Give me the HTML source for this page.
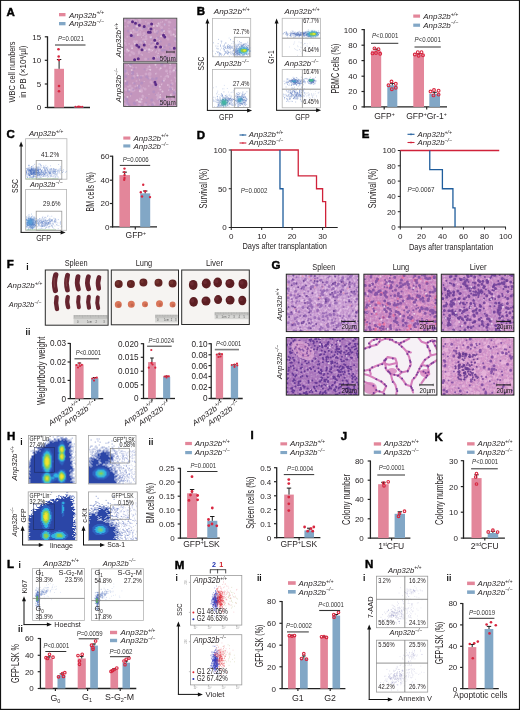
<!DOCTYPE html>
<html><head><meta charset="utf-8"><title>Figure</title>
<style>html,body{margin:0;padding:0;background:#fff;}svg{display:block;}text{font-family:'Liberation Sans', Arial, sans-serif;}</style>
</head><body>
<svg width="520" height="710" viewBox="0 0 520 710">
<rect x="0" y="0" width="520" height="710" fill="#111"/>
<rect x="1.1" y="0.9" width="517.8" height="707.9" fill="#fff"/>
<defs><filter id="b1" x="-50%" y="-50%" width="200%" height="200%"><feGaussianBlur stdDeviation="1.0"/></filter><filter id="b2" x="-50%" y="-50%" width="200%" height="200%"><feGaussianBlur stdDeviation="1.8"/></filter><filter id="b05" x="-50%" y="-50%" width="200%" height="200%"><feGaussianBlur stdDeviation="0.5"/></filter><filter id="tx" x="0" y="0" width="100%" height="100%"><feTurbulence type="fractalNoise" baseFrequency="0.45" numOctaves="2" seed="4"/><feColorMatrix type="matrix" values="0 0 0 0 0.33 0 0 0 0 0.13 0 0 0 0 0.45 1.8 0 0 0 -0.62"/></filter><filter id="tw" x="0" y="0" width="100%" height="100%"><feTurbulence type="fractalNoise" baseFrequency="0.5" numOctaves="2" seed="9"/><feColorMatrix type="matrix" values="0 0 0 0 1 0 0 0 0 0.92 0 0 0 0 0.98 0 1.8 0 0 -0.75"/></filter></defs>
<clipPath id="c1"><rect x="123.60" y="18.20" width="53.20" height="43.60"/></clipPath>
<g clip-path="url(#c1)">
<rect x="123.60" y="18.20" width="53.20" height="43.60" fill="#c496bd" />
<path fill="none" stroke="#d7b3d2" stroke-width="2" stroke-linecap="round" stroke-opacity="0.6" d="M123.7 20.6h0m46.7 1.8h0m-14.3 2.6h0m4.6-2.4h0m-35.4 4.2h0m2.6-.8h0m8.4.4h0m32.8-.8h0m-17.9 5.2h0m2.9-.2h0m-20.3 1.9h0m4.2.8h0m2.4-1.4h0m14.7.3h0m-27.7 4.5h0m38.8-.6h0m-29.9 5.8h0m9.4 1.6h0m5.6-1.4h0m-25.3 2.9h0m3.1-1.2h0m26.6 1.7h0m.7.3h0m1.6-2h0m8.2 1.6h0m-15.4 4h0m2.4 0h0m-28.9 1.3h0m6.9 1.3h0m17.8.3h0m6.8 0h0m-31.5 2.4h0m14.6-1.2h0m2.5 1h0m16.4-1.1h0m8.7.7h0m4.9-1.4h0m-14.4 3.1h0m4.6 2.6h0m-26.5 1.9h0m28.3-1.4h0m5.6 2.5h0m1.4-2.4h0m0 2.2h0m3.7-2.6h0"/>
<path fill="none" stroke="#d7b3d2" stroke-width="3" stroke-linecap="round" stroke-opacity="0.6" d="M131.9 18.4h0m1.2.8h0m-8.3 1.6h0m10.9.4h0m3.9-1.6h0m.5 2h0m26-1.8h0m3 2.2h0m-40.6.5h0m7.1 1h0m12.7.1h0m11 1.7h0m-19.2 2.6h0m21.5-.5h0m-31.1 3.5h0m2.9-.6h0m4.6-.4h0m3.8-.7h0m15.1 2.1h0m17.9-2.2h0m-34.6 5.2h0m3.9-.8h0m17.7-.9h0m-22.2 2h0m6.3 1.5h0m4.7.9h0m20.7-2.3h0m-27.9 5.1h0m2.7-1h0m10.9-.3h0m9.2-.9h0m1.9 1.4h0m-43.1 4h0m9.1-1.5h0m2.5.1h0m4.2 1.2h0m-9.2 3.1h0m19.7.4h0m2.1-1.1h0m-13.8 1.9h0m2.8 1.9h0m3.6-.5h0m25.7-.1h0m-44.7 2.9h0m12.2.4h0m9.6-2.2h0m2.6 1h0m7.7-.3h0m-29 4.8h0m2.6-2.3h0m1.1.7h0m29.5 1.3h0m-8.6 2.9h0m3.5-.8h0m.6.1h0m12.5.5h0m3.6.2h0m-29.3 1.5h0m22.5.6h0m-32 1.9h0"/>
<path fill="none" stroke="#d7b3d2" stroke-width="4" stroke-linecap="round" stroke-opacity="0.6" d="M130.2 21.2h0m6 10.1h0m33.6.6h0m6 8.3h0m-2.8 15.3h0"/>
<path fill="none" stroke="#f0e2ee" stroke-width="1" stroke-linecap="round" stroke-opacity="0.6" d="M145.8 21.8h0m16.6.1h0m-10.3 1.2h0m-15.6 2.9h0m12 2.2h0m-15 1.7h0m21.2-.1h0m13.3 1.1h0m1-2.1h0m-36.2 5.1h0m15.1-2.1h0m6.9.1h0m9.7 1.7h0m5.1-1.7h0m-28.2 5.3h0m1.7-1.7h0m-18.3 3.6h0m1 1.1h0m18.6 1.7h0m15-1.2h0m-10.3 3.6h0m-10.9 2.9h0m16.3.5h0m-2 2.7h0m3.9.7h0m-14 4h0m16-1.8h0m9.6.7h0m-10.2 3.3h0m11.5.1h0m1.5.4h0m-10.4 2h0"/>
<path fill="none" stroke="#f0e2ee" stroke-width="2" stroke-linecap="round" stroke-opacity="0.6" d="M158.5 23.6h0m6.3.9h0m-27.4 1.9h0m16.3-.3h0m3.5-.1h0m6.7 5.1h0m-32.8 1.6h0m6.6 2.2h0m23.4 1.3h0m12.6-1.7h0m1.7 1.7h0m-24.3 1.3h0m-6 4.3h0m10.3.6h0m-20.6 1.3h0m-7.6 5.7h0m4.9-1.1h0m29.7-.7h0m-33.1 3.2h0m13.6-1.3h0m2.6.7h0m4.3-.6h0m14.5 10.5h0"/>
<path fill="none" stroke="#a88ac6" stroke-width="2" stroke-linecap="round" stroke-opacity="0.5" d="M126.8 19.2h0m8.7-.9h0m-11.7 1.2h0m5.6.6h0m22.4-.3h0m-17.5 5.4h0m3.7-2.7h0m27.3 2h0m-35.8 1h0m4.5 1.8h0m8.7 1.1h0m32.3-.7h0m-16.9 3.8h0m-1 1.7h0m-27.4 2h0m1.7.4h0m32.5.1h0m-12.4 2.6h0m6.5-.7h0m-14.7 3.7h0m.7 1h0m7.7.7h0m9.1-1.4h0m3.8 5.5h0m5.3 1.4h0m-23.1 2.7h0m14.9-.7h0m3.3-.6h0m2 .9h0m4.4-1.2h0m-31.9 6.1h0m13.5 2.8h0m5.4-1h0m16.2-.4h0m-26.2 1.8h0m3.9-.2h0m7.5 0h0m.1 1.8h0"/>
<path fill="none" stroke="#a88ac6" stroke-width="3" stroke-linecap="round" stroke-opacity="0.5" d="M148.8 25.4h0m-3.1 2.8h0m-17.4 2.8h0m8.6-1.2h0m25.4.4h0m-28.6 6.2h0m41.7 2.6h0m-35.6 5.7h0m29.5-.3h0m-6.3 5.8h0m3.3 6.9h0m-9 3.7h0m9.2-2h0"/>
<path fill="none" stroke="#a88ac6" stroke-width="1" stroke-linecap="round" stroke-opacity="0.5" d="M132.7 19.8h0m9.3 3.8h0m3.1 1.9h0m0 10h0m20.7 9.9h0m-20.5 3.5h0m-8.4 3.4h0m18.7-2.4h0m16.8 9.3h0"/>
<path fill="none" stroke="#5b2c88" stroke-width="3" stroke-linecap="round" d="M132.5 21.7h0m3 1.6h0m3.9 1.9h0m12.2-1.1h0m-7.4 2.4h0m6.8 2.6h0m-2.6 3.2h0m1.9 0h0m-19 3.2h0m32.2-.2h0m1.3 1.7h0m-10.1 3.2h0m2.7 3.2h0m-20.6 1.9h0m7.4-.3h0m-5.3 2.1h0m16.9 0h0m4.8 0h0m13.7 1.1h0m-32.3 1.5h0m11.7 8.5h0m-19.1 1.6h0m3.7-1.1h0"/>
</g>
<rect x="123.60" y="18.20" width="53.20" height="43.60" fill="none" stroke="#4a4a4a" stroke-width="0.9" />
<line x1="166.60" y1="52.00" x2="174.30" y2="52.00" stroke="#222" stroke-width="0.9" />
<line x1="166.60" y1="50.80" x2="166.60" y2="53.20" stroke="#222" stroke-width="0.6" />
<line x1="174.30" y1="50.80" x2="174.30" y2="53.20" stroke="#222" stroke-width="0.6" />
<text x="159.8" y="60.5" font-size="7" fill="#222" textLength="16.0" lengthAdjust="spacingAndGlyphs" >50µm</text>
<clipPath id="c2"><rect x="123.60" y="63.10" width="53.20" height="43.40"/></clipPath>
<g clip-path="url(#c2)">
<rect x="123.60" y="63.10" width="53.20" height="43.40" fill="#c496bd" />
<path fill="none" stroke="#d7b3d2" stroke-width="2" stroke-linecap="round" stroke-opacity="0.6" d="M126.8 65.5h0m3.9 1.2h0m1.1-.7h0m18.1 1.1h0m6.7.1h0m-23.8.5h0m3.4-.1h0m11 1.4h0m12.4.6h0m-3.3 3.8h0m9.9-1.9h0m3.9-.7h0m6.6.8h0m-39.6 2h0m3.9 2.5h0m1.9-.4h0m24.2-.3h0m0 .4h0m-6.1.7h0m4.5.1h0m9.3.9h0m-38.3 3.4h0m19 .9h0m.7.5h0m15.2-1.8h0m4.4 1h0m-42.8 1.5h0m19 .6h0m7.3 1.5h0m2.4-1h0m6.1.6h0m.9.5h0m-40.6 1.5h0m7.3-.3h0m8 1.7h0m5.3-2.2h0m20.9 1h0m-43.5 3.4h0m8.3.3h0m25.2-1h0m.9.2h0m9.1-.3h0m4.6.6h0m-15.8 2.8h0m13.3 1h0m3.4-1.8h0m-32.6 3.4h0m-5.8 4.4h0m3.1-1.5h0m6.3-.7h0m-22.3 5.4h0m2.2-1h0m9.9-1.3h0m17.4 1.5h0m10 1.1h0m-13.8 1.6h0m13.2-.2h0m10-.2h0"/>
<path fill="none" stroke="#d7b3d2" stroke-width="3" stroke-linecap="round" stroke-opacity="0.6" d="M148.8 67h0m16.1-1h0m5.5.9h0m-44.4 3.6h0m44.2-2.4h0m4.9.1h0m-50.8 2.9h0m2.6 1.9h0m39.7-2.2h0m3.7 1.1h0m3.1-1h0m-39.4 5.3h0m12-2.3h0m21.8 2.3h0m-17.9 1.6h0m14.7 1h0m-13.7 3.1h0m25.4-1.3h0m-4.1 2.8h0m-42.1 2.7h0m1.9 2.4h0m8.2-1.7h0m31.8 1.1h0m-46.6 1h0m4.3 1.1h0m2.8.7h0m12.7-1.6h0m-3.7 2.5h0m1.4 4.8h0m14.1-1.5h0m1.4 2.5h0m1.1-2h0m-35.3 4.1h0m33.6-1h0m14.6-.7h0m.5 1.3h0m-46.6 4.3h0m13.6-2.6h0m1.3 1h0m24.1-.6h0m4.8.9h0m-45.4 2.2h0m14.3.7h0m6.4 1h0m0-2h0m8.7-.2h0m10.3 2.1h0m10.9-1.1h0"/>
<path fill="none" stroke="#d7b3d2" stroke-width="4" stroke-linecap="round" stroke-opacity="0.6" d="M149.7 73.9h0m-8.7 16.4h0m25.2 7.8h0m-5.5 3.9h0"/>
<path fill="none" stroke="#f0e2ee" stroke-width="2" stroke-linecap="round" stroke-opacity="0.6" d="M170.2 63.9h0m-40.1 1.9h0m25.4-1.1h0m-23.8 5.2h0m18.6-.1h0m10.4-1.6h0m13.3 2h0m-36.4 5.4h0m-12.2 5.4h0m38.4-.2h0m-4 6h0m-30.5 3.2h0m10.5 1.2h0m22.7.3h0m-35.1 5.5h0m32.9.3h0m10.7-1.7h0m-33.8 4.7h0m4.4-1h0m-2.6 2.4h0m1 .3h0m31.1-.6h0m1.9.4h0m-45.8 3.6h0m40.3.9h0"/>
<path fill="none" stroke="#f0e2ee" stroke-width="1" stroke-linecap="round" stroke-opacity="0.6" d="M128.7 64.5h0m20.7 1.5h0m-.4 3.4h0m-17.5 4h0m15.4-2.7h0m20.5 2.5h0m-38.9 1.1h0m26.9-.4h0m14.7.3h0m-1.7 2.8h0m7.7 1.4h0m-36.6 1.6h0m4.7 1.5h0m-7 3.8h0m24.4-.6h0m6 .5h0m-30 .7h0m23.2 3.4h0m7.7.9h0m4-.9h0m-23.5 5h0m21.3 0h0m-45.7.6h0m6 1.1h0m29.9-1.5h0m-.6 6h0m8.8-1.2h0m-5 1.2h0m7.1 3h0m1.8.3h0"/>
<path fill="none" stroke="#a88ac6" stroke-width="2" stroke-linecap="round" stroke-opacity="0.5" d="M125.6 69.7h0m8.6-.6h0m10.3.1h0m31.6 1.1h0m-50.2.7h0m11.4 6.6h0m11 .9h0m8.5-.5h0m-29.4 3.9h0m35.2-.6h0m-28.5 2.2h0m.6.1h0m36.3 1.2h0m-34.7 3.2h0m2.8-2.4h0m13.6 1h0m3.1.1h0m-22.6 3.1h0m-2 4.2h0m-3.6 5.9h0m19.2-2.1h0m12.3 1.9h0m-12.9 3h0m-16.5 2.6h0m12.4.4h0m7.1-.3h0m12.1-1.3h0m1.2-.3h0"/>
<path fill="none" stroke="#a88ac6" stroke-width="3" stroke-linecap="round" stroke-opacity="0.5" d="M130.9 64.4h0m30.9-.1h0m-36.8 7.1h0m7.7 1h0m-6.9 4h0m6.7-2.7h0m.1 4.4h0m8.3-.8h0m5.8-.6h0m5.8 2.3h0m3.4-.1h0m-29.3 4.8h0m15.1-.8h0m-2.4 4.4h0m-10.8 3.6h0m42.1-1.9h0m-16.8 2.8h0m20.4 1h0m-47.9 5.9h0m25.5 1.4h0m11.4-.6h0m-36.5 2.8h0m7.6.7h0m-6.4 1h0m7-.4h0m17.7 1.1h0m7.8 0h0m8.2-.1h0"/>
<path fill="none" stroke="#a88ac6" stroke-width="1" stroke-linecap="round" stroke-opacity="0.5" d="M176.7 63.6h0m-43.5 8.4h0m5.7 9.2h0m16.6 13.3h0"/>
<path fill="none" stroke="#5b2c88" stroke-width="3" stroke-linecap="round" d="M155 82.3h0m.8 2.3h0"/>
</g>
<rect x="123.60" y="63.10" width="53.20" height="43.40" fill="none" stroke="#4a4a4a" stroke-width="0.9" />
<line x1="166.60" y1="96.90" x2="174.30" y2="96.90" stroke="#222" stroke-width="0.9" />
<line x1="166.60" y1="95.70" x2="166.60" y2="98.10" stroke="#222" stroke-width="0.6" />
<line x1="174.30" y1="95.70" x2="174.30" y2="98.10" stroke="#222" stroke-width="0.6" />
<text x="159.8" y="105.4" font-size="7" fill="#222" textLength="16.0" lengthAdjust="spacingAndGlyphs" >50µm</text>
<text x="121.0" y="40.0" font-size="7.6" font-style="italic" text-anchor="middle" fill="#231f20" textLength="34.6" lengthAdjust="spacingAndGlyphs" transform="rotate(-90 121.0 40.0)" >Anp32b<tspan dy="-3.0" font-size="4.8">+/+</tspan></text>
<text x="121.0" y="85.0" font-size="7.6" font-style="italic" text-anchor="middle" fill="#231f20" textLength="34.6" lengthAdjust="spacingAndGlyphs" transform="rotate(-90 121.0 85.0)" >Anp32b<tspan dy="-3.0" font-size="4.8">−/−</tspan></text>
<text x="213.8" y="13.8" font-size="7.8" font-style="italic" fill="#231f20" textLength="36.0" lengthAdjust="spacingAndGlyphs" >Anp32b<tspan dy="-3.2" font-size="5.2">+/+</tspan></text>
<text x="215.0" y="66.3" font-size="7.8" font-style="italic" fill="#231f20" textLength="34.0" lengthAdjust="spacingAndGlyphs" >Anp32b<tspan dy="-3.2" font-size="5.2">−/−</tspan></text>
<text x="284.5" y="13.8" font-size="7.8" font-style="italic" fill="#231f20" textLength="35.0" lengthAdjust="spacingAndGlyphs" >Anp32b<tspan dy="-3.2" font-size="5.2">+/+</tspan></text>
<text x="284.5" y="66.3" font-size="7.8" font-style="italic" fill="#231f20" textLength="34.0" lengthAdjust="spacingAndGlyphs" >Anp32b<tspan dy="-3.2" font-size="5.2">−/−</tspan></text>
<rect x="212.50" y="18.40" width="38.20" height="38.40" fill="none" stroke="#b5b5b5" stroke-width="0.8" />
<clipPath id="c3"><rect x="212.50" y="18.40" width="38.20" height="38.40"/></clipPath>
<g clip-path="url(#c3)">
<path fill="none" stroke="#4a6cb8" stroke-width=".8" stroke-opacity="0.55" d="M239.2 41.6h.8m.9 1.1h.8m5.6-.5h.8m-4.4 1.3h.8m.9-.1h.8m-8.6 1h.8m1.4.4h.8m2.6 0h.8m-.4-.1h.8m-.2-.3h.8m-.2-.2h.8m.6.7h.8m.5-.9h.8m-7.1 1h.8m-.6.6h.8m-.3-.3h.8m-.5-.2h.8m0 0h.8m-.6.1h.8m1 .1h.8m1.2.2h.8m.2.3h.8m-.8-.1h.8m-14.6.6h.8m1.6.5h.8m.2-.7h.8m.9.7h.8m-.2-.4h.8m.3.1h.8m-.6.4h.8m.2-.9h.8m-.2.7h.8m.3-.2h.8m-.3-.5h.8m1.2.5h.8m-.7.1h.8m-11.5.9h.8m.1.3h.8m1.5-.2h.8m-.6-.7h.8m.5.8h.8m-.6-.5h.8m-.5-.3h.8m0 .1h.8m-.7-.1h.8m-.4.1h.8m-.4.3h.8m-.2.2h.8m-.4-.1h.8m-.2.4h.8m.1 0h.8m-.1-.6h.8m-.4 0h.8m-.2.5h.8m-.6 0h.8m-.8 0h.8m.5-.6h.8m.4.5h.8m-22.3.8h.8m7.2 0h.8m-.5.5h.8m.6-.9h.8m-.3.8h.8m-.5-.3h.8m-.4-.1h.8m.6 0h.8m-.7.1h.8m-.7.2h.8m-.7.2h.8m-.5-.5h.8m-.7.2h.8m.7-.4h.8m-.5-.2h.8m-.3.3h.8m-.5-.4h.8m-.6.8h.8m-.5-.5h.8m-.7.3h.8m0-.3h.8m-.1.6h.8m-.5-.2h.8m-.7.2h.8m-.6.1h.8m-.5-.8h.8m.3.1h.8m.8.5h.8m-15.6.6h.8m-.3-.3h.8m-.3.3h.8m.5.1h.8m0-.3h.8m.5.7h.8m.2-.9h.8m-.7.5h.8m-.6.1h.8m-.7-.2h.8m-.5 0h.8m1.3.1h.8m-.3-.1h.8m-.5.2h.8m-.5 0h.8m-.7-.5h.8m-.1-.1h.8m.3.8h.8m-.4-.6h.8m-.7.4h.8m-.7-.2h.8m-.8 0h.8m-.4.6h.8m-.6-.4h.8m-.5.2h.8m-.5-.3h.8m-.7-.3h.8m-.6.5h.8m-.7.1h.8m-.4-.1h.8m-.6.1h.8m-14.5.6h.8m.4-.1h.8m.3.4h.8m.1-.1h.8m-.4.1h.8m-.3-.3h.8m-.3-.3h.8m-.5.9h.8m-.8-.4h.8m-.4 0h.8m-.7-.2h.8m-.6.5h.8m-.8-.7h.8m-.7.4h.8m-.7-.1h.8m-.2-.3h.8m-.6-.1h.8m-.6.6h.8m-.4-.7h.8m-.7 0h.8m-.5.3h.8m-.6.5h.8m-.1.1h.8m-.5 0h.8m-.5-.6h.8m.3-.1h.8m-.5.8h.8m-.5-.1h.8m-.6-.7h.8m-.1.3h.8m-.5.4h.8m-.6-.7h.8m-.7-.1h.8m0 .1h.8m-16.4.9h.8m1.6.1h.8m-.2.1h.8m.1-.2h.8m-.8.5h.8m-.3.1h.8m-.6-.2h.8m-.2-.4h.8m.1.3h.8m-.6-.3h.8m-.7.7h.8m-.8-.6h.8m-.7.5h.8m-.1.2h.8m-.4.1h.8m.5 0h.8m-.6-.6h.8m-.5.2h.8m-.5-.3h.8m-.6 0h.8m-.8 0h.8m-.7.6h.8m-.7-.8h.8m-.8.7h.8m-.7-.5h.8m-.4-.2h.8m-.8.8h.8m-.6-.5h.8m-.8.5h.8m-.6-.1h.8m.2-.3h.8m-.7-.4h.8m-.1.2h.8m0-.1h.8m-.4.1h.8m-.7.1h.8m1.7-.4h.8m-.4.2h.8m-.8.2h.8m-.8.2h.8m-.6-.5h.8m-.8-.1h.8m-15.5 1.2h.8m-.8-.1h.8m.8.7h.8m-.5-.2h.8m-.6.2h.8m0-.5h.8m-.6.3h.8m-.4.2h.8m-.2 0h.8m-.5-.1h.8m-.7-.4h.8m-.6.3h.8m-.8 0h.8m-.4-.2h.8m-.5-.4h.8m.4.4h.8m.3 0h.8m-.3-.1h.8m-.2.7h.8m1.2-.9h.8m-10.3 1.2h.8m-.7.4h.8m-.4-.3h.8m-.7.1h.8m.5.1h.8m.3-.4h.8m.1.1h.8m-.4-.1h.8m-.1.4h.8m-.5-.2h.8m-.5-.4h.8m1.8.4h.8m.3.3h.8m-.4-.3h.8m1.9.1h.8m-.1.4h.8m-17.2.4h.8m2 .4h.8m-.3-.4h.8m-.1.6h.8m-.6-.6h.8m-.6-.1h.8m.2.4h.8m-.6 0h.8m-.6-.4h.8m-.8.7h.8m-.4-.9h.8m.2 1h.8m1.4-.5h.8m0-.1h.8m-.5.3h.8m-.3-.7h.8m-.7.6h.8m.4-.5h.8m.1.2h.8m-.3.3h.8m-.7-.5h.8m.2-.1h.8m-12.3 1.9h.8m.1-.2h.8m.8-.7h.8m-.1.4h.8m1.7-.2h.8m-.6 0h.8m.4.3h.8m-.4-.1h.8m-2.7 1h.8"/>
<path fill="none" stroke="#4a6cb8" stroke-width=".8" stroke-opacity="0.55" d="M218.1 39.4h.8m11.3.1h.8m-10.3 1.6h.8m-.1.2h.8m11.3.2h.8m-21.2 1.3h.8m20.1-.3h.8m-17.1 1.1h.8m2.5-.7h.8m3.6.1h.8m-.7.1h.8m-2.2 1.1h.8m2.9.3h.8m5-.6h.8m1.1.3h.8m2.8-.1h.8m3 .3h.8m-23.7.5h.8m3.2.5h.8m2.3.4h.8m1.3-.3h.8m6.1-.1h.8m1.2-.3h.8m1.8.5h.8m.2.2h.8m-27 .2h.8m1.2.2h.8m1.7-.1h.8m-.7-.1h.8m1.7.1h.8m-.4-.1h.8m1.1.8h.8m1-.7h.8m-.5.3h.8m.2 0h.8m0 0h.8m.4-.2h.8m.6.3h.8m.2-.2h.8m.6 0h.8m.7.3h.8m-.3.1h.8m.3-.5h.8m-14 .9h.8m.1-.1h.8m1.7.9h.8m-.7-.3h.8m-.7-.4h.8m.3.1h.8m-.2 0h.8m-.6.1h.8m.3-.3h.8m-.6.4h.8m-.2.4h.8m3-.2h.8m-19.3.5h.8m3.7-.1h.8m1.5.6h.8m-.3-.8h.8m.6 0h.8m-.4.2h.8m.2.6h.8m2.9-.1h.8m.6-.6h.8m.2.5h.8m1-.2h.8m5-.3h.8m6.5.4h.8m-31.4.5h.8m.3 0h.8m4.1.2h.8m.4.6h.8m4.8-.3h.8m2.5 0h.8m.5-.5h.8m.2.9h.8m.1-.9h.8m-.1 0h.8m.7.5h.8m-.7-.5h.8m0 .8h.8m-.4 0h.8m1-.4h.8m1.4-.2h.8m-24.6.9h.8m3.3-.1h.8m1.9.7h.8m5.8-.3h.8m-.6.1h.8m1.8-.4h.8m-.3.7h.8m-.3-.4h.8m-.6.2h.8m-25.6.6h.8m3.2.4h.8m.8.4h.8m4.8-1h.8m.1.5h.8m-.2.2h.8m.7.2h.8m0-.8h.8m2.1.3h.8m1.9-.4h.8m.8.1h.8m-.1-.1h.8m0 .6h.8m.1.3h.8m-20.9.5h.8m-.2.5h.8m.9.1h.8m5.3-.2h.8m0-.5h.8m.9-.1h.8m-.3.3h.8m-.8-.3h.8m-.4.3h.8m2.1-.3h.8m2.5.5h.8m-.4-.5h.8m-.7.7h.8m-.3-.5h.8m4.1-.2h.8m1.7.6h.8m-29.1 1h.8m3.2-.5h.8m-.5.1h.8m0 .1h.8m-.4.5h.8m3.5-.9h.8m.7.2h.8m-.1.2h.8m-.3-.2h.8m-.8.5h.8m1.5-.5h.8m-.2-.3h.8m.5.3h.8m0 .3h.8m.3.1h.8m-.7-.1h.8m-.6.4h.8m-.7-.8h.8m-.5.7h.8m-.3-.7h.8m1.6.4h.8m-.7.2h.8m2.7-.1h.8m-23 1.1h.8m.5-.3h.8m.7-.1h.8m1.7 0h.8m-.7-.3h.8m2.6.5h.8m2.4.1h.8m1.5.2h.8m.1-.9h.8m.3.8h.8m3.2-.5h.8m6.2-.1h.8m1.3 0h.8m-29.9.9h.8m1.1.7h.8m1.7-.3h.8m8.5-.4h.8m.6.3h.8m.1-.2h.8m4.7.2h.8m6 .1h.8m-35 .8h.8m4.8-.1h.8m9.4.2h.8"/>
<path fill="none" stroke="#8aa0d6" stroke-width=".8" stroke-opacity="0.5" d="M242 34.4h.8m-8.1 2.3h.8m-6.8 1.3h.8m4.9 1.2h.8m-5 .9h.8m1.6 1.5h.8m3.9-.7h.8m1.9 1.7h.8m-9.4.9h.8m.7-.6h.8m4.1.2h.8m.9-.2h.8m1.2.4h.8m3.8.5h.8m2.1.1h.8m-14.5 1h.8m1.3-.1h.8m-.2-.2h.8m1.5-.5h.8m.3.5h.8m-11.8.6h.8m2.6.3h.8m.4.1h.8m2 .2h.8m3.8-.2h.8m-15.7.5h.8m1.3 0h.8m6.3.1h.8m3.4-.2h.8m-.1-.1h.8m.2 1h.8m1.6-.8h.8m-14 1.5h.8m-.5.2h.8m.5.1h.8m-9.2.1h.8m1.8.8h.8m.9-.4h.8m-.7 0h.8m7.7.4h.8m3.9-.5h.8m2 .1h.8m-10.3 2.1h.8m2-.3h.8m-.5.1h.8m2 .5h.8m-7.9.6h.8m3.2 0h.8m5.1-.4h.8m-11.5 1.7h.8m1.5-.6h.8m4.8.6h.8m.2-.5h.8m-18.6 1.3h.8m12.2-.4h.8m-4.5 1.5h.8m3.2.2h.8m-1.7 1.3h.8m2.7.2h.8m1-.1h.8"/>
<ellipse cx="243.5" cy="50.6" rx="5.0" ry="3.0" fill="#3fb8d8" filter="url(#b1)"/>
<ellipse cx="243.8" cy="50.6" rx="3.2" ry="1.8" fill="#8ccc4a" filter="url(#b05)"/>
<ellipse cx="244.5" cy="50.5" rx="1.4" ry="1.0" fill="#f2e62e" filter="url(#b05)"/>
</g>
<rect x="234.30" y="37.30" width="15.10" height="19.50" fill="none" stroke="#9a9a9a" stroke-width="0.8" />
<text x="249.4" y="34.2" font-size="7.2" text-anchor="end" fill="#231f20" textLength="16.3" lengthAdjust="spacingAndGlyphs" >72.7%</text>
<rect x="212.50" y="69.40" width="38.20" height="38.10" fill="none" stroke="#b5b5b5" stroke-width="0.8" />
<clipPath id="c4"><rect x="212.50" y="69.40" width="38.20" height="38.10"/></clipPath>
<g clip-path="url(#c4)">
<path fill="none" stroke="#4a6cb8" stroke-width=".8" stroke-opacity="0.55" d="M223.5 91.9h.8m-7.9 1.9h.8m3.8 0h.8m-.9.3h.8m0 1.5h.8m-.7.2h.8m-.4-.4h.8m2.2.3h.8m.4-.6h.8m2.4.8h.8m-13.5.8h.8m-.8-.4h.8m4.2.2h.8m2.1-.6h.8m.7.9h.8m-.2-.1h.8m-8 .9h.8m1.8.2h.8m-.2-.8h.8m-.8.8h.8m.1 0h.8m.1-.4h.8m1.1.3h.8m-7.9 1h.8m4-.3h.8m-.1-.2h.8m-.7.1h.8m1.5-.2h.8m-.7.2h.8m-.3-.4h.8m-.4.2h.8m-.4.4h.8m-.3 0h.8m-.1.2h.8m-.6-.4h.8m-.7.2h.8m-.3-.5h.8m.2.7h.8m-19.8.6h.8m1.9.5h.8m1.1-.3h.8m1.4.2h.8m-.3-.6h.8m1.1.4h.8m-.6-.1h.8m-.7-.2h.8m-.6-.1h.8m-.7.1h.8m-.4.4h.8m-.5-.4h.8m-.7.7h.8m1-.5h.8m-.7-.2h.8m-.8.1h.8m-.7.4h.8m-.1-.7h.8m-.5.7h.8m.1-.7h.8m.2.1h.8m-.8.8h.8m-.7-.7h.8m-.3-.2h.8m-.2.4h.8m-.7.2h.8m.6.2h.8m-.4-.3h.8m-.5-.2h.8m1.2.2h.8m-20.8 1.4h.8m1.9-.9h.8m.2.5h.8m-.6.4h.8m.2-.6h.8m.6.1h.8m.3 0h.8m0-.4h.8m-.7.7h.8m-.7 0h.8m.1-.8h.8m-.6 0h.8m-.5.2h.8m-.1.7h.8m-.6 0h.8m-.6 0h.8m-.5-.5h.8m-.7.1h.8m-.7-.4h.8m-.3.4h.8m-.8-.1h.8m-.7 0h.8m0-.1h.8m-.6.4h.8m-.5-.4h.8m-.7.4h.8m-.5-.5h.8m-.8.7h.8m-.4-.5h.8m.2-.3h.8m-.4-.1h.8m-.5.7h.8m-.3.2h.8m-.3-.4h.8m-.3-.1h.8m.2.2h.8m-18 1.2h.8m2.9-.8h.8m-.1.3h.8m-.4.6h.8m0-.9h.8m-.2.1h.8m-.2.7h.8m-.7-.4h.8m-.7.4h.8m-.6.1h.8m-.6.1h.8m-.7-.8h.8m-.8.3h.8m-.7.3h.8m-.8-.2h.8m-.3-.5h.8m-.3.8h.8m-.5-.5h.8m-.6.3h.8m-.6-.2h.8m-.2.2h.8m-.7-.6h.8m-.7.5h.8m-.4-.3h.8m.8.2h.8m-.3.2h.8m-.2 0h.8m-.5-.5h.8m-.5-.1h.8m2.2.6h.8m-16.2.5h.8m.2.7h.8m.3-.6h.8m.5.2h.8m-.4-.1h.8m1.1.2h.8m-.6-.2h.8m-.6.3h.8m0 .1h.8m-.8-.8h.8m-.2.7h.8m-.8-.5h.8m-.1.7h.8m-.5-.3h.8m.7.3h.8m-.6-.7h.8m-.5.1h.8m-.8.4h.8m-.4-.3h.8m-.7.4h.8m.7.2h.8m.1-.4h.8m.4.1h.8m-.2-.6h.8m1.5.5h.8m-16.5.5h.8m-.3.8h.8m-.5-.9h.8m-.6.4h.8m.9-.2h.8m-.4 0h.8m-.6.7h.8m-.4-.6h.8m-.2.6h.8m-.5-.7h.8m-.6-.1h.8m-.4 0h.8m-.7.2h.8m-.8.2h.8m-.7-.5h.8m-.8.6h.8m-.7 0h.8m-.4.1h.8m-.5-.6h.8m-.6.7h.8m-.8-.3h.8m-.7 0h.8m-.2-.5h.8m-.5.1h.8m-.7.1h.8m-.7.6h.8m0-.7h.8m-.1-.1h.8m1.4.4h.8m-.8.2h.8m-.5-.1h.8m.4.3h.8m.6.1h.8m1.1-.1h.8m-.1-.5h.8m-18 1.3h.8m-.2.2h.8m-.5-.1h.8m1.5-.2h.8m-.4 0h.8m.5-.5h.8m-.8.5h.8m-.4 0h.8m-.5.2h.8m-.3 0h.8m-.8-.3h.8m-.7-.4h.8m-.5.8h.8m-.6-.5h.8m-.4.5h.8m-.6-.8h.8m-.8.1h.8m-.5.4h.8m-.7-.3h.8m-.7.7h.8m-.8-.3h.8m.7-.5h.8m-.5.2h.8m0-.1h.8m0 0h.8m-.6.1h.8m.1.1h.8m.2.4h.8m3-.4h.8m-.2.3h.8m3.7-.6h.8m-22.9 1.4h.8m-.5.4h.8m-.4-.6h.8m-.4 0h.8m-.1-.2h.8m0 .7h.8m-.3-.1h.8m.2-.2h.8m-.7-.2h.8m-.2 0h.8m-.8-.1h.8m-.5 0h.8m-.3.4h.8m1.1 0h.8m.9.3h.8m-.4-.4h.8m3.7-.4h.8m1.1 0h.8m3.1.7h.8m-21.5 1h.8m-.1-.4h.8m1.1-.1h.8m.2-.3h.8m-.6.8h.8m.2-.7h.8m.5.9h.8m.8-.8h.8m-.4.7h.8m.3-.6h.8m.9-.2h.8m-11.8 1h.8m.6-.1h.8m.2 0h.8m3.1 0h.8m-.6.2h.8"/>
<path fill="none" stroke="#4a6cb8" stroke-width=".8" stroke-opacity="0.55" d="M246.5 91.8h.8m-9.5.7h.8m3.8.4h.8m-.7-1h.8m-6.9 1.5h.8m2.4-.5h.8m4.6.5h.8m-9 .6h.8m-.6.6h.8m.4-.1h.8m-.2-.5h.8m-.5-.1h.8m1.8.1h.8m-.7.1h.8m-.6.7h.8m1-.8h.8m-.3.6h.8m-9.7.6h.8m.2-.1h.8m.5-.1h.8m2.5.9h.8m0-.1h.8m.2-.8h.8m-.3 0h.8m.2.9h.8m-13.8.3h.8m2.9.2h.8m.8 0h.8m-.7-.2h.8m-.4.6h.8m-.7-.1h.8m-.7 0h.8m.1-.4h.8m-.6 0h.8m-.2.2h.8m-.7-.3h.8m0 .3h.8m.2-.3h.8m0 .3h.8m-.6-.6h.8m-.2.7h.8m1.7 0h.8m-11.9.7h.8m1.7 0h.8m.2.2h.8m.5.3h.8m.2.1h.8m-.1-1h.8m-.5.5h.8m.8.1h.8m-.1-.3h.8m-.8.5h.8m-.7-.5h.8m-.4 0h.8m-.8.1h.8m-.2-.4h.8m-.2.6h.8m-.1-.2h.8m-11.5 1h.8m.7-.3h.8m-.2 0h.8m-.6.8h.8m-.2-.7h.8m-.1-.1h.8m-.5.5h.8m.3 0h.8m-.1.4h.8m-.6-1h.8m-.6.2h.8m-.7.4h.8m-.4-.5h.8m-.7.3h.8m-.4.3h.8m-.3.2h.8m2.2-.9h.8m-.2.6h.8m-14 .7h.8m-.5.4h.8m-.7-.2h.8m.4.4h.8m-.8 0h.8m-.7-.8h.8m.6.7h.8m1 .1h.8m-.6-.8h.8m0 .6h.8m.7.2h.8m-.6-.6h.8m-.7-.2h.8m-.4.5h.8m-.6-.3h.8m-.4.4h.8m-.5-.4h.8m-.8 0h.8m-.7.5h.8m-.4-.3h.8m-.5.1h.8m-.5.3h.8m-.8 0h.8m.2-.9h.8m-.4.5h.8m.6-.5h.8m.1.3h.8m-.7.1h.8m-12.8.9h.8m-.3.4h.8m-.4-.1h.8m-.2-.4h.8m.1 0h.8m-.4.7h.8m-.7-.5h.8m-.6-.4h.8m-.4 0h.8m-.7.9h.8m-.6-.7h.8m-.2-.1h.8m.2.3h.8m-.7-.3h.8m-.6.8h.8m.9-.3h.8m-.5.2h.8m0-.4h.8m-.7 0h.8m0-.2h.8m-.4 0h.8m-.7.6h.8m.1-.5h.8m-.7.3h.8m-.8-.1h.8m-.1.1h.8m-12.9 1.3h.8m-.2-.6h.8m.8.1h.8m-.6-.1h.8m.2.2h.8m-.4.1h.8m-.8.2h.8m.2-.6h.8m-.8 0h.8m-.6.5h.8m-.3-.6h.8m-.7.8h.8m-.2-.4h.8m0-.5h.8m.5.4h.8m-.3.1h.8m1.2-.5h.8m-.8.2h.8m.2.5h.8m-10.9.4h.8m.6.4h.8m-.4-.1h.8m-.6 0h.8m.6-.1h.8m-.4-.1h.8m2.1.4h.8m.1.1h.8m-.5 0h.8m-.5-.6h.8m-.3.4h.8m-.7.3h.8m-.7-.7h.8m-9 1.4h.8m-.5.4h.8m.8-.6h.8m-.3.3h.8m-.3-.1h.8m.1 0h.8m-.8.3h.8m-.5-.6h.8m-.6.2h.8m-.3.1h.8m-.7-.3h.8m-.7.8h.8m-.3-.3h.8m-.4.2h.8m-.1-.9h.8m-.5 0h.8m-.2.9h.8m.2-.4h.8m-8.1.8h.8m-.8.2h.8m.2.4h.8m1.2-.4h.8m.2.2h.8m-.3 0h.8m1.3-.2h.8m1.2 0h.8m-15.4 1.2h.8m2.5.1h.8m2.9-.8h.8m.1.6h.8m-.2 0h.8m2.5-.4h.8m.5-.2h.8m-.6.4h.8m-8.3 1.1h.8m-.7-.4h.8m-.1.7h.8m4.3.1h.8"/>
<path fill="none" stroke="#8aa0d6" stroke-width=".8" stroke-opacity="0.5" d="M223.9 85.4h.8m7.8 0h.8m-17.5 1.4h.8m-3.4 1h.8m9.5 1h.8m2.6-.3h.8m-5.6.4h.8m11.8.3h.8m-2.3 1.3h.8m-16.6.6h.8m-1.3 1.3h.8m10.4-.4h.8m1.8.6h.8m.2-.5h.8m.5 0h.8m2.2 1.3h.8m-18.3 1.1h.8m2.6.2h.8m-.5 0h.8m6.4-.4h.8m-9.8 1.2h.8m.5.2h.8m6-.4h.8m-8.5 1.2h.8m4.8-.2h.8m-14.3.9h.8m-.1.2h.8m4.8-.5h.8m5.7.5h.8m3.4-.1h.8m-15.5.7h.8m1.1.1h.8m-.8.7h.8m6.7-.3h.8m.7-.4h.8m-8.9 1.3h.8m5.4-.5h.8m-.3.1h.8m.7.2h.8m14.5.3h.8m-29.3 1.1h.8m3.8-.4h.8m2 .4h.8m-.7.1h.8m.9 0h.8m-.6-.8h.8m-.6 1h.8m-10.3.5h.8m16.6.1h.8m-14.4.7h.8m6 .1h.8m3-.1h.8m.1-.1h.8m5 .7h.8m-1.3 1h.8m-9 .5h.8m6.2.6h.8m0 .4h.8m-20.1 1.3h.8m14.5-.3h.8"/>
<ellipse cx="224.0" cy="102.5" rx="3.0" ry="3.0" fill="#3fb8a0" filter="url(#b1)"/>
<ellipse cx="240.0" cy="100.0" rx="2.2" ry="2.2" fill="#3fa8c8" filter="url(#b1)"/>
</g>
<rect x="234.30" y="88.10" width="15.10" height="19.40" fill="none" stroke="#9a9a9a" stroke-width="0.8" />
<text x="249.4" y="85.5" font-size="7.2" text-anchor="end" fill="#231f20" textLength="16.3" lengthAdjust="spacingAndGlyphs" >27.4%</text>
<rect x="282.20" y="18.30" width="38.20" height="38.30" fill="none" stroke="#b5b5b5" stroke-width="0.8" />
<clipPath id="c5"><rect x="282.20" y="18.30" width="38.20" height="38.30"/></clipPath>
<g clip-path="url(#c5)">
<path fill="none" stroke="#4a6cb8" stroke-width=".8" stroke-opacity="0.55" d="M291.7 31h.8m.3.3h.8m5.8 0h.8m2.1.6h.8m3.5-.6h.8m-.8.4h.8m-23.5.9h.8m-.2 0h.8m.3-.7h.8m-.4.2h.8m-.7.3h.8m3.2-.2h.8m.3.4h.8m.1-.5h.8m1 .7h.8m0-.8h.8m-.8.7h.8m.8.1h.8m-.1-.4h.8m-.6.5h.8m-.2-.8h.8m-.1 0h.8m.1.7h.8m-.2-.3h.8m.6.1h.8m-.5.1h.8m-.5-.3h.8m-.7-.2h.8m-.7.4h.8m-.4 0h.8m-.8-.3h.8m0 .2h.8m-.6-.2h.8m.2.4h.8m-.7 0h.8m-.8 0h.8m-.7-.6h.8m-.8-.2h.8m-.7.3h.8m-.1.2h.8m2.3.1h.8m7.9.3h.8m.4-.2h.8m-.1.1h.8m-37.3.8h.8m2.2 0h.8m-.7.1h.8m0-.4h.8m.1.1h.8m1 .1h.8m.4.2h.8m-.6.1h.8m-.8 0h.8m.2-.2h.8m-.5.2h.8m-.2-.2h.8m-.8-.6h.8m-.7.3h.8m-.6.3h.8m-.4 0h.8m-.6-.1h.8m-.4-.1h.8m-.8.3h.8m0 0h.8m0 .1h.8m-.2-.2h.8m-.2.1h.8m-.7-.6h.8m0 .7h.8m-.7-.4h.8m-.7-.3h.8m-.6.7h.8m-.2 0h.8m.1.1h.8m-.4-.7h.8m-.4.6h.8m-.7-.7h.8m0 .1h.8m-.4.1h.8m-.4.3h.8m-.8 0h.8m-.2 0h.8m-.7-.1h.8m-.5 0h.8m-.5.2h.8m-.6-.1h.8m-.6.3h.8m-.7-.3h.8m-.4-.3h.8m-.8.6h.8m-.6-.2h.8m.1-.4h.8m-.6.6h.8m-.3-.7h.8m-.2.2h.8m-.5.2h.8m2.2-.2h.8m-.1.4h.8m-.6.1h.8m.8-.5h.8m3.7.1h.8m.1-.4h.8m-36 1.1h.8m1.9.1h.8m-.3.4h.8m.3-.5h.8m-.4.5h.8m-.5.1h.8m1.4-.2h.8m-.7-.2h.8m-.6-.3h.8m.4.5h.8m.4-.1h.8m.2-.2h.8m-.7.6h.8m.1-.7h.8m-.6 0h.8m-.8.4h.8m-.8.3h.8m-.4-.7h.8m-.6.4h.8m-.4-.4h.8m-.6.3h.8m-.7-.3h.8m-.8.2h.8m.2.2h.8m-.5 0h.8m-.7-.1h.8m-.6-.4h.8m-.8.5h.8m-.5.1h.8m-.5 0h.8m-.4.2h.8m-.5 0h.8m-.7 0h.8m0-.6h.8m-.7.4h.8m-.7-.3h.8m-.3.4h.8m-.6.2h.8m-.5-.1h.8m-.3-.6h.8m-.7 0h.8m-.2.5h.8m-.5-.8h.8m-.7.9h.8m-.8-.1h.8m-.6-.2h.8m-.6-.4h.8m-.6.3h.8m-.1-.5h.8m-.1.9h.8m.7 0h.8m-.8-.3h.8m.2-.1h.8m-.5-.4h.8m-.6.1h.8m-.7.5h.8m-.8 0h.8m-.8.1h.8m-.2-.6h.8m.5-.2h.8m.4.6h.8m-.4-.4h.8m-.4 0h.8m.5-.2h.8m.6.7h.8m-28.7 1h.8m-.2-.2h.8m1.5.1h.8m-.3.4h.8m-.5-.5h.8m-.6.1h.8m-.5.3h.8m1-.1h.8m.3-.1h.8m.5.1h.8m0-.3h.8m-.2 0h.8m-.5-.4h.8m-.8.5h.8m-.5-.1h.8m-.6.4h.8m-.4-.9h.8m-.6.7h.8m-.1-.2h.8m-.4.1h.8m-.4-.2h.8m-.7-.2h.8m-.7-.2h.8m-.4.4h.8m-.8-.4h.8m-.8.7h.8m-.5-.1h.8m.7.2h.8m.7-.4h.8m-.8.3h.8m.2-.1h.8m.5-.3h.8m-.8.5h.8m-.3-.1h.8m-.1-.2h.8m-.4.4h.8m-.7-.8h.8m.4-.1h.8m-.3.5h.8m-.3-.1h.8m.9.1h.8m-.3.4h.8m1.7-.9h.8m-.8.7h.8m-24.1 1h.8m2.2.2h.8m.7-.7h.8m-.1-.1h.8m1.9.8h.8m-.5-.8h.8m1.3-.1h.8m1.7.3h.8m-.1.1h.8m2.6.4h.8m-.1-.8h.8m0 .2h.8m-.7.1h.8m.1.1h.8m-23.6.9h.8m5.4.2h.8m.6-.5h.8m14.9.5h.8m-.6-.1h.8"/>
<path fill="none" stroke="#4a6cb8" stroke-width=".8" stroke-opacity="0.55" d="M307.9 30h.8m3.1.5h.8m-4.7 1.1h.8m-.3-.1h.8m1.9-.4h.8m-.7.4h.8m0-.2h.8m-.5.3h.8m-.7.1h.8m-.3-.3h.8m.1-.2h.8m-.6 0h.8m-.7.4h.8m.4-.2h.8m-.2.3h.8m1.3-.7h.8m-12.3 1.8h.8m-.5-.8h.8m1.7.6h.8m-.5 0h.8m-.2 0h.8m0 .2h.8m-.6-.3h.8m-.6-.5h.8m-.7.6h.8m-.7.1h.8m-.5-.3h.8m.1.3h.8m-.6-.1h.8m-.7-.5h.8m-.6.7h.8m-.5-.2h.8m-.3-.2h.8m-.1.2h.8m0 .1h.8m-.7-.3h.8m-.7 0h.8m-.8-.4h.8m-.7.7h.8m-.5-.1h.8m-.7 0h.8m0 .1h.8m-.8-.1h.8m.4 0h.8m-12.3.5h.8m-.5.5h.8m-.1-.4h.8m-.7.6h.8m-.7-.5h.8m-.6.1h.8m-.3.4h.8m-.6-.7h.8m-.7.3h.8m-.7-.3h.8m-.4.1h.8m-.7-.1h.8m-.6.6h.8m-.7-.5h.8m-.6.4h.8m-.3-.7h.8m-.5.8h.8m-.8 0h.8m-.7-.7h.8m-.5.8h.8m-.6-.7h.8m-.8.1h.8m-.5.7h.8m-.8-.3h.8m-.6-.6h.8m-.5.3h.8m-.7 0h.8m-.8.4h.8m-.7-.3h.8m-.8 0h.8m-.6.4h.8m-.7-.6h.8m-.6-.2h.8m-.8.3h.8m-.7.6h.8m-.7-.1h.8m0-.6h.8m-.8.6h.8m-.6-.3h.8m-.6-.4h.8m-.6-.1h.8m.7 0h.8m-.3.6h.8m-.5-.3h.8m-.5.5h.8m-.4 0h.8m1-.4h.8m-16.9.5h.8m1.5.4h.8m-.6 0h.8m-.7.2h.8m0 .3h.8m0-.6h.8m-.4-.3h.8m-.1.6h.8m-.1-.6h.8m-.6.7h.8m-.8-.7h.8m-.8.6h.8m-.6-.5h.8m-.7.1h.8m-.2.1h.8m-.6-.2h.8m-.5 0h.8m-.3-.1h.8m-.5.7h.8m-.6-.5h.8m-.4.3h.8m-.7.2h.8m-.7-.6h.8m-.8.8h.8m-.7-.5h.8m-.8 0h.8m-.6-.4h.8m-.7 0h.8m-.7.8h.8m-.7-.4h.8m-.6.3h.8m-.4-.1h.8m-.4.3h.8m-.8-.7h.8m-.5.3h.8m-.8.3h.8m-.7-.4h.8m-.8.5h.8m.2-.6h.8m-.4 0h.8m-.8.2h.8m-.8-.2h.8m-.5.2h.8m-.5-.1h.8m.1.2h.8m-.8.3h.8m-.3-.3h.8m-.5.3h.8m-.8-.1h.8m-15.2.4h.8m-.2.2h.8m.7.5h.8m-.3-.7h.8m.5.8h.8m0-.2h.8m-.6-.5h.8m.2.2h.8m-.8-.2h.8m-.5.6h.8m-.6-.5h.8m-.7.6h.8m-.2-.7h.8m-.8.2h.8m-.4 0h.8m-.7-.1h.8m-.6 0h.8m-.8.5h.8m-.8-.8h.8m-.5.1h.8m-.3.6h.8m-.8-.4h.8m-.7 0h.8m-.7.5h.8m-.7-.7h.8m-.8.6h.8m-.5 0h.8m-.7-.6h.8m0 .1h.8m-.5.1h.8m-.7.2h.8m-.4-.6h.8m-.5.4h.8m-.4-.3h.8m-.4.2h.8m0 .4h.8m-.2 0h.8m-.3.2h.8m-19.8.9h.8m3.1.1h.8m4.3-.2h.8m-.8-.5h.8m-.6.7h.8m-.1-.3h.8m0 .3h.8m-.7-.8h.8m-.7 0h.8m-.3.1h.8m.2-.1h.8m-.5.6h.8m.2-.7h.8m-.4.3h.8m0-.2h.8m.3.7h.8m-.2-.4h.8m.1-.4h.8m-.3 0h.8m-11.9 1.5h.8m6.3-.1h.8m1.6-.4h.8"/>
<path fill="none" stroke="#9aaad6" stroke-width=".8" stroke-opacity="0.45" d="M303.2 38.5h.8m2.9.3h.8m-13.4 3.1h.8m3.5.1h.8m1.1.8h.8m-.4 0h.8m-8 .4h.8m9.7.3h.8m-.8.2h.8m.1-.2h.8m1 .2h.8m1.9-.6h.8m-17.1 1.3h.8m8.9.4h.8m-6.6 1h.8m7.8.1h.8m6.2-.1h.8m-15.9.9h.8m8.6-.4h.8m-18.7.7h.8m10.2.2h.8m.4.5h.8m-.1-.2h.8m6.1.4h.8m-.5-.4h.8m8.1 0h.8m-24.8 1.1h.8m.2.8h.8m3.1.2h.8m-.5 0h.8m5.2-.1h.8m9.3-.1h.8m1.1.1h.8m-21.8.6h.8m.1.3h.8m7.5.1h.8m-6.3.8h.8m.6 1.8h.8m8.1-.1h.8m-14.1 2.4h.8"/>
<ellipse cx="312.5" cy="33.9" rx="5.0" ry="2.4" fill="#3fb8c8" filter="url(#b1)"/>
<ellipse cx="313.0" cy="33.9" rx="3.2" ry="1.5" fill="#8ccc4a" filter="url(#b05)"/>
<ellipse cx="313.8" cy="33.9" rx="1.4" ry="0.9" fill="#f2e62e" filter="url(#b05)"/>
</g>
<line x1="282.20" y1="38.20" x2="320.40" y2="38.20" stroke="#8a8a8a" stroke-width="0.9" />
<line x1="302.40" y1="18.30" x2="302.40" y2="56.60" stroke="#8a8a8a" stroke-width="0.8" />
<text x="318.8" y="23.2" font-size="6.8" text-anchor="end" fill="#231f20" textLength="15.6" lengthAdjust="spacingAndGlyphs" >67.7%</text>
<text x="318.8" y="52.2" font-size="6.8" text-anchor="end" fill="#231f20" textLength="15.6" lengthAdjust="spacingAndGlyphs" >4.64%</text>
<rect x="282.20" y="69.60" width="38.20" height="38.20" fill="none" stroke="#b5b5b5" stroke-width="0.8" />
<clipPath id="c6"><rect x="282.20" y="69.60" width="38.20" height="38.20"/></clipPath>
<g clip-path="url(#c6)">
<path fill="none" stroke="#4a6cb8" stroke-width=".8" stroke-opacity="0.55" d="M292.7 77.3h.8m2.7.3h.8m3.9-.4h.8m-8.7 1.5h.8m-.8.1h.8m.4-.1h.8m-.5-.7h.8m1.4.2h.8m4.6-.1h.8m1.3.8h.8m.7-.5h.8m-19.9.5h.8m-.6.8h.8m-.7-.8h.8m.7.2h.8m1.7.1h.8m.6.4h.8m-.1-.3h.8m0-.3h.8m-.6.8h.8m.1-.3h.8m-.8 0h.8m-.2.2h.8m-.4-.2h.8m1.2.3h.8m-.7-.5h.8m.6.1h.8m.5.4h.8m1.5-.4h.8m-15.3 1.4h.8m.2-.3h.8m-.7-.4h.8m-.7.6h.8m.5-.2h.8m-.7-.4h.8m-.8.6h.8m-.2-.6h.8m-.3.1h.8m-.8-.3h.8m-.8.5h.8m-.7 0h.8m-.7-.1h.8m.1.3h.8m-.8-.5h.8m-.1.1h.8m-.8.3h.8m-.8.3h.8m-.6-.7h.8m-.3-.2h.8m-.5.6h.8m-.5-.2h.8m-.6.3h.8m-.8.2h.8m-.6 0h.8m-.2-.7h.8m-.5-.2h.8m-.4.5h.8m-.5.3h.8m-.8-.3h.8m-.7.4h.8m-.1-.7h.8m.2.3h.8m1.2-.1h.8m-.2-.2h.8m.7.6h.8m-.4-.7h.8m-20.7 1.2h.8m1.3 0h.8m.9.2h.8m.6-.1h.8m-.4-.1h.8m-.3.4h.8m-.6-.6h.8m-.5 0h.8m-.4-.1h.8m-.7 0h.8m-.8.4h.8m-.3 0h.8m-.1-.1h.8m-.3 0h.8m-.1.5h.8m.1-.7h.8m-.7.4h.8m-.5 0h.8m-.7.3h.8m-.4-.2h.8m-.2-.5h.8m0 .3h.8m-.7-.4h.8m-.1.7h.8m-.6-.1h.8m-.7-.5h.8m-.2.2h.8m-.8.1h.8m0-.3h.8m-.1.5h.8m-.4-.3h.8m-.7-.1h.8m-.5-.1h.8m.2.6h.8m.4.2h.8m-.1-.3h.8m-.4 0h.8m-.7-.5h.8m-.7 0h.8m.3.7h.8m-19.4 1h.8m-.6.1h.8m-.7-.5h.8m.2.2h.8m-.7-.3h.8m-.2-.2h.8m.9.4h.8m.3.1h.8m-.7-.4h.8m.3-.1h.8m-.2.3h.8m-.7.2h.8m-.5.2h.8m-.4-.6h.8m-.8-.1h.8m-.7.1h.8m-.6.2h.8m-.8 0h.8m-.5.2h.8m-.4-.3h.8m-.7.1h.8m-.7.4h.8m-.3.1h.8m-.7-.3h.8m-.6.1h.8m-.7-.7h.8m-.8.6h.8m-.7 0h.8m-.4-.1h.8m-.4-.4h.8m-.7.4h.8m-.4.3h.8m-.4-.7h.8m-.4.7h.8m.5 0h.8m-.2-.8h.8m1.3.2h.8m-.7.7h.8m0-.2h.8m.5.1h.8m3.1.1h.8m-24.7.9h.8m.3-.8h.8m5.7.1h.8m.5-.1h.8m-.1.2h.8m-.2.1h.8m-.7.5h.8m-.5-.2h.8m-.7-.5h.8m-.1 0h.8m.7.5h.8m-.4.1h.8m-.4-.3h.8m-.4-.3h.8m-.7.6h.8m-.6-.3h.8m-.6.1h.8m-.6.3h.8m-.7-.8h.8m-.2.2h.8m-.5.4h.8m-.6-.5h.8m.3.1h.8m-.8.5h.8m-.7-.5h.8m2.6-.2h.8m-18.6 1.5h.8m-.6-.3h.8m.8-.1h.8m1.2-.1h.8m-.6.9h.8m.6-.5h.8m-.7-.4h.8m-.2.9h.8m-.5-.6h.8m-.6-.2h.8m-.6.2h.8m-.1-.2h.8m-.6.1h.8m-.3-.2h.8m-.4 0h.8m-.4.7h.8m-.7.2h.8m.3-.9h.8m1.4.4h.8m-.8.3h.8m2.7.2h.8m-15.2.7h.8m1.9-.1h.8m4.1-.1h.8m2.5.3h.8m-2.5.5h.8m3 .8h.8"/>
<path fill="none" stroke="#4a6cb8" stroke-width=".8" stroke-opacity="0.55" d="M309.9 77.3h.8m4.4 0h.8m-10.8 1.4h.8m.5.1h.8m4.9-.1h.8m.6-.3h.8m-7.4.6h.8m1 .1h.8m-.5.1h.8m-.6.4h.8m-.7-.2h.8m-.4-.1h.8m0 0h.8m-.7.4h.8m-.6-.2h.8m.2-.4h.8m-.4.6h.8m-.5 0h.8m-.2-.4h.8m-.5 0h.8m-6.1 1.3h.8m-.7-.6h.8m-.5-.1h.8m-.5.4h.8m-.3-.4h.8m-.4.1h.8m-.3.2h.8m-.7-.3h.8m-.7.6h.8m-.8-.1h.8m-.8-.4h.8m-.6.7h.8m-.6-.8h.8m-.5.6h.8m-.7.1h.8m-.8-.3h.8m-.7.3h.8m-.5-.4h.8m0 0h.8m-.6.2h.8m-.6-.5h.8m-.5.2h.8m-.6.4h.8m-.8-.3h.8m-.8.6h.8m-.8-.1h.8m-.2-.7h.8m-.8.4h.8m-.5-.2h.8m-.4.5h.8m-.8-.4h.8m-8.4 1.6h.8m-.3-.1h.8m-.7-.7h.8m.4.7h.8m-.7-.3h.8m-.6.3h.8m-.8-.7h.8m-.8.5h.8m-.5 0h.8m-.5-.4h.8m-.4.1h.8m-.5.2h.8m-.5-.1h.8m-.7-.4h.8m-.4.1h.8m-.6.1h.8m-.6 0h.8m-.6.2h.8m-.7.4h.8m-.7.1h.8m-.7-.5h.8m-.7-.2h.8m-.7.6h.8m-.7-.3h.8m-.7-.5h.8m-.4.5h.8m-.8-.2h.8m-.7-.3h.8m-.2.4h.8m.3-.5h.8m-.7.9h.8m.3-.8h.8m-6.7 1.6h.8m-.7-.5h.8m0 .1h.8m-.6.2h.8m-.7.1h.8m.3-.4h.8m-.5.1h.8m-.7.3h.8m-.7.3h.8m-.8-.3h.8m-.6-.2h.8m-.6.1h.8m.5-.2h.8m-7 1.2h.8m-.1.2h.8m-.1.1h.8m.2-.6h.8m-.7.3h.8m-.7-.5h.8m-.2.3h.8m-.7-.1h.8m.2.8h.8m1.1-.5h.8m-.8.4h.8m-4.9.1h.8m-.5 0h.8m1.8.5h.8"/>
<path fill="none" stroke="#4a6cb8" stroke-width=".8" stroke-opacity="0.55" d="M290.8 85.4h.8m-5.9 1.6h.8m7.4.2h.8m6.8.2h.8m-10.9.7h.8m.1 0h.8m.4.5h.8m2.7 0h.8m6 .1h.8m-22.2.7h.8m10.9.3h.8m.4.1h.8m3.2-.1h.8m.3.1h.8m-.7-.7h.8m-15.4 1.3h.8m1.9.3h.8m-.8.1h.8m.6-.3h.8m.8-.6h.8m.6 1h.8m-.8-.3h.8m.2-.4h.8m1.1-.1h.8m2.3.4h.8m-.5.2h.8m1.2-.1h.8m.1-.4h.8m-.5-.1h.8m-.7-.1h.8m-.1.7h.8m-17.6.5h.8m2.7.6h.8m1.2-.7h.8m-.5 0h.8m.8.4h.8m-.6.4h.8m-.2-.6h.8m3.5.6h.8m-.6-.1h.8m.4-.6h.8m.5.6h.8m-15 .4h.8m-.1-.2h.8m.6.8h.8m-.6-.1h.8m.8-.8h.8m-.3.5h.8m-.3-.2h.8m1-.3h.8m-.7 0h.8m.1.5h.8m-.8-.1h.8m.2-.1h.8m.2.1h.8m-.8.1h.8m.8 0h.8m-.7-.2h.8m1.2.5h.8m-.2-.1h.8m.9-.7h.8m.1.8h.8m-15 .3h.8m-.5-.1h.8m-.5.3h.8m-.3.4h.8m-.8-.1h.8m-.5-.6h.8m2.1.2h.8m-.6.1h.8m.2.1h.8m-.1-.1h.8m-.3.1h.8m-.4-.3h.8m-.7.7h.8m-.4-.1h.8m-.4.2h.8m.6-.3h.8m-.2-.5h.8m.9.8h.8m1.4-.5h.8m-21.5.9h.8m.5.6h.8m.4-.5h.8m2.1 0h.8m.3-.1h.8m.9-.1h.8m-.4.4h.8m-.2-.5h.8m-.1.9h.8m.5-.1h.8m-.4-.3h.8m.3-.2h.8m-.8.1h.8m.2.2h.8m-.1-.3h.8m.6-.1h.8m-.8.3h.8m-.8.1h.8m.1.1h.8m-.2-.1h.8m.6-.1h.8m-.6.1h.8m-.5-.6h.8m5.6 0h.8m-23.1 1.5h.8m.7-.6h.8m-.4.7h.8m2 0h.8m-.8-.7h.8m-.1.2h.8m-.2-.1h.8m0 .5h.8m1.7-.3h.8m-.7-.2h.8m-.8 0h.8m-.7.8h.8m-.7-.2h.8m-.5-.7h.8m.3.9h.8m-.5 0h.8m-.5-.9h.8m-.3.9h.8m-.7-.3h.8m-.6.2h.8m.1-.4h.8m-.4.2h.8m-.5.2h.8m-.7-.3h.8m-.7.1h.8m1.4-.2h.8m-20.5.8h.8m1.8-.1h.8m.3.1h.8m-.1.5h.8m.6-.4h.8m.6 0h.8m-.7-.1h.8m-.2.6h.8m.5-.5h.8m.7.1h.8m-.7.4h.8m.2-.7h.8m-.6-.1h.8m-.6.3h.8m.4.3h.8m1.2.2h.8m-.5-.1h.8m.6-.3h.8m-.4.5h.8m-.3-.3h.8m.5-.4h.8m-.5 0h.8m.6 0h.8m-20.9 1.3h.8m-.4.1h.8m3.6-.3h.8m.1-.1h.8m.3-.1h.8m2.1.4h.8m-.7-.1h.8m-.1 0h.8m1.1-.4h.8m-.5 0h.8m-.4.4h.8m2.3-.2h.8m1.1 0h.8m-18.9 1.7h.8m1.5-.4h.8m2.3 0h.8m-.6.5h.8m-.3-.1h.8m1.9-.3h.8m-.5.1h.8m-.6-.3h.8m.1-.2h.8m.4-.1h.8m-.6.1h.8m-.2.2h.8m.1.2h.8m-.2-.3h.8m-12 .8h.8m-.3.2h.8m.8 0h.8m-.2-.1h.8m4.7 0h.8m1.2.4h.8m2.4 0h.8m-.6-.5h.8m2.8.2h.8m-17.6.8h.8m12.9.8h.8m3.1-.7h.8m-19 1.4h.8m.5-.6h.8m.2.8h.8m1.3-.5h.8m.6.2h.8m8.5.2h.8m-6.9.4h.8"/>
<path fill="none" stroke="#9aaad6" stroke-width=".8" stroke-opacity="0.45" d="M309.9 90h.8m-8.5 1.5h.8m12.3-.1h.8m-11.3 1.4h.8m2.4-.4h.8m8.9.5h.8m-.3 0h.8m-.3-.8h.8m-13.3 1.1h.8m.1-.1h.8m3.1.7h.8m1.3 0h.8m.9-.1h.8m-11 1.1h.8m-.4-.6h.8m2.4.5h.8m.2 0h.8m1.2-.7h.8m-.4.8h.8m-5.9.6h.8m.5-.2h.8m-.6.7h.8m-.1-.2h.8m2 0h.8m.3-.1h.8m.2-.7h.8m1.6.8h.8m-10.5 1h.8m9.1.1h.8m-14.4.8h.8m6 0h.8m1.8-.7h.8m-.5.2h.8m-.8.3h.8m-4.4.6h.8m.6.6h.8m3.4-.3h.8m-8.8 1.2h.8m-1.6.6h.8m6.8 1h.8"/>
<ellipse cx="311.2" cy="80.3" rx="2.5" ry="1.4" fill="#4ab890" filter="url(#b05)"/>
<ellipse cx="294.0" cy="81.3" rx="2.5" ry="1.0" fill="#4a9ac8" filter="url(#b05)"/>
</g>
<line x1="282.20" y1="89.20" x2="320.40" y2="89.20" stroke="#8a8a8a" stroke-width="0.9" />
<line x1="302.40" y1="69.60" x2="302.40" y2="107.80" stroke="#8a8a8a" stroke-width="0.8" />
<text x="318.8" y="74.4" font-size="6.8" text-anchor="end" fill="#231f20" textLength="15.6" lengthAdjust="spacingAndGlyphs" >16.4%</text>
<text x="318.8" y="103.9" font-size="6.8" text-anchor="end" fill="#231f20" textLength="15.6" lengthAdjust="spacingAndGlyphs" >6.45%</text>
<line x1="207.40" y1="110.40" x2="207.40" y2="22.40" stroke="#111" stroke-width="1.0" />
<path d="M205.40 23.40L207.40 18.40L209.40 23.40z" fill="#111"/>
<line x1="206.90" y1="110.40" x2="248.10" y2="110.40" stroke="#111" stroke-width="1.0" />
<path d="M247.10 108.40L252.10 110.40L247.10 112.40z" fill="#111"/>
<line x1="276.60" y1="110.30" x2="276.60" y2="22.40" stroke="#111" stroke-width="1.0" />
<path d="M274.60 23.40L276.60 18.40L278.60 23.40z" fill="#111"/>
<line x1="276.10" y1="110.30" x2="317.10" y2="110.30" stroke="#111" stroke-width="1.0" />
<path d="M316.10 108.30L321.10 110.30L316.10 112.30z" fill="#111"/>
<text x="204.4" y="63.6" font-size="8.5" text-anchor="middle" fill="#231f20" textLength="13.9" lengthAdjust="spacingAndGlyphs" transform="rotate(-90 204.4 63.6)" >SSC</text>
<text x="274.0" y="57.0" font-size="8.5" text-anchor="middle" fill="#231f20" textLength="13.3" lengthAdjust="spacingAndGlyphs" transform="rotate(-90 274.0 57.0)" >Gr-1</text>
<text x="226.3" y="119.5" font-size="8.5" text-anchor="middle" fill="#231f20" textLength="14.5" lengthAdjust="spacingAndGlyphs" >GFP</text>
<text x="302.5" y="119.5" font-size="8.5" text-anchor="middle" fill="#231f20" textLength="14.5" lengthAdjust="spacingAndGlyphs" >GFP</text>
<text x="28.9" y="136.4" font-size="7.8" font-style="italic" fill="#231f20" textLength="34.4" lengthAdjust="spacingAndGlyphs" >Anp32b<tspan dy="-3.2" font-size="5.2">+/+</tspan></text>
<text x="29.9" y="187.0" font-size="7.8" font-style="italic" fill="#231f20" textLength="32.7" lengthAdjust="spacingAndGlyphs" >Anp32b<tspan dy="-3.2" font-size="5.2">−/−</tspan></text>
<rect x="25.60" y="138.70" width="41.30" height="40.50" fill="none" stroke="#b5b5b5" stroke-width="0.8" />
<clipPath id="c7"><rect x="25.60" y="138.70" width="41.30" height="40.50"/></clipPath>
<g clip-path="url(#c7)">
<path fill="none" stroke="#3f68bd" stroke-width=".8" stroke-opacity="0.55" d="M34.3 164.4h.8m4-.4h.8m.2.3h.8m-12.6 1h.8m-.3 0h.8m3.1.4h.8m6.5-.5h.8m-12.3.7h.8m1.8.7h.8m-.7.2h.8m3.7-.1h.8m2-.4h.8m1.3 0h.8m-11.9 1h.8m-.7.6h.8m.7-.1h.8m.3-.8h.8m3.3.2h.8m1.4.3h.8m-13.6 1.2h.8m-.4.1h.8m.3-.4h.8m-.2-.5h.8m-.5.5h.8m.1.4h.8m1-.1h.8m-.7-.3h.8m-.3 0h.8m-.6.3h.8m0 .1h.8m.1-.7h.8m-.8.3h.8m.7-.2h.8m-.6.6h.8m0-.6h.8m-.6-.2h.8m-.3.1h.8m.2.7h.8m-.3-.5h.8m-11.6 1.5h.8m-.6-.7h.8m-.8.4h.8m-.1 0h.8m.1.1h.8m-.4.2h.8m.3-.7h.8m-.8.1h.8m-.5.4h.8m-.6.2h.8m-.7-.8h.8m-.8-.1h.8m-.5.6h.8m-.8.3h.8m-.6-.8h.8m-.2.3h.8m-.6.2h.8m.1-.2h.8m-.7.6h.8m-.4-.9h.8m-.7 0h.8m.1.8h.8m-.8-.3h.8m-.1.2h.8m-.4.1h.8m-.6-.3h.8m-.7-.3h.8m.2.6h.8m-.6-.7h.8m.3.8h.8m-.1-.3h.8m-.2-.6h.8m-.6.3h.8m-15.1 1.2h.8m.1.2h.8m-.1.1h.8m0-.6h.8m-.6-.1h.8m-.1.5h.8m-.4-.3h.8m-.8 0h.8m-.7.3h.8m-.7-.3h.8m-.7-.4h.8m-.6.6h.8m-.6.1h.8m-.6.1h.8m-.8-.8h.8m-.6.9h.8m-.7-.6h.8m-.4.3h.8m-.1.2h.8m-.7-.5h.8m-.5.6h.8m-.6-.7h.8m-.5.1h.8m-.5-.1h.8m-.8.5h.8m-.4 0h.8m-.7-.7h.8m-.6.1h.8m-.3.8h.8m-.3-.9h.8m-.7.8h.8m-.8.1h.8m-.7-.8h.8m-.2.1h.8m-.4.5h.8m-.6-.4h.8m-.6.3h.8m0-.1h.8m-.8 0h.8m-.7-.4h.8m.2.2h.8m-.7.1h.8m-.3-.4h.8m1.7.6h.8m2.3-.6h.8m-.1.3h.8m-20 1.4h.8m-.7-.3h.8m1.3-.2h.8m-.6.1h.8m-.6-.3h.8m0 .4h.8m-.2 0h.8m-.6 0h.8m-.7-.1h.8m-.6.5h.8m-.5-.4h.8m-.5.1h.8m-.6-.5h.8m-.5.4h.8m-.4-.4h.8m-.1.5h.8m-.5.1h.8m-.6.3h.8m-.3-.7h.8m-.4.2h.8m-.7-.1h.8m-.8.1h.8m-.2-.4h.8m-.7.1h.8m-.1 0h.8m-.7.2h.8m-.3.6h.8m-.4-.7h.8m-.6.4h.8m-.2-.6h.8m-.2.1h.8m-.8 0h.8m-.6.3h.8m-.4.3h.8m1.6-.5h.8m-.7.6h.8m-.7-.3h.8m-15.8 1.4h.8m-.7.1h.8m-.7-.5h.8m-.6-.5h.8m1.5.8h.8m-.6-.7h.8m-.3.1h.8m.1.2h.8m-.6 0h.8m-.7-.1h.8m-.7.1h.8m-.8-.1h.8m-.8.2h.8m-.2-.1h.8m-.7-.3h.8m.3.6h.8m-.7.1h.8m-.8-.5h.8m-.4.7h.8m-.7-1h.8m-.6.8h.8m-.5-.1h.8m-.6-.4h.8m-.7.3h.8m-.7.4h.8m-.4-.1h.8m-.7-.4h.8m-.6-.3h.8m-.6.6h.8m-.6-.5h.8m-.7-.2h.8m-.4.3h.8m-.8.3h.8m-.5-.5h.8m-.6.6h.8m-.8-.1h.8m-.6-.4h.8m-.7.3h.8m-.5-.1h.8m-.6.1h.8m-.7.1h.8m0 0h.8m-.6.2h.8m-.8-.3h.8m-.1-.3h.8m-.4.4h.8m-.6-.2h.8m.1.3h.8m0-.1h.8m-.6-.2h.8m.2.1h.8m-16.8.9h.8m.5-.2h.8m-.7-.1h.8m-.2-.1h.8m-.7.6h.8m-.2 0h.8m-.1-.7h.8m-.8.9h.8m-.4.1h.8m-.4-.5h.8m-.6-.3h.8m-.6.2h.8m-.8 0h.8m-.5 0h.8m-.5-.1h.8m-.2.2h.8m-.6-.5h.8m-.5.6h.8m-.4-.6h.8m-.8.6h.8m-.8-.2h.8m-.4-.3h.8m-.4-.1h.8m-.7.7h.8m-.8-.1h.8m-.7-.3h.8m-.7.4h.8m-.8-.7h.8m-.5.7h.8m-.3 0h.8m-.4-.6h.8m-.2.8h.8m-.7 0h.8m-.2-.1h.8m-.6-.3h.8m-.3-.3h.8m-.8-.2h.8m-.2.9h.8m-.5-.2h.8m-.6 0h.8m-.2-.6h.8m.4-.1h.8m2.5.3h.8m-.5.6h.8m-18.6.7h.8m1-.2h.8m-.6.1h.8m.6.2h.8m-.7-.1h.8m-.1-.5h.8m-.5-.1h.8m-.5.2h.8m-.5.1h.8m-.5.2h.8m-.7 0h.8m-.8.3h.8m-.8-.2h.8m-.7.2h.8m-.1-.4h.8m-.7.3h.8m-.4-.6h.8m-.6.3h.8m.1.5h.8m-.4-.9h.8m-.7.2h.8m-.4.1h.8m-.5.3h.8m-.6 0h.8m-.3-.2h.8m.2 0h.8m-.2-.2h.8m-.5.5h.8m.7.1h.8m-.2-.2h.8m-.1-.4h.8m-.6-.1h.8m.3.3h.8m-16.9 1.1h.8m1.1-.5h.8m-.5.3h.8m-.1 0h.8m-.4-.1h.8m-.6.1h.8m-.8.5h.8m-.5-.3h.8m-.6.2h.8m-.3 0h.8m2.1-.7h.8m2.9.8h.8m-.4-.6h.8m-.5.2h.8m-.5-.2h.8m0-.1h.8m-.7.1h.8m0 .5h.8m.5-.4h.8m-14.9 1.3h.8m1.4-.6h.8m.9.6h.8m.9-.1h.8m-.1-.4h.8m-.5 0h.8m-.7-.1h.8m-.7.5h.8m-.3-.2h.8m-.1.2h.8m0 0h.8m1.2-.1h.8m5.2-.1h.8m-17.4 1.2h.8m-.5-.1h.8m1.5.1h.8m-.3-.1h.8m.1-.3h.8m-.7.4h.8m.7.1h.8m-.5-.5h.8m-.5.1h.8m2.8.3h.8m-.6-.3h.8m2.9.3h.8m-9.7.7h.8m.1.1h.8m5.5-.2h.8"/>
<path fill="none" stroke="#5a7cc6" stroke-width=".8" stroke-opacity="0.5" d="M37.9 164.1h.8m19.6.4h.8m-17.9.9h.8m1.3.4h.8m1.4-.5h.8m3.8.5h.8m-6.4.8h.8m2 .2h.8m12.2-.3h.8m-27.6.6h.8m2.5.1h.8m-.1 0h.8m2.4.3h.8m1.2.3h.8m-.3-.7h.8m-.4.8h.8m-.7-.5h.8m0 .1h.8m.4 0h.8m-14 .8h.8m3.8-.1h.8m1.1 0h.8m3.3-.2h.8m.5.8h.8m-.4 0h.8m.2-.9h.8m-.6.9h.8m-.6-.6h.8m-.3-.2h.8m.2.1h.8m2.5.7h.8m-.5-.3h.8m.8 0h.8m0 .1h.8m5.8-.7h.8m-.7.5h.8m-26 .7h.8m2.1.5h.8m-.7-.1h.8m1-.3h.8m-.6.1h.8m1.2.3h.8m1.2-.7h.8m-.7.3h.8m1.4.1h.8m-.1.2h.8m-.7.1h.8m1.3-.6h.8m.1-.1h.8m-.5.4h.8m0 .2h.8m.8.1h.8m-.7-.7h.8m.5.9h.8m-.1-.3h.8m-.2-.4h.8m-.7.5h.8m2.2-.7h.8m.2.9h.8m-24.5.3h.8m.6-.1h.8m-.6.6h.8m1.9 0h.8m-.1-.5h.8m-.3.5h.8m1.3.1h.8m-.4 0h.8m.1-.6h.8m-.5.3h.8m-.5.1h.8m.5-.2h.8m-.6.4h.8m-.2 0h.8m.3-.7h.8m-.3 0h.8m.3-.1h.8m-.7.2h.8m-.5.3h.8m.4-.2h.8m.7.3h.8m-.6-.6h.8m-.6 0h.8m.2.9h.8m-.4-.6h.8m1.5.3h.8m-.3-.5h.8m-.1.3h.8m.3-.2h.8m1 .5h.8m-24.3.5h.8m-.7.6h.8m1.4-.4h.8m-.6 0h.8m1-.3h.8m.3.2h.8m.6.2h.8m1.5.4h.8m-.5-.7h.8m-.2.7h.8m-.6 0h.8m.2-.2h.8m-.2.1h.8m-.2-.4h.8m.3.3h.8m.4.2h.8m-.7-.2h.8m-.7-.5h.8m-.3 0h.8m-.4.4h.8m-.8-.1h.8m-.3.1h.8m-.3.1h.8m-.1-.1h.8m.2-.5h.8m-.5.2h.8m.4.6h.8m.1 0h.8m3-.3h.8m2.3-.1h.8m-36.4.7h.8m6.9.2h.8m-.5.5h.8m-.4-.8h.8m2.7 0h.8m-.6.1h.8m-.3.6h.8m-.6-.7h.8m.3-.1h.8m-.6.1h.8m-.4.6h.8m-.8-.5h.8m-.5-.1h.8m-.4.8h.8m-.8-.1h.8m-.4-.2h.8m-.8-.6h.8m1.5.4h.8m-.6-.3h.8m-.3.6h.8m-.2-.5h.8m-.7 0h.8m-.7.7h.8m1-.6h.8m-.7-.3h.8m0 .6h.8m-.6-.4h.8m.1.2h.8m.1.5h.8m-.5-.7h.8m-.7.1h.8m1.6.1h.8m3-.3h.8m.2.4h.8m-.7.1h.8m2-.2h.8m-33.1.8h.8m1.4-.1h.8m3.2.8h.8m-.1 0h.8m-.7-.1h.8m-.2 0h.8m-.1-.5h.8m-.3-.3h.8m.2.4h.8m-.6-.4h.8m-.4.5h.8m.9.1h.8m-.4.2h.8m-.8-.8h.8m.4.7h.8m-.6-.6h.8m-.5-.1h.8m.7.4h.8m-.3.2h.8m-.6.2h.8m-.6-.8h.8m-.8.2h.8m-.7.3h.8m-.7-.4h.8m-.5.4h.8m-.6-.2h.8m-.8.6h.8m-.7-.2h.8m-.8-.6h.8m-.4.2h.8m1.6.3h.8m-.4-.2h.8m.2.5h.8m-.7-.4h.8m-.1-.5h.8m1.5.2h.8m1.1-.1h.8m-28.7 1.1h.8m.5.1h.8m-.5-.1h.8m.3.5h.8m-.6.3h.8m.4-.8h.8m.3 0h.8m1.4.7h.8m-.6-.3h.8m-.8-.5h.8m-.7.8h.8m0-.2h.8m1.1-.1h.8m-.5.1h.8m.6 0h.8m-.8.1h.8m-.7-.4h.8m-.6-.3h.8m-.7 0h.8m-.6.1h.8m-.6.4h.8m-.6.2h.8m1.8-.5h.8m-.3.4h.8m.3 0h.8m1.7.1h.8m.5-.8h.8m1.4.6h.8m-.7-.3h.8m.6-.2h.8m-.5.9h.8m-.7-1h.8m-22.3 1h.8m1.7.6h.8m2.8-.2h.8m-.3-.4h.8m.5.6h.8m.3-.4h.8m.4.2h.8m.7-.1h.8m-.5.4h.8m1.7-.5h.8m-.6.1h.8m0 .5h.8m-.1.2h.8m2.2-.1h.8m1.5-.5h.8m-18.6 1.1h.8m.7.4h.8m.7-.2h.8m.1-.2h.8m-.2-.3h.8m.4.3h.8m.7-.5h.8m.8 0h.8m-.4.7h.8m1.7-.1h.8m1.4.2h.8m-.4-.8h.8m1 .3h.8m-.2 0h.8m-21.7 1.6h.8m12.1-.8h.8m1.3 0h.8m4.3.4h.8m-17 .8h.8m13.4.2h.8m4.3-.3h.8"/>
<path fill="none" stroke="#9ab0dc" stroke-width=".8" stroke-opacity="0.5" d="M31.3 168.6h.8m12.6.9h.8m1.6-.4h.8m5.7.5h.8m8.8-.1h.8m-25.1 1.1h.8m9.9-.1h.8m2 0h.8m2-.1h.8m1.2-.5h.8m2.5.6h.8m-.5.1h.8m-.3-.4h.8m1.2 0h.8m-35.4.8h.8m1.1 0h.8m13.5-.1h.8m10.1.4h.8m2.2 0h.8m-29.7 1.6h.8m4.1-.4h.8m2.2.1h.8m2.4-.1h.8m.5-.2h.8m.1-.2h.8m-.3.4h.8m4 .1h.8m3-.7h.8m.3 0h.8m-20.5 1.7h.8m-.2-.1h.8m-.4-.6h.8m3.3 0h.8m.7.6h.8m4-.6h.8m3 .4h.8m-.4-.3h.8m.1.4h.8m-.6.4h.8m.2-.1h.8m.6-.4h.8m-21.5 1.3h.8m8.3.1h.8m.2-.6h.8m.3.1h.8m.9.3h.8m.5-.3h.8m5.4 0h.8m1.6-.3h.8m1.7 0h.8m2 0h.8m-23.2 1.2h.8m1.3.1h.8m.6.3h.8m8.4.1h.8m-10.9 1.2h.8m4.1-.1h.8m-.7-.6h.8m4.5.3h.8m.6-.2h.8m3.9.4h.8m-.1.2h.8m-29.7.5h.8m17.6.4h.8m7.7-.1h.8m1.5-.6h.8m-29.4 1.7h.8m10.7-.7h.8m13.1.4h.8m6.1.1h.8"/>
</g>
<line x1="26.00" y1="178.80" x2="58.00" y2="178.80" stroke="#9cc890" stroke-width="0.6" />
<rect x="36.20" y="160.40" width="25.60" height="18.80" fill="none" stroke="#9a9a9a" stroke-width="0.8" />
<text x="59.2" y="156.6" font-size="7.2" text-anchor="end" fill="#231f20" textLength="18.3" lengthAdjust="spacingAndGlyphs" >41.2%</text>
<rect x="25.60" y="189.40" width="41.00" height="40.90" fill="none" stroke="#b5b5b5" stroke-width="0.8" />
<clipPath id="c8"><rect x="25.60" y="189.40" width="41.00" height="40.90"/></clipPath>
<g clip-path="url(#c8)">
<path fill="none" stroke="#4d7cc6" stroke-width=".8" stroke-opacity="0.6" d="M28.6 214.7h.8m1.6-.6h.8m-4.1 1.9h.8m.9.2h.8m1.1.2h.8m-.1-.3h.8m1 .8h.8m-8.5.1h.8m-.2.7h.8m.5-.4h.8m-.1-.3h.8m.2.6h.8m.2-.2h.8m-.3-.2h.8m1.3 0h.8m.3.5h.8m-6.8.9h.8m-.8.2h.8m-.5-.6h.8m.2.3h.8m-.5 0h.8m-.7.2h.8m-.5-.3h.8m-.3.3h.8m-.1 0h.8m0-.6h.8m.4 0h.8m0 .4h.8m.2-.1h.8m.1 0h.8m-11.4 1h.8m-.4.1h.8m-.6.2h.8m-.7-.8h.8m-.5.2h.8m.9-.2h.8m-.7.3h.8m-.1.1h.8m-.2.4h.8m-.4 0h.8m-.8-.7h.8m-.5.5h.8m-.6.1h.8m-.4-.6h.8m-.7.8h.8m-.4 0h.8m-.7-.3h.8m-.8 0h.8m-.7-.5h.8m-.5.2h.8m-.4.6h.8m-.2-.5h.8m-.7.4h.8m-.7-.6h.8m-.6.1h.8m-.7 0h.8m-8.5 1.3h.8m0 .1h.8m-.6-.4h.8m-.5.4h.8m-.6-.5h.8m-.1.6h.8m-.8-.6h.8m-.5.3h.8m-.7.1h.8m-.7.2h.8m-.6 0h.8m-.5-.3h.8m0-.3h.8m-.8.7h.8m-.7-.9h.8m-.7.3h.8m-.7.3h.8m-.7.2h.8m-.8-.3h.8m-.3-.4h.8m-.6.8h.8m-.8-.1h.8m-.8-.8h.8m-.8.4h.8m-.6.2h.8m-.6 0h.8m-.8.2h.8m-.4.1h.8m-.7-.8h.8m-.5.7h.8m-.4-.7h.8m-.3.5h.8m-.7.2h.8m0-.3h.8m-.7-.5h.8m-.3.2h.8m.9.7h.8m-.1-.9h.8m-.4.5h.8m.4 0h.8m-13.7.5h.8m.1.9h.8m.1-.7h.8m-.2.6h.8m-.5-.5h.8m-.8.3h.8m-.8-.5h.8m-.7.2h.8m-.7.2h.8m-.7.3h.8m-.7-.8h.8m-.8.5h.8m-.8.1h.8m-.6-.4h.8m-.3.7h.8m-.8-.2h.8m-.8-.1h.8m-.6-.4h.8m-.7.3h.8m-.5.2h.8m-.8.1h.8m-.7-.8h.8m-.5.8h.8m-.7-.4h.8m-.8 0h.8m-.7.2h.8m-.8-.1h.8m-.3-.4h.8m-.8.8h.8m-.7-.8h.8m-.8.7h.8m-.3-.4h.8m-.1-.1h.8m-.5.1h.8m-.7 0h.8m-.1-.2h.8m-.1.1h.8m-.1.2h.8m-.8.2h.8m-.5-.5h.8m-.8.7h.8m-.7-.5h.8m-.7-.2h.8m-.2-.2h.8m-.5.9h.8m-.1-.3h.8m-12 .9h.8m0 .4h.8m-.5-.5h.8m-.7.1h.8m-.5.1h.8m-.8-.3h.8m-.6.4h.8m-.7.3h.8m-.8-.4h.8m-.5.1h.8m-.6-.4h.8m-.6.6h.8m-.6 0h.8m-.8 0h.8m-.7-.3h.8m-.2-.6h.8m-.8.5h.8m-.7-.4h.8m-.8.9h.8m-.8-.5h.8m-.7-.2h.8m-.7 0h.8m-.6.1h.8m-.6-.2h.8m-.8.5h.8m-.8.2h.8m-.6-.6h.8m-.6.5h.8m-.8-.2h.8m-.8.2h.8m-.7-.3h.8m-.6-.1h.8m-.7-.1h.8m-.7.2h.8m-.3-.3h.8m-.6.3h.8m-.5.3h.8m-.5-.8h.8m-.6.6h.8m-.8.3h.8m-.8-.5h.8m-.6-.2h.8m-.7.4h.8m-.5.1h.8m-.1-.6h.8m-.4.2h.8m-.2.3h.8m-.8.3h.8m-.1-.1h.8m-10.5.3h.8m-.7.3h.8m.1 0h.8m-.7.2h.8m-.3 0h.8m-.2-.6h.8m-.6.3h.8m-.6-.3h.8m-.5 1h.8m-.7-.4h.8m-.6 0h.8m-.8-.1h.8m-.6-.1h.8m-.7.2h.8m-.7-.3h.8m-.8 0h.8m-.8.4h.8m-.8 0h.8m-.7.2h.8m-.7-.4h.8m-.7-.1h.8m-.7.5h.8m-.7.1h.8m-.7-.9h.8m-.8 0h.8m-.7.2h.8m-.8.6h.8m-.7-.5h.8m-.5-.3h.8m-.7 0h.8m-.7.3h.8m-.7.5h.8m-.7-.2h.8m-.8.2h.8m-.8-.4h.8m-.7-.5h.8m-.4.4h.8m-.8-.2h.8m-.7.7h.8m-.8-.3h.8m-.4.1h.8m-.6.2h.8m-.7-.1h.8m-.8-.2h.8m-.6.1h.8m-.8.2h.8m-.6-.6h.8m-.4.1h.8m-.6.4h.8m-.5.2h.8m-.6-.3h.8m-.6-.5h.8m0 .7h.8m-.7-.7h.8m-.5-.1h.8m-.4.2h.8m-.1-.1h.8m-.2-.1h.8m-.4.3h.8m0-.1h.8m-.7-.1h.8m-12.7 1.3h.8m-.2.1h.8m-.6-.4h.8m-.7.2h.8m-.5.2h.8m0-.5h.8m-.1.1h.8m-.7.3h.8m-.8.3h.8m-.6-.5h.8m-.6.6h.8m-.7-.5h.8m-.8.5h.8m-.6-.5h.8m-.7.2h.8m-.7-.2h.8m-.7-.3h.8m-.8 0h.8m-.7.4h.8m-.2-.3h.8m-.8.5h.8m-.5.1h.8m-.7.1h.8m-.7-.8h.8m-.7.3h.8m-.7-.2h.8m-.8.1h.8m-.5 0h.8m-.6.3h.8m-.7.2h.8m-.5-.1h.8m-.5 0h.8m-.7-.6h.8m-.7.6h.8m-.7-.4h.8m-.6.1h.8m-.8.1h.8m.2.1h.8m-.6.2h.8m-.8-.1h.8m-.6-.6h.8m-.8.2h.8m-.6.4h.8m2.4-.5h.8m-.7.2h.8m-12.4 1.5h.8m-.6-.7h.8m-.7 0h.8m-.3.1h.8m-.6.3h.8m-.7-.3h.8m-.5.1h.8m-.7.1h.8m-.8-.5h.8m-.6.4h.8m-.7-.1h.8m-.4.3h.8m.1.2h.8m-.6 0h.8m-.8-.7h.8m-.4.1h.8m-.6.6h.8m-.3-.6h.8m-.6.7h.8m-.6-.8h.8m-.6-.1h.8m-.6.9h.8m-.8 0h.8m-.3-.5h.8m-.1.5h.8m-.5 0h.8m-.7-.3h.8m-.5-.5h.8m-.3.4h.8m-.7-.4h.8m.2.5h.8m-10 1.1h.8m-.7.2h.8m-.2.1h.8m.1-.2h.8m.9-.5h.8m-.3-.1h.8m-.8.3h.8m-.2.2h.8m-.6.1h.8m-.3-.6h.8m-.1-.1h.8m-.8.9h.8m-.8-1h.8m0 .7h.8m-.5-.5h.8m-.6-.2h.8m.1.7h.8m-.5-.3h.8m-.2.4h.8m1.4 0h.8m-10 .6h.8m0-.1h.8m-.1.3h.8m0-.1h.8m-.4-.2h.8m0 .3h.8m-.5.2h.8m-.5-.7h.8m-.7.3h.8m-.3.5h.8m-.1 0h.8m-.7-.1h.8m-.4-.7h.8m-.6.6h.8m-8.2.4h.8m2.6 0h.8m-.4.7h.8m.1-.6h.8m-.5-.2h.8m-.6.7h.8m-.6-.7h.8m-.4.8h.8m-.6-.7h.8m-6.1 1.8h.8m.1-.5h.8m-.7-.3h.8m-.5 0h.8m.1.2h.8m.2.5h.8m.6-.3h.8m-.2-.5h.8m.7.3h.8"/>
<path fill="none" stroke="#5a7cc6" stroke-width=".8" stroke-opacity="0.5" d="M47.5 215.4h.8m-1 1.1h.8m3.3-.3h.8m-10.3 1.2h.8m2-.2h.8m-.6.5h.8m-17.2 1h.8m9.9-.2h.8m2.4-.5h.8m1.1-.1h.8m4.1.6h.8m3.5-.3h.8m-15.8 1.5h.8m-.1-.6h.8m.5-.2h.8m-.7.4h.8m.3 0h.8m.5-.3h.8m-.2.4h.8m.7.4h.8m2-.4h.8m.1 0h.8m-.2.2h.8m-.2-.6h.8m0 .5h.8m.4.1h.8m2-.7h.8m-.7.4h.8m-.4-.2h.8m2 .5h.8m-30.1 1.2h.8m5.6-.9h.8m2 0h.8m.6.8h.8m-.3 0h.8m-.2-.1h.8m-.4-.2h.8m.2-.1h.8m.6.2h.8m.6-.2h.8m-.2-.2h.8m-.7.4h.8m.1-.2h.8m-.1.5h.8m-.3-.1h.8m-.7 0h.8m.3-.6h.8m-.3.6h.8m-.5.2h.8m.4-.8h.8m-.2.3h.8m-.7-.4h.8m-.5.5h.8m-.7-.1h.8m1.6 0h.8m0-.2h.8m-17.3 1.3h.8m0 0h.8m.8-.3h.8m.1.3h.8m-.8.3h.8m.3-.3h.8m-.8.2h.8m-.8-.1h.8m-.7-.3h.8m-.2-.4h.8m-.6.2h.8m-.1 0h.8m-.5.1h.8m.1-.1h.8m-.2.4h.8m.5-.6h.8m1.1.4h.8m-.8.4h.8m-.6 0h.8m-.7.1h.8m0-.8h.8m-.8-.1h.8m-.4.2h.8m.2.6h.8m1.6-.7h.8m-.5.3h.8m-.5.2h.8m4.4-.1h.8m-31.4 1.3h.8m-.3.1h.8m1.5-.4h.8m0-.1h.8m1.5.2h.8m2 .1h.8m-.7-.5h.8m-.2 0h.8m-.3-.2h.8m-.5.5h.8m-.2-.1h.8m-.5.3h.8m-.3-.6h.8m-.6 0h.8m-.7-.1h.8m-.7 0h.8m-.5.7h.8m-.5-.1h.8m-.7-.4h.8m.7.1h.8m-.3.3h.8m0-.1h.8m-.5-.1h.8m-.1.4h.8m.2.1h.8m-.3 0h.8m-.5 0h.8m-.5 0h.8m-.5 0h.8m-.7-.1h.8m-.6-.2h.8m.3-.5h.8m3.1 0h.8m-.6 0h.8m-.1 0h.8m.2.1h.8m3.7.6h.8m-28.5.7h.8m5.8.4h.8m-.4-.3h.8m-.3-.3h.8m0-.2h.8m-.4-.1h.8m-.1 0h.8m-.7.6h.8m-.7.3h.8m.4-.5h.8m0-.2h.8m-.2-.2h.8m-.7.8h.8m-.5-.5h.8m-.6.5h.8m0-.5h.8m-.5-.3h.8m-.8.5h.8m-.6.1h.8m.3-.6h.8m-.5.7h.8m-.7-.7h.8m-.5 0h.8m-.4.5h.8m0-.1h.8m-.1.6h.8m-.7-.7h.8m.7.1h.8m.1.5h.8m1.8-.9h.8m1.2 0h.8m1.5 0h.8m-24.6 1.1h.8m1.4.2h.8m2.2.2h.8m-.5-.4h.8m.2 0h.8m-.2-.1h.8m.6.5h.8m-.5-.4h.8m-.5.8h.8m.1.1h.8m-.1-1h.8m-.7.4h.8m-.8.3h.8m-.2 0h.8m.1-.2h.8m-.4-.1h.8m.1-.1h.8m2.4.5h.8m-.8-.8h.8m2.5.7h.8m3.3-.6h.8m-26.3 1h.8m-.3.5h.8m-.8-.1h.8m2.3.3h.8m.3-.8h.8m-.7.2h.8m.7.6h.8m-.7-.7h.8m0 .7h.8m-.4-.8h.8m.3.2h.8m-.6.1h.8m-.6.6h.8m.2-.2h.8m-.7-.6h.8m-.6.8h.8m0-.5h.8m.2.4h.8m-.5-.6h.8m3.3.1h.8m-.4.2h.8m4.2-.4h.8m1.1.6h.8m-24.1.5h.8m4.5.5h.8m-.5.1h.8m-.7-.7h.8m.1.1h.8m-.7.2h.8m-.7 0h.8m-.6-.2h.8m-.6-.2h.8m0 .7h.8m0-.3h.8m-.8-.2h.8m3.7.4h.8m.1.2h.8m-.7-.3h.8m.7-.3h.8m.4.5h.8m1.5-.6h.8m6.1.1h.8m-16.8 1.2h.8m0-.1h.8m-.5 0h.8m.9-.2h.8m3.5.4h.8m7.3-.5h.8m-20 1.3h.8m2.8.3h.8m2.8-.6h.8m4.1.8h.8m3.5 0h.8m-20 .2h.8m.5.2h.8m2.9 0h.8"/>
<path fill="none" stroke="#9ab0dc" stroke-width=".8" stroke-opacity="0.5" d="M26.3 216.8h.8m15.4-.4h.8m6.3.4h.8m-8.4 1.3h.8m3.3-.1h.8m-13.7 1h.8m9.8 0h.8m7.3.6h.8m1.2-.5h.8m1.9.7h.8m-24.5.2h.8m2.7.6h.8m2.6.1h.8m11 0h.8m-.7-.3h.8m2.3.1h.8m-28.2.7h.8m9.1.4h.8m-.7-.6h.8m5.4.6h.8m1.1-.3h.8m6.9.5h.8m.1-.4h.8m-.7-.2h.8m1.1-.3h.8m-25.9 1h.8m2 0h.8m2.9.4h.8m7.4.1h.8m-.1-.4h.8m-16.2 1.5h.8m1.2-.3h.8m-.1.1h.8m7.1.3h.8m-.7-.4h.8m.4.6h.8m3.8-.5h.8m-13.7 1.2h.8m3.1.3h.8m5.2-.4h.8m-.7-.2h.8m-.5.5h.8m14.5-.4h.8m-32.2 1.5h.8m4.1-.8h.8m1.6.8h.8m.9-.2h.8m0 0h.8m.4-.1h.8m2.8.1h.8m.4-.5h.8m4.1.5h.8m1.6.1h.8m4.6-.4h.8m-31.2 1h.8m11.1.3h.8m12.6.5h.8m-12.2 1.4h.8m.6.4h.8m11.9.7h.8"/>
<ellipse cx="30.0" cy="222.0" rx="2.8" ry="3.0" fill="#5aa0d8" filter="url(#b1)"/>
</g>
<line x1="26.00" y1="229.80" x2="56.00" y2="229.80" stroke="#9cc890" stroke-width="0.6" />
<rect x="36.20" y="211.20" width="25.60" height="19.10" fill="none" stroke="#9a9a9a" stroke-width="0.8" />
<text x="60.6" y="206.2" font-size="7.2" text-anchor="end" fill="#231f20" textLength="17.6" lengthAdjust="spacingAndGlyphs" >29.6%</text>
<line x1="21.10" y1="232.40" x2="21.10" y2="145.60" stroke="#111" stroke-width="1.0" />
<path d="M19.10 146.60L21.10 141.60L23.10 146.60z" fill="#111"/>
<line x1="20.60" y1="232.40" x2="61.60" y2="232.40" stroke="#111" stroke-width="1.0" />
<path d="M60.60 230.40L65.60 232.40L60.60 234.40z" fill="#111"/>
<text x="17.8" y="186.0" font-size="8.5" text-anchor="middle" fill="#231f20" textLength="14.0" lengthAdjust="spacingAndGlyphs" transform="rotate(-90 17.8 186.0)" >SSC</text>
<text x="43.6" y="241.1" font-size="8.5" text-anchor="middle" fill="#231f20" textLength="14.8" lengthAdjust="spacingAndGlyphs" >GFP</text>
<text x="43.3" y="565.6" font-size="7.8" font-style="italic" fill="#231f20" textLength="35.5" lengthAdjust="spacingAndGlyphs" >Anp32b<tspan dy="-3.2" font-size="5.2">+/+</tspan></text>
<text x="102.7" y="565.6" font-size="7.8" font-style="italic" fill="#231f20" textLength="33.1" lengthAdjust="spacingAndGlyphs" >Anp32b<tspan dy="-3.2" font-size="5.2">−/−</tspan></text>
<rect x="32.60" y="568.50" width="51.90" height="51.90" fill="none" stroke="#b5b5b5" stroke-width="0.8" />
<clipPath id="c9"><rect x="32.60" y="568.50" width="51.90" height="51.90"/></clipPath>
<g clip-path="url(#c9)">
<path fill="none" stroke="#4a6cb8" stroke-width=".8" stroke-opacity="0.6" d="M38.8 587.6h.8m-3.3.3h.8m1 1.1h.8m-3.5 1.4h.8m.2-.3h.8m.6.8h.8m-.1-1h.8m-2.3 1.4h.8m-.8.6h.8m-.6-.1h.8m-.7.1h.8m-.5-.6h.8m-2 1.5h.8m-.3-.7h.8m-.7.6h.8m-.7-.4h.8m-.4.3h.8m-.8-.1h.8m-.7-.1h.8m-.7.1h.8m-.7-.4h.8m-.5.5h.8m.3-.5h.8m-4.6 1.1h.8m-.3.2h.8m-.2.3h.8m-.5 0h.8m-.5-.6h.8m.4.4h.8m-.4-.5h.8m-.7-.1h.8m-3.6 1.7h.8m-.5-.1h.8m-.6.1h.8m-.7-.4h.8m-.6-.2h.8m-.4.4h.8m-.3.2h.8m-.6-.1h.8m-.5-.5h.8m-.1.1h.8m-.8.1h.8m-4.5.9h.8m-.1.5h.8m-.7-.2h.8m-.3.2h.8m-.5-.2h.8m-.8.1h.8m-.7-.3h.8m-.3.1h.8m-.6.1h.8m-.8.1h.8m-.4.1h.8m0-.1h.8m-4.2 1.2h.8m-.8-.5h.8m-.4.2h.8m-.4.4h.8m-.7-.3h.8m-.6-.3h.8m-.8.3h.8m-.6.2h.8m-.6-.4h.8m-.6-.4h.8m-.6.8h.8m-.7.1h.8m-.7-.8h.8m-.8-.1h.8m-.7.5h.8m-.7-.5h.8m-.7.7h.8m-.8-.3h.8m-.8.1h.8m.3.1h.8m-.6.2h.8m-3.9.7h.8m-.7.3h.8m-.5-.7h.8m-.3.1h.8m-.7-.1h.8m-.5.4h.8m-.4.2h.8m-.6 0h.8m-.8 0h.8m0-.5h.8m-3.2 1.3h.8m-.6.2h.8m-.7-.7h.8m-.7 0h.8m-.8.2h.8m-.7.3h.8m-.8-.1h.8m-.8.4h.8m-.5 0h.8m-.2-.1h.8m-.8-.5h.8m-.7.7h.8m-.1-.1h.8m-.8-.4h.8m-3.6.6h.8m.1.7h.8m-.2-.5h.8m-.6.6h.8m-.8-.3h.8m-.4-.5h.8m-.7.5h.8m-.3.1h.8m-.5-.1h.8m-.6.1h.8m-.3-.2h.8m-4.4.6h.8m-.7.7h.8m-.7-.5h.8m-.4.5h.8m-.5-.4h.8m-.7-.2h.8m-.7.3h.8m-.6-.3h.8m-.6.6h.8m-.7 0h.8m-.7-.4h.8m-.4.5h.8m-.6-.4h.8m-.7.1h.8m-.3.4h.8m-.7 0h.8m-.7-.6h.8m-.7-.3h.8m-3.9 1.4h.8m-.6.2h.8m-.5-.2h.8m-.6-.3h.8m-.6.7h.8m-.5-.3h.8m-.2-.2h.8m-.8-.3h.8m-.3.1h.8m-.2.4h.8m-2.7.7h.8m-.7-.1h.8m-.6.6h.8m-.4-.2h.8m-.8-.4h.8m-.3.5h.8m-.7-.5h.8m-3.7 1.2h.8m1.2-.2h.8m-.8.4h.8m-.1-.4h.8m-3 1h.8m.4.4h.8m-.4-.2h.8m-.7 0h.8m-.1.5h.8m-.5-.4h.8m-.7.2h.8m0 .1h.8m-4.5.9h.8m-.8.1h.8m1.2-.5h.8m-.5.3h.8m-2.5 1h.8m-.2.3h.8m-.5-.6h.8m-.5.2h.8m-.3-.4h.8m-.6 0h.8m-1.6 1.5h.8m1.3.3h.8m-2.1 1.2h.8"/>
<path fill="none" stroke="#6b86c8" stroke-width=".8" stroke-opacity="0.5" d="M47.6 587.5h.8m-.7.3h.8m3.3-.4h.8m-7.2.5h.8m-5.7 1.9h.8m2.5-.1h.8m3.1.1h.8m-7.1.8h.8m.2-.4h.8m-.8-.2h.8m1.2.7h.8m.5 0h.8m-.3 0h.8m-.6-.6h.8m-.2-.1h.8m-.1.8h.8m1.4-.4h.8m-10.8 1.2h.8m.4-.3h.8m-.6.5h.8m.2-.2h.8m-.7.1h.8m-.8 0h.8m-.7-.3h.8m-.8.2h.8m-.4.1h.8m1-.4h.8m.1-.2h.8m-.7.5h.8m-.6.1h.8m-.4-.6h.8m-.7 0h.8m-.1.6h.8m-9.8.5h.8m-.8.4h.8m.8-.4h.8m.6-.1h.8m-.3.6h.8m-.8 0h.8m.2-.5h.8m-.6.2h.8m-.5 0h.8m-.7 0h.8m-.1.3h.8m0-.3h.8m-.3.3h.8m-.7 0h.8m0 .1h.8m-.6-.6h.8m2.7-.3h.8m-11 1.5h.8m-.7.3h.8m.2.2h.8m-.6-.6h.8m-.5.2h.8m.5-.1h.8m1.1-.5h.8m.5.5h.8m-10 1h.8m.6.4h.8m-.1-.8h.8m-.8.5h.8m-.8.3h.8m.3-.6h.8m0 .1h.8m-.5.2h.8m-.8-.1h.8m-.3.4h.8m-.1-.7h.8m-.3.5h.8m-.7-.4h.8m.3-.2h.8m-.2.4h.8m-.7.1h.8m-10.5.7h.8m.8.1h.8m.3.1h.8m-.7-.5h.8m.5.5h.8m0-.2h.8m-.6.1h.8m-.4-.4h.8m.2.2h.8m-.8.1h.8m-5.9 1.2h.8m-.3.3h.8m-.4-.1h.8m1.3.3h.8m-.1.3h.8m-2.6.8h.8"/>
<path fill="none" stroke="#a8b8e0" stroke-width=".8" stroke-opacity="0.5" d="M47.2 582.6h.8m1.8 1h.8m-2.4.8h.8m3.7.3h.8m-7.5.4h.8m5.3 1.1h.8m2.9.2h.8m-16.5 1h.8m3.5-.1h.8m9.1-.3h.8m-17.9 1.4h.8m5.6-.2h.8m1.9-.3h.8m-.4 0h.8m-12 1.6h.8m6.8-.6h.8m-.6.9h.8m6.9-.6h.8m.7 0h.8m1.6.3h.8m.4-.5h.8m-21 1.8h.8m9.7-.2h.8m-9.3.9h.8m-.5.3h.8m8.1-.5h.8m2.2-.3h.8m-14.1 1h.8m7.1 0h.8m8.5.5h.8m5.4-.1h.8m-24.9.7h.8m4.2 1.2h.8m-2.5 1.4h.8m3.6 1.1h.8m2.1-.8h.8m.4.7h.8m-4 2h.8m5.5 1h.8m-15.3 1.1h.8"/>
<ellipse cx="37.2" cy="598.4" rx="1.0" ry="2.6" fill="#5ab45a" filter="url(#b05)"/>
</g>
<line x1="32.60" y1="598.40" x2="84.50" y2="598.40" stroke="#777" stroke-width="0.8" />
<line x1="39.50" y1="568.50" x2="39.50" y2="620.40" stroke="#777" stroke-width="0.8" />
<text x="35.5" y="574.8" font-size="7.4" fill="#231f20" >G<tspan dy="1.6" font-size="4.5">1</tspan></text>
<text x="35.5" y="582.3" font-size="7.4" fill="#231f20" textLength="17.3" lengthAdjust="spacingAndGlyphs" >39.3%</text>
<text x="82.8" y="574.8" font-size="7.4" text-anchor="end" fill="#231f20" >S-G<tspan dy="1.6" font-size="4.5">2</tspan><tspan dy="-1.6">-M</tspan></text>
<text x="82.8" y="582.3" font-size="7.4" text-anchor="end" fill="#231f20" textLength="17.7" lengthAdjust="spacingAndGlyphs" >23.5%</text>
<text x="35.5" y="611.1" font-size="7.4" fill="#231f20" >G<tspan dy="1.6" font-size="4.5">0</tspan></text>
<text x="35.5" y="618.6" font-size="7.4" fill="#231f20" textLength="17.3" lengthAdjust="spacingAndGlyphs" >35.9%</text>
<rect x="91.50" y="568.80" width="52.00" height="51.60" fill="none" stroke="#b5b5b5" stroke-width="0.8" />
<clipPath id="c10"><rect x="91.50" y="568.80" width="52.00" height="51.60"/></clipPath>
<g clip-path="url(#c10)">
<path fill="none" stroke="#4a6cb8" stroke-width=".8" stroke-opacity="0.6" d="M94.9 592.8h.8m.1-.4h.8m.7-.1h.8m-.7.6h.8m-.6-.1h.8m.1-.5h.8m-1.8.6h.8m.2.9h.8m-2.6.7h.8m-.7 0h.8m-.2.2h.8m-.8-.3h.8m-.4.3h.8m-.5.1h.8m-2.1.6h.8m-.6.1h.8m-.7.1h.8m-.4 0h.8m-.7-.5h.8m-.3.2h.8m-.6-.4h.8m-3.9 1.2h.8m.2 0h.8m-.8.3h.8m-.6-.4h.8m-.1.4h.8m-.4-.5h.8m-.7.1h.8m-.7.5h.8m0-.2h.8m-3.5.8h.8m-.7.3h.8m-.4.2h.8m-.7-.5h.8m-.7.4h.8m-.5.3h.8m-.4-.2h.8m-.8-.2h.8m-.2.2h.8m1.1-.6h.8m-6 1h.8m.2.7h.8m-.7-.4h.8m-.8 0h.8m0-.2h.8m-.8 0h.8m-.3.3h.8m-.7.2h.8m-.7-.6h.8m-.7.5h.8m-.7-.3h.8m-.7.6h.8m-.8-.5h.8m-.8.3h.8m-.7-.6h.8m-.5.2h.8m-.6.2h.8m.1.3h.8m-4.9.4h.8m-.1-.2h.8m-.1.4h.8m-.5-.3h.8m-.5.8h.8m-.8-.5h.8m-.5 0h.8m-.8-.3h.8m-.7.4h.8m-.3.1h.8m-.4-.1h.8m-.2-.4h.8m-4.4 1.3h.8m.4.4h.8m-.8-.2h.8m-.5-.4h.8m-.6.6h.8m-.8-.6h.8m-.7-.1h.8m-.4.3h.8m-.4.2h.8m-.5-.1h.8m-.8 0h.8m-.6-.3h.8m-.8.2h.8m-.6.3h.8m-.6-.2h.8m.5-.1h.8m-5.7.8h.8m-.5.6h.8m-.3-.4h.8m-.6.3h.8m-.6-.3h.8m-.6.5h.8m-.6-.5h.8m-.7-.4h.8m-.7.9h.8m-.7-.3h.8m-.6-.4h.8m-.7.4h.8m-.6.2h.8m-.7 0h.8m-.8.2h.8m-.8-1h.8m0 0h.8m-.7.6h.8m-.2.1h.8m-3.9.7h.8m-.7.2h.8m-.6.1h.8m-.7-.6h.8m-.8 0h.8m-.7.1h.8m-.7.4h.8m-.8-.3h.8m-.7.2h.8m-.5-.1h.8m-.8.2h.8m-.7.1h.8m-.6-.5h.8m-.8-.1h.8m-.6.4h.8m-.7 0h.8m-.6-.4h.8m-.7.8h.8m-.8-.4h.8m-.6-.1h.8m-4 1h.8m-.4 0h.8m-.1.3h.8m-.8-.6h.8m-.1.4h.8m-.6-.1h.8m-.8.2h.8m-.6-.2h.8m-.8.4h.8m-.7.1h.8m-.6-.6h.8m-.7.6h.8m-.6-.6h.8m-.7-.3h.8m-.7.7h.8m-.6-.7h.8m-.5.4h.8m-3 .7h.8m.1.5h.8m-.5 0h.8m-.2-.5h.8m-.1.2h.8m-3.1.8h.8m-.4.9h.8m-.4-.8h.8m-.8.6h.8m-1.6.9h.8m-.6-.7h.8m-.5.3h.8m-.6.2h.8m-.5.2h.8m-.5-.4h.8m-1.7 1.2h.8m-.3.3h.8m-3 .8h.8m.1 0h.8m-.5 0h.8m-.3.1h.8m.6-.5h.8m-2.2 1.7h.8m-.8-.1h.8m-.6-.2h.8m-.5-.4h.8m-.6.7h.8m0-.8h.8"/>
<path fill="none" stroke="#6b86c8" stroke-width=".8" stroke-opacity="0.5" d="M107.1 589.5h.8m-5.9 2.1h.8m1.5-.2h.8m.5-.2h.8m.1.3h.8m-10.5.9h.8m4 .1h.8m-.5-.6h.8m-.4.8h.8m.9-.5h.8m.8-.2h.8m-.5.1h.8m.1.1h.8m2.3-.2h.8m-9.6 1.2h.8m-.6.5h.8m-.6-.1h.8m-.2-.4h.8m-.4.5h.8m-.7-.2h.8m1.2.1h.8m-.7 0h.8m.7-.5h.8m-.8.5h.8m-.2-.1h.8m-7.9.9h.8m-.8-.2h.8m-.7.4h.8m-.7.1h.8m-.4-.5h.8m-.4.1h.8m.1.2h.8m.3-.4h.8m0-.1h.8m-.2 0h.8m-.7.3h.8m-.6.4h.8m-.4-.8h.8m-.5.4h.8m-.4.4h.8m-11.5.5h.8m1.6.2h.8m.6-.5h.8m.7.5h.8m-.8.4h.8m-.1-.5h.8m-.6.5h.8m-.7-.4h.8m-.6-.5h.8m-.5.3h.8m-.7-.3h.8m-.6.8h.8m-.6-.4h.8m1.5 0h.8m-.7.2h.8m-.5-.5h.8m-.8.1h.8m-9.1 1.2h.8m0-.3h.8m1.1.2h.8m-.7-.2h.8m-.6.7h.8m-.7-.4h.8m-.6.1h.8m-.4-.2h.8m.5.5h.8m.1-.7h.8m-.6.2h.8m.3.6h.8m-6.8 1h.8m-.8-.3h.8m-.3.1h.8m-.6.1h.8m-.7.1h.8m1.2-.2h.8m-.7-.5h.8m.3.7h.8m-.5-.4h.8m-.8-.5h.8m-.3.5h.8m2.6 0h.8m-12.2 1h.8m.5-.3h.8m.2.2h.8m.8.4h.8m0-.4h.8m1.9.1h.8m-7.5.9h.8m2.6 0h.8m-.2-.2h.8"/>
<path fill="none" stroke="#a8b8e0" stroke-width=".8" stroke-opacity="0.5" d="M105.3 584.6h.8m7.3-.6h.8m-.8 2.8h.8m-10.5 1.3h.8m7.2.4h.8m-13 1.1h.8m.5-.3h.8m-.5.1h.8m1.9-.3h.8m.6.7h.8m2 0h.8m-3.4.9h.8m4 0h.8m-4.6 1.1h.8m-.3-.5h.8m.4.2h.8m.3-.6h.8m.7.7h.8m1.2-.5h.8m8-.2h.8m-19.3 1.8h.8m6.5-.1h.8m1.4-.6h.8m-13.1 1.2h.8m.4.6h.8m3.7-.1h.8m1.3-.4h.8m-9.9 2.1h.8m2-.1h.8m10.7.1h.8m1.2-.4h.8m-18 1.7h.8m12.2-.5h.8m7.1-.1h.8m-.3 1.3h.8m-16.7.8h.8m5.1.1h.8m-4.7.9h.8m-.8.5h.8m-6 .2h.8"/>
<ellipse cx="96.9" cy="600.6" rx="1.0" ry="2.6" fill="#5ab45a" filter="url(#b05)"/>
</g>
<line x1="91.50" y1="600.60" x2="143.50" y2="600.60" stroke="#777" stroke-width="0.8" />
<line x1="99.20" y1="568.80" x2="99.20" y2="620.40" stroke="#777" stroke-width="0.8" />
<text x="94.4" y="575.1" font-size="7.4" fill="#231f20" >G<tspan dy="1.6" font-size="4.5">1</tspan></text>
<text x="94.4" y="582.6" font-size="7.4" fill="#231f20" textLength="17.3" lengthAdjust="spacingAndGlyphs" >54.8%</text>
<text x="141.8" y="575.1" font-size="7.4" text-anchor="end" fill="#231f20" >S-G<tspan dy="1.6" font-size="4.5">2</tspan><tspan dy="-1.6">-M</tspan></text>
<text x="141.8" y="582.6" font-size="7.4" text-anchor="end" fill="#231f20" textLength="17.7" lengthAdjust="spacingAndGlyphs" >27.2%</text>
<text x="94.4" y="611.1" font-size="7.4" fill="#231f20" >G<tspan dy="1.6" font-size="4.5">0</tspan></text>
<text x="94.4" y="618.6" font-size="7.4" fill="#231f20" textLength="17.3" lengthAdjust="spacingAndGlyphs" >17.8%</text>
<line x1="24.00" y1="624.60" x2="24.00" y2="600.30" stroke="#111" stroke-width="1.0" />
<path d="M22.00 601.30L24.00 596.30L26.00 601.30z" fill="#111"/>
<line x1="23.50" y1="624.60" x2="47.90" y2="624.60" stroke="#111" stroke-width="1.0" />
<path d="M46.90 622.60L51.90 624.60L46.90 626.60z" fill="#111"/>
<text x="27.4" y="586.8" font-size="7.8" text-anchor="middle" fill="#231f20" textLength="13.5" lengthAdjust="spacingAndGlyphs" transform="rotate(-90 27.4 586.8)" >Ki67</text>
<text x="54.2" y="626.5" font-size="7.8" fill="#231f20" textLength="26.6" lengthAdjust="spacingAndGlyphs" >Hoechst</text>
<rect x="190.40" y="575.40" width="51.40" height="49.70" fill="none" stroke="#9a9a9a" stroke-width="0.8" />
<clipPath id="c11"><rect x="190.40" y="575.40" width="51.40" height="49.70"/></clipPath>
<g clip-path="url(#c11)">
<path fill="none" stroke="#3340c0" stroke-width=".7" stroke-opacity="0.75" d="M216.3 586h.7m-2.6 2h.7m.1 2.6h.7m-.5 0h.7m-.8 1.1h.7m.5-.1h.7m1.1.2h.7m-5.8.8h.7m1.1-.7h.7m0 .7h.7m0 0h.7m-2.1.9h.7m-.5-.1h.7m-.6.4h.7m-.7-.5h.7m.4.4h.7m-.5-.1h.7m-.7 0h.7m-.6.1h.7m.3 0h.7m-6.1.6h.7m.8.3h.7m-.6-.5h.7m-.4.2h.7m-.6.4h.7m.2-.4h.7m-.7.3h.7m-.1-.5h.7m.2.7h.7m-3 .5h.7m-.4-.1h.7m-.5.5h.7m.8-.4h.7m.1-.2h.7m-6.1 1.7h.7m.2-.7h.7m-.6-.1h.7m.4.3h.7m-.4-.4h.7m-.7.6h.7m-.3.2h.7m-.6-.6h.7m-.5-.2h.7m-.3.5h.7m-.2-.3h.7m0-.1h.7m.8.6h.7m-.7-.7h.7m-6.2 1.7h.7m.3.1h.7m-.3-.5h.7m-.7.3h.7m-.6-.4h.7m-.1.6h.7m-.6-.2h.7m-.4-.4h.7m-.7.3h.7m-.6-.2h.7m-.6 0h.7m.1.4h.7m-.5 0h.7m.2.1h.7m-.2-.7h.7m-.7.8h.7m-6.2.6h.7m-.2.3h.7m-.5-.3h.7m-.7.1h.7m-.6-.4h.7m-.5.3h.7m-.4-.5h.7m-.5.6h.7m-.6-.3h.7m-.5-.1h.7m-.7.7h.7m-.3-.4h.7m-.5-.4h.7m-.4 0h.7m-.6 0h.7m-.5.5h.7m-.4-.1h.7m-.6-.1h.7m-.5.5h.7m-.6-.1h.7m-.4 0h.7m0-.7h.7m-.5.5h.7m-.6 0h.7m-.7-.1h.7m-.6.1h.7m-.3-.1h.7m-.7-.4h.7m-.2 0h.7m-7.1 1.6h.7m-.3-.1h.7m-.1-.2h.7m-.5.2h.7m-.5-.2h.7m-.5-.1h.7m-.6.4h.7m-.5-.6h.7m-.5.7h.7m-.7.1h.7m-.4-.1h.7m-.6-.1h.7m0-.3h.7m-.6.4h.7m-.7-.7h.7m-.7-.1h.7m-.6.5h.7m-.6-.3h.7m-.7 0h.7m-.6.3h.7m-.4.2h.7m-.5-.7h.7m0 .3h.7m-.6-.1h.7m-.4.4h.7m.1.3h.7m1.4 0h.7m-9.3.7h.7m-.2-.6h.7m-.3.1h.7m0-.1h.7m-.5 0h.7m.1.4h.7m-.6.3h.7m-.6-.5h.7m-.6-.2h.7m-.3.7h.7m-.3 0h.7m-.6-.6h.7m-.6.5h.7m-.7-.1h.7m-.6-.2h.7m-.4 0h.7m-.5.6h.7m-.6-.8h.7m-.7.7h.7m-.4-.3h.7m-.7.2h.7m-.5-.3h.7m-.2.4h.7m-.6.1h.7m-.5-.2h.7m-.6.2h.7m-.6-.7h.7m-.1.5h.7m-.5-.5h.7m-.6.4h.7m-.7-.2h.7m-.6 0h.7m-7.6 1.1h.7m.4-.1h.7m-.4-.3h.7m.1.5h.7m-.3-.4h.7m-.7.5h.7m-.5-.1h.7m-.5.2h.7m-.3-.6h.7m-.1-.2h.7m-.6.1h.7m-.7.7h.7m-.5-.3h.7m-.6.2h.7m-.7-.6h.7m-.6.3h.7m-.6.2h.7m-.7-.2h.7m-.5-.4h.7m-.6.5h.7m-.7-.5h.7m-.3.7h.7m-.7-.4h.7m-.6.5h.7m-.6-.5h.7m-.1.5h.7m-.7-.4h.7m-.7-.4h.7m1 .6h.7m-8.5.5h.7m-.2.4h.7m-.6.3h.7m.2-.4h.7m-.4-.1h.7m-.5.4h.7m-.5.2h.7m-.6-.9h.7m-.7.4h.7m-.4.5h.7m-.5-.8h.7m-.7.5h.7m-.6 0h.7m-.5-.5h.7m-.4 0h.7m-.7.4h.7m-.5-.3h.7m-.7-.2h.7m-.5.4h.7m-.6.1h.7m-.6.2h.7m-.6-.5h.7m-.5 0h.7m-.5.2h.7m-.4.1h.7m-.7-.5h.7m-.7.6h.7m-.6-.6h.7m-.7.5h.7m-.3-.4h.7m-.7.1h.7m-.5.7h.7m-.7-.9h.7m-.6.4h.7m-.6-.4h.7m-.6.3h.7m-.1.1h.7m-.6-.2h.7m-.4.1h.7m-8.3 1.6h.7m-.5 0h.7m-.1-.7h.7m1.7.2h.7m-.5-.4h.7m-.4.6h.7m-.4.2h.7m-.6-.1h.7m-.6-.5h.7m-.7.1h.7m-.1.4h.7m-.2-.2h.7m-.5-.4h.7m-.2.1h.7m-.5.5h.7m-.7.1h.7m-.7-.8h.7m-.5.4h.7m-5.7 1.3h.7m-.2-.4h.7m-.1.3h.7m-.6-.1h.7m-.5 0h.7m-.6-.4h.7m-.7.5h.7m-.3-.1h.7m-.7-.5h.7m.4.7h.7m-.5-.7h.7m-.7.1h.7m-.7.4h.7m-.4-.4h.7m.4.2h.7m-.7.2h.7m-.6 0h.7m-.5 0h.7m-.6-.3h.7m.2-.2h.7m-6.1 1h.7m-.6.5h.7m-.5-.5h.7m-.5 0h.7m-.7.4h.7m-.2.1h.7m.1-.5h.7m-.4.3h.7m-.3-.1h.7m-.5.4h.7m-.5-.1h.7m-.6-.4h.7m-.5.2h.7m.3 0h.7m-.6 0h.7m-.6-.2h.7m-.3.3h.7m-5.7 1.2h.7m-.4.2h.7m1.2-.8h.7m-.5 0h.7m-.6.5h.7m-.4.3h.7m-.6-.8h.7m-.6.7h.7m-.4-.7h.7m-.7.5h.7m-.5-.4h.7m-.4.2h.7m-.6-.3h.7m-.3.9h.7m-.6-.1h.7m-4.4.5h.7m-.6.5h.7m-.5-.5h.7m0-.3h.7m.1.1h.7m-.2 0h.7m0 0h.7m-.5.8h.7m-2.4.6h.7m-.6.3h.7m-.6-.1h.7m-.1-.6h.7m0 .5h.7m0 0h.7m-.4-.6h.7m-3.6 1.9h.7m-.3-.7h.7m.2-.1h.7m.7-.1h.7m-7.7 1.8h.7m2.1-.6h.7m.4.4h.7m-.3-.1h.7m.9.8h.7m-.6.5h.7m-.7 0h.7m-.1-.8h.7m-2.8 2.6h.7m1.1.2h.7m-2.7 2.6h.7"/>
<path fill="none" stroke="#e2303c" stroke-width=".7" stroke-opacity="0.7" d="M218.4 586.8h.7m.6-.4h.7m-3.8 2.1h.7m-.6.2h.7m.2-.5h.7m2.1-.1h.7m-4.8 1.7h.7m-.4-.4h.7m-.2-.3h.7m-.7 1.7h.7m-.6.2h.7m-.3.1h.7m-.2.5h.7m-.1-.7h.7m-.6.9h.7m.9-.6h.7m-.5.3h.7m-.2 0h.7m-.6-.3h.7m-5.4.7h.7m-.5.8h.7m.8-.5h.7m-.7.1h.7m-.6.1h.7m-.1.3h.7m-.3-.7h.7m-.5.8h.7m-.5-.2h.7m-.3.2h.7m1.3-.3h.7m-.5-.3h.7m.8.4h.7m-5.7.4h.7m-.1.4h.7m0 .1h.7m-.3.2h.7m-.3-.5h.7m-.7-.1h.7m.4-.2h.7m-.6.8h.7m-9 .9h.7m1.9-.3h.7m-.6-.2h.7m-.7.4h.7m.7-.6h.7m.7.7h.7m-.6-.2h.7m-.6.2h.7m-.7-.5h.7m-.6.7h.7m-.7-.1h.7m-.1-.5h.7m-.6.3h.7m-.2.1h.7m-.6.2h.7m.8-.7h.7m-.5 0h.7m.5.2h.7m-6.9.9h.7m-.4-.3h.7m-.6.3h.7m.9.3h.7m-.6.1h.7m-.4.2h.7m-.7-.7h.7m-.5.5h.7m-.6-.1h.7m-.5.2h.7m-.6 0h.7m-.5-.2h.7m-.4-.1h.7m-.6 0h.7m-.2.2h.7m-5.6.6h.7m-.6.1h.7m-.6.3h.7m.9-.3h.7m-.3.2h.7m-.3-.2h.7m-.6.3h.7m-.5-.6h.7m-.6.5h.7m-.3-.1h.7m0 .1h.7m-.7-.2h.7m-.7-.1h.7m.1.3h.7m-.2.1h.7m-.3-.6h.7m-.6.6h.7m.7.2h.7m-10.4.1h.7m-.3.3h.7m1.6.4h.7m-.1-.5h.7m-.3-.2h.7m-.7.5h.7m-.1-.1h.7m-.6.4h.7m-.6-.5h.7m-.7.6h.7m-.7-.2h.7m-.6-.4h.7m-.7.2h.7m-.6.2h.7m-.7-.6h.7m-.6.6h.7m-.7-.7h.7m-.6 0h.7m-.2.9h.7m-.7-.4h.7m-.6.2h.7m-.6-.4h.7m-.5.5h.7m-.6-.8h.7m-.6.4h.7m-.4.5h.7m-.7-.1h.7m-.4-.4h.7m-.7-.2h.7m-.5.5h.7m-.1.2h.7m-.7-.6h.7m-.6-.3h.7m.2.5h.7m-7.1 1.1h.7m-.1-.1h.7m-.7-.2h.7m-.3-.3h.7m-.6.4h.7m.1.4h.7m-.6.1h.7m-.1-.1h.7m-.6-.1h.7m-.5-.7h.7m-.6.2h.7m-.2.3h.7m-.7-.3h.7m-.6.4h.7m-.5-.2h.7m-.4.4h.7m-.3-.8h.7m-.2.1h.7m.2.5h.7m0 0h.7m-9.9.5h.7m2.3.4h.7m.2 0h.7m-.3.1h.7m.3.2h.7m-.5-.6h.7m-.7.1h.7m-.6-.1h.7m-.5.5h.7m-.6-.4h.7m-.7.2h.7m-.3 0h.7m-.7.3h.7m0-.2h.7m.2-.1h.7m-.3-.5h.7m-.5.5h.7m-5.4.6h.7m-.7.2h.7m-.7.4h.7m-.2-.3h.7m-.6.4h.7m-.6-.8h.7m-.4.2h.7m.2-.2h.7m-.3.3h.7m-.3.2h.7m-.7 0h.7m-.7.2h.7m-.4-.1h.7m-.7-.4h.7m-.4.4h.7m-.5-.6h.7m-.6.4h.7m-.6-.2h.7m-.3.5h.7m-.3-.1h.7m0 .2h.7m-.6-.3h.7m-.4-.2h.7m-9 1.1h.7m1.5-.2h.7m-.6-.1h.7m-.2.5h.7m-.2-.2h.7m-.2.5h.7m-.7-.9h.7m-.5.7h.7m-.4-.4h.7m-.6 0h.7m-.6-.1h.7m-.3.7h.7m-.7 0h.7m-.2-.6h.7m-.7.1h.7m-.7 0h.7m-.1-.2h.7m-.4 0h.7m-.4.3h.7m-.4-.4h.7m-.6.2h.7m-.6.6h.7m-.2-.8h.7m-.4-.1h.7m.2.5h.7m-9 1h.7m.5-.5h.7m-.6.1h.7m-.7.7h.7m.3.1h.7m0-.7h.7m-.6.2h.7m-.6-.4h.7m-.4 0h.7m-.5.3h.7m-.4-.3h.7m-.6.6h.7m.2-.1h.7m-.5.3h.7m1.3-.6h.7m.1.3h.7m-.2 0h.7m-8.1.7h.7m.4.3h.7m.3-.3h.7m-.5.6h.7m-.5-.5h.7m-.3-.2h.7m0 .1h.7m-.6-.2h.7m-.6.1h.7m-.3.8h.7m-.5-.3h.7m-.7-.6h.7m-.7 0h.7m-.5.6h.7m0-.1h.7m2.8-.3h.7m-9.4 1.1h.7m-.5.2h.7m-.1-.2h.7m.4-.1h.7m.2.2h.7m-.6-.1h.7m-.6.1h.7m-.5.3h.7m-.6-.6h.7m-.6.6h.7m-.5-.5h.7m-.4.5h.7m-.6-.2h.7m-.4.2h.7m-.6-.3h.7m-.7-.3h.7m0 .7h.7m-.6-.5h.7m-.2.1h.7m-.7.2h.7m1-.2h.7m-9.9 1.2h.7m1.9-.2h.7m-.5 0h.7m1.1-.4h.7m-.3.9h.7m-.6-.1h.7m-.2 0h.7m-.7-.1h.7m-.6-.7h.7m-.7 0h.7m-.4.2h.7m-.7-.2h.7m-.2.3h.7m.7.2h.7m-6.2 1.1h.7m1-.1h.7m1.2-.4h.7m.5.8h.7m-.4 0h.7m-4.3.6h.7m-.2-.5h.7m.2.3h.7m-.6-.1h.7m.4-.1h.7m.3.4h.7m-.9 1.3h.7m1-.1h.7m-4.6.6h.7m-.4-.1h.7m2.6.1h.7m-1.4 1.6h.7m-2 .6h.7m-.4 0h.7m-.4-.3h.7m-3.9 1.3h.7m3 .6h.7"/>
<path fill="none" stroke="#e86070" stroke-width=".7" stroke-opacity="0.5" d="M223 581.3h.7m-.4 1.4h.7m-1.6 1.8h.7m1.6-.3h.7m-.1-.2h.7m.3 2h.7m.6.3h.7m-5.1 1.4h.7m0-.8h.7m-3.2 1.4h.7m6.3-.2h.7m-7.7 1.6h.7m14.5-.3h.7m-10.6.7h.7m8.8-.1h.7m-19.3 1.3h.7m.9-.1h.7m.5 0h.7m.9.2h.7m.9.4h.7m-.3-.8h.7m.4.4h.7m1.3.3h.7m-5.2.5h.7m0-.2h.7m.3-.1h.7m1.8.7h.7m.3-.5h.7m-.1.3h.7m-4.9 1.3h.7m-.6-.8h.7m.8 0h.7m2.5.6h.7m4.4-.1h.7m-9.2 1h.7m-.3 0h.7m2.8.4h.7m-5.5.6h.7m3.3-.4h.7m.2.3h.7m-.5 0h.7m-7 1.5h.7m2.3-.1h.7m5.7.1h.7m-10.2.1h.7m.8.6h.7m-.6.3h.7m2.1-.3h.7m1.8.1h.7m3.7-.2h.7m-5 1.2h.7m-11.7 1.2h.7m5.2-.6h.7m-.1.6h.7m-.3-.4h.7m-.7-.3h.7m-7 1h.7m5.9-.2h.7m2.3 1.4h.7m-10.8 1.5h.7m3.7.8h.7m3.9.2h.7m6.5-.5h.7m-22.8.8h.7m5.7.3h.7m7.7-.4h.7m-.4.6h.7m-.6.2h.7m1 .4h.7m2.3 6.9h.7"/>
<path fill="none" stroke="#a8a860" stroke-width=".7" stroke-opacity="0.55" d="M231.4 587.4h.7m-2 3.6h.7m-1.7 1.8h.7m1.4-.4h.7m.7.3h.7m-6.5 1h.7m-8.6.3h.7m9.5 1.2h.7m2.4-.2h.7m-4.6 1.1h.7m.3.3h.7m3.6.4h.7m.7-.6h.7m-7.5.7h.7m-4.9 1.7h.7m3.8-.7h.7m.4.7h.7m-.5 0h.7m.2-.4h.7m4.8 0h.7m.1.8h.7m-6.4 1.3h.7m-7.5.8h.7m6.1.2h.7m.4 1h.7m2 .2h.7m-12.5.5h.7m3.9.4h.7m7.4-.3h.7m-12.9 2h.7m7-.1h.7m-6.7.9h.7m8 .3h.7m-3 .7h.7m-1.6 1.2h.7"/>
</g>
<text x="193.4" y="583.2" font-size="8.6" font-style="italic" fill="#231f20" textLength="33.7" lengthAdjust="spacingAndGlyphs" >Anp32b<tspan dy="-3.2" font-size="5.2">+/+</tspan></text>
<path fill="none" stroke="#e0202a" stroke-width="2" stroke-linecap="round" d="M193.4 612.5h0"/>
<path fill="none" stroke="#2030b0" stroke-width="2" stroke-linecap="round" d="M193.4 619.2h0"/>
<text x="196.8" y="613.8" font-size="8.2" fill="#231f20" textLength="31.0" lengthAdjust="spacingAndGlyphs" >G1 48.05%</text>
<text x="196.8" y="621.1" font-size="8.2" fill="#231f20" textLength="31.0" lengthAdjust="spacingAndGlyphs" >G2 46.63%</text>
<line x1="194.40" y1="625.10" x2="194.40" y2="626.60" stroke="#888" stroke-width="0.5" />
<text x="193.4" y="629.4" font-size="2.6" fill="#999" >10⁴</text>
<line x1="208.50" y1="625.10" x2="208.50" y2="626.60" stroke="#888" stroke-width="0.5" />
<text x="207.5" y="629.4" font-size="2.6" fill="#999" >10⁴</text>
<line x1="222.60" y1="625.10" x2="222.60" y2="626.60" stroke="#888" stroke-width="0.5" />
<text x="221.6" y="629.4" font-size="2.6" fill="#999" >10⁴</text>
<line x1="236.70" y1="625.10" x2="236.70" y2="626.60" stroke="#888" stroke-width="0.5" />
<text x="235.7" y="629.4" font-size="2.6" fill="#999" >10⁴</text>
<line x1="188.90" y1="582.40" x2="190.40" y2="582.40" stroke="#888" stroke-width="0.5" />
<line x1="188.90" y1="612.40" x2="190.40" y2="612.40" stroke="#888" stroke-width="0.5" />
<text x="186.8" y="584.4" font-size="2.6" fill="#999" transform="rotate(-90 186.8 584.4)" >25K</text>
<rect x="190.40" y="634.70" width="51.40" height="50.20" fill="none" stroke="#9a9a9a" stroke-width="0.8" />
<clipPath id="c12"><rect x="190.40" y="634.70" width="51.40" height="50.20"/></clipPath>
<g clip-path="url(#c12)">
<path fill="none" stroke="#3340c0" stroke-width=".7" stroke-opacity="0.75" d="M218 639.8h.7m-6 6.3h.7m.8.3h.7m-.1-.2h.7m.9 1.5h.7m-1.7 1.9h.7m-.5-.3h.7m-1.7 1.4h.7m-.3-.3h.7m.1-.3h.7m1.6.6h.7m-4.4.4h.7m1.1.2h.7m0-.2h.7m-.5.2h.7m-6.6.8h.7m-.1-.2h.7m.1.4h.7m.2-.1h.7m-.5.2h.7m-.6.2h.7m-.2 0h.7m-.6-.4h.7m-.3.3h.7m0 0h.7m-.5.3h.7m-.3-.1h.7m-1.8 1h.7m.9 0h.7m-.1-.5h.7m-.6-.3h.7m.4.9h.7m-7.3.2h.7m.1.8h.7m-.4-.2h.7m-.4-.2h.7m-.2.2h.7m.1-.5h.7m-.5.3h.7m-.4.4h.7m-.2-.6h.7m-.5-.2h.7m.5-.1h.7m-7.5 1.4h.7m.4-.2h.7m.8-.1h.7m-.4.2h.7m.3.6h.7m-.6 0h.7m-.4-.4h.7m-.6.2h.7m-.6 0h.7m-.6-.1h.7m-.1-.3h.7m1.5-.2h.7m-6.3 1.7h.7m-.4-.3h.7m.2-.5h.7m-.5.5h.7m-.3-.1h.7m-.7.2h.7m-.7-.1h.7m.3.4h.7m-.3-.6h.7m-.6 0h.7m-.5.3h.7m-.3-.1h.7m-.4.3h.7m-.4-.4h.7m.4-.3h.7m.2.1h.7m-8.2 1h.7m1 .2h.7m-.3-.2h.7m-.1-.1h.7m-.5 0h.7m-.5.6h.7m-.3.1h.7m-.2-.2h.7m-.7-.3h.7m-.6.5h.7m-.7-.4h.7m-.3.5h.7m-.7-.1h.7m-.6-.3h.7m-.4-.3h.7m-.3-.1h.7m-.3.4h.7m-.7-.3h.7m-.4.3h.7m-.2-.1h.7m-7.1 1.4h.7m-.4.1h.7m.5-.8h.7m-.1.8h.7m-.7-.1h.7m.1-.8h.7m-.4 0h.7m-.3.5h.7m-.4.1h.7m-.7-.4h.7m-.6.5h.7m-.5-.2h.7m-.7.3h.7m-.5-.5h.7m-.7-.2h.7m-.6.1h.7m-.5.3h.7m-.1.3h.7m-.7 0h.7m-.3.1h.7m-.7-.5h.7m-.2-.1h.7m-.7-.2h.7m-.6.2h.7m-.5.6h.7m.9-.1h.7m-.6-.5h.7m-8 1.4h.7m-.2.1h.7m-.6-.8h.7m-.4.7h.7m-.4-.3h.7m-.1.3h.7m-.5 0h.7m-.6-.6h.7m-.3.1h.7m-.7.4h.7m-.6.2h.7m-.6-.6h.7m-.5-.1h.7m-.7.3h.7m-.7.1h.7m-.5 0h.7m-.6-.3h.7m-.7.1h.7m-.1.3h.7m-.4-.4h.7m-.4.2h.7m-.7.1h.7m-.6-.3h.7m-.5.5h.7m-.6-.7h.7m-.6.4h.7m-.6.2h.7m-.4-.2h.7m-.3-.2h.7m.1-.1h.7m-6.8 1.1h.7m-.7.3h.7m-.6 0h.7m-.6.2h.7m-.4.1h.7m-.6-.4h.7m-.7.1h.7m-.3 0h.7m-.5.4h.7m-.6-.2h.7m-.6-.6h.7m-.7.3h.7m-.2 0h.7m-.5 0h.7m-.7.1h.7m-.6.2h.7m-.6-.1h.7m-.7-.5h.7m-.6.3h.7m-.6-.4h.7m-.7.1h.7m-.5.7h.7m-.7-.6h.7m-.7.7h.7m-.5-.9h.7m-.4.6h.7m-.5-.2h.7m-.6.2h.7m-.7-.4h.7m-.6.7h.7m-.7-.6h.7m-.7.3h.7m-.5-.2h.7m-.6-.4h.7m-.5.2h.7m-.5.7h.7m-.4-.6h.7m-.4.3h.7m-.5-.2h.7m-.5.1h.7m-.5.1h.7m.6.2h.7m-7.9.8h.7m-.5.2h.7m-.6-.2h.7m0 .2h.7m0-.6h.7m-.5-.2h.7m-.7.5h.7m-.6-.2h.7m-.4-.3h.7m-.6.2h.7m-.6-.2h.7m-.7 0h.7m0 .7h.7m-.6.1h.7m-.6-.6h.7m-.6-.2h.7m-.6.4h.7m-.5.4h.7m-.6.1h.7m-.7-.8h.7m-.6.1h.7m-.2 0h.7m-.4-.1h.7m-.6.4h.7m-.5-.4h.7m-.6-.1h.7m-.7.5h.7m.1.2h.7m0-.6h.7m-.4.5h.7m-8.5 1h.7m.5-.3h.7m.5.2h.7m-.6.4h.7m-.5-.4h.7m-.6-.4h.7m-.3.8h.7m-.5-.7h.7m-.5 0h.7m-.4 0h.7m-.7 0h.7m-.4.3h.7m-.7-.3h.7m-.6.1h.7m-.7-.2h.7m-.4.1h.7m-.5-.1h.7m-.6.2h.7m-.6.5h.7m-.6-.1h.7m-.1.2h.7m-.6-.2h.7m-.4-.6h.7m-.6.6h.7m-6.9.9h.7m-.3.1h.7m0 .1h.7m-.2-.3h.7m-.2.2h.7m-.5-.3h.7m-.2.3h.7m-.6.1h.7m-.7-.7h.7m-.6 0h.7m-.6.7h.7m-.5-.1h.7m0-.3h.7m-.6-.4h.7m-.7 0h.7m-.3.1h.7m-.6.8h.7m-.5-.4h.7m-.7-.5h.7m-.6.4h.7m-.4.3h.7m-.2-.3h.7m-.5.4h.7m-.6-.3h.7m-.2.4h.7m-.5-.5h.7m.4.3h.7m-.3.2h.7m-8.4.4h.7m.6.2h.7m0-.2h.7m-.4.6h.7m-.6 0h.7m-.4-.8h.7m-.6.7h.7m-.7-.2h.7m-.5.1h.7m-.5.2h.7m-.6-.7h.7m-.2-.2h.7m-.6.3h.7m-.6.1h.7m-.5-.4h.7m-.6.2h.7m-.5.5h.7m-.5-.5h.7m-.5.1h.7m-.7-.1h.7m-.6.7h.7m-.2-.4h.7m-.5-.1h.7m-.6-.4h.7m-.3.8h.7m-.4-.7h.7m-.4.5h.7m-8.7 1.1h.7m-.4-.3h.7m-.1 0h.7m-.3.4h.7m.3 0h.7m-.5-.2h.7m-.5-.6h.7m-.7.9h.7m-.5-.1h.7m-.4-.6h.7m-.6.2h.7m-.1.2h.7m-.6.2h.7m-.4-.4h.7m-.5.3h.7m-.7 0h.7m-.5.1h.7m-.6.1h.7m.4-.4h.7m-.7-.5h.7m-.5.1h.7m-.5.1h.7m-.5.4h.7m-.6.1h.7m-.6-.2h.7m-.5-.3h.7m-.5-.1h.7m.7.1h.7m-8.9 1.7h.7m-.2-.8h.7m.8.4h.7m-.6-.1h.7m-.4.3h.7m.1-.1h.7m-.5-.6h.7m-.4.3h.7m-.5.6h.7m-.3-.9h.7m-.6 0h.7m-.7.5h.7m-.5.2h.7m-.5.2h.7m-.6-.9h.7m-.5.3h.7m-.6-.3h.7m-.6.5h.7m-.6-.2h.7m-.7-.2h.7m-.7.2h.7m-.5.3h.7m-.6.1h.7m-.5 0h.7m-.3-.5h.7m-.3.3h.7m-.5-.5h.7m-8.6 1.6h.7m1.3-.5h.7m-.6.5h.7m-.1-.2h.7m-.7.3h.7m-.3 0h.7m-.7-.4h.7m0 .6h.7m-.1-.1h.7m-.6-.4h.7m-.6 0h.7m-.7.3h.7m-.4-.1h.7m-.6.3h.7m-.6-.9h.7m-.2.1h.7m-.7 0h.7m-.7.7h.7m-.5.1h.7m-.5-.1h.7m-.3-.8h.7m.2.4h.7m-.7-.4h.7m-.4.9h.7m-5.8.2h.7m.4.8h.7m0-.7h.7m-.6.3h.7m-.6.4h.7m-.3-.2h.7m-.6-.7h.7m-.5.4h.7m-.3.4h.7m-.7-.2h.7m.7-.3h.7m-.4-.3h.7m-.5 0h.7m-5.5 1h.7m0 .3h.7m-.2.3h.7m0-.6h.7m-.5 0h.7m-.3.4h.7m-.2.2h.7m-.3-.4h.7m-.6.6h.7m-.3-.1h.7m.6-.5h.7m-.1-.2h.7m-8.9 1.7h.7m3.7.1h.7m-.4-.4h.7m-.4.4h.7m.5-.8h.7m-3.5 1.3h.7m.7.2h.7m1.5.2h.7m-.7-.7h.7m-4.2 1.9h.7m2.3-.3h.7m.4-.3h.7m-8.8 1.4h.7m5.1 0h.7m.6 0h.7m.3 1.1h.7m-7.5 4.6h.7"/>
<path fill="none" stroke="#e2303c" stroke-width=".7" stroke-opacity="0.7" d="M216.7 645.3h.7m.6 1.8h.7m-2.9 1.1h.7m6.8.5h.7m-4.6.7h.7m.2.4h.7m-3.6.9h.7m.4-.7h.7m.2.6h.7m.6-.5h.7m-3.4.8h.7m.9.7h.7m1.5-.2h.7m.5.3h.7m-8.4 1.1h.7m.2-.8h.7m1.4.5h.7m.8-.2h.7m-.7.3h.7m-.3-.5h.7m-.3-.2h.7m.5.1h.7m.3.3h.7m-9.4 1.5h.7m1.7-.6h.7m.1.2h.7m-.7.2h.7m1.6-.4h.7m-.7-.3h.7m-.5.2h.7m1 .1h.7m-7.7 1.2h.7m-.1-.2h.7m0-.1h.7m-.3.3h.7m-.1.2h.7m.2.2h.7m0-.3h.7m.8-.2h.7m-.1 0h.7m-.5.5h.7m-.7-.1h.7m.8-.2h.7m.3 0h.7m-9.5.6h.7m-.5 0h.7m3.1 0h.7m0 .4h.7m-.7-.6h.7m-.4.9h.7m-.5-.9h.7m-.5.2h.7m-.7.6h.7m-.5-.2h.7m.2.3h.7m1.9-.1h.7m-8.9.2h.7m.1.2h.7m-.7.7h.7m-.3-.8h.7m-.1-.1h.7m-.6.8h.7m-.3-.5h.7m-.2 0h.7m.3.6h.7m-.3-.9h.7m0 .1h.7m-.6.6h.7m-.4-.3h.7m-.1 0h.7m-.7.3h.7m-.1-.5h.7m1.9.6h.7m.2-.3h.7m-8.5.7h.7m.8.4h.7m-.3-.1h.7m-.6.1h.7m-.3-.5h.7m-.6.2h.7m-.5 0h.7m-.4.6h.7m.1-.8h.7m.1.3h.7m-4.2.6h.7m-.2.2h.7m-.5.6h.7m.4-.4h.7m-.2.2h.7m-.4.2h.7m-.2-.4h.7m-.1.3h.7m-.6.1h.7m.7-.4h.7m-.5-.1h.7m-7.8 1.5h.7m-.6.1h.7m.9 0h.7m-.4-.9h.7m-.2.7h.7m-.6-.6h.7m-.5.2h.7m-.6-.1h.7m.4-.2h.7m-.3.3h.7m-.3 0h.7m-.6-.3h.7m-4.9 1.3h.7m.3-.2h.7m-.2.3h.7m-.5.1h.7m.6.3h.7m-.7 0h.7m-.3-.7h.7m-.6.7h.7m-.4-.1h.7m-.5-.6h.7m.1.8h.7m-.4 0h.7m-.7-.6h.7m.1.5h.7m.6-.4h.7m-9.8.9h.7m1.7 0h.7m-.2-.2h.7m-.2 0h.7m-.3.4h.7m-.7.3h.7m.1-.6h.7m-.5.2h.7m.9-.3h.7m-5.9 1.2h.7m1.1.5h.7m-.6-.2h.7m.5.1h.7m1.1 0h.7m-4.3 1.1h.7m2.1-.2h.7m-.7-.4h.7m-.1.2h.7m.9.1h.7m-.3.3h.7m-.2-.6h.7m-8.9.9h.7m2.4.4h.7m-.1-.3h.7m.3.1h.7m-.3-.2h.7m.6 0h.7m-.6.6h.7m-2.9.3h.7m-.6.7h.7m1-.5h.7m.8.2h.7m-.3.4h.7m-6.5.9h.7m.3-.1h.7m1.6.1h.7m1-.7h.7m.3.5h.7m-2.2 1h.7m-6.7.7h.7m2-.2h.7m-.3 1.5h.7m-1.2.7h.7m1.5-.2h.7m.9.8h.7m-8.8.8h.7m10.4.8h.7m-5.4 2.1h.7"/>
<path fill="none" stroke="#e86070" stroke-width=".7" stroke-opacity="0.5" d="M221.6 642.9h.7m1.7 2.9h.7m-1.6.3h.7m-.5.7h.7m0 .3h.7m-4 1h.7m4.3.7h.7m2.8-.2h.7m-12.2 1h.7m2.4-.4h.7m-2.1 1.4h.7m1.8-.6h.7m1.1.7h.7m.8 0h.7m-.7.1h.7m-.5 0h.7m6.6-.6h.7m-14.6 1h.7m4.1.5h.7m-4.5.5h.7m3.4-.1h.7m.8 0h.7m.9.1h.7m1.9.2h.7m-9.5.9h.7m.8.1h.7m.5.3h.7m0-.3h.7m4.3.4h.7m-8.2.8h.7m.9-.7h.7m1.6.3h.7m-.6.5h.7m-8.6 1h.7m11.1-.8h.7m-9.5 1.6h.7m.1-.3h.7m2.9 0h.7m-4.8 1h.7m-4.3.7h.7m2.6 1.1h.7m-5.3 1.1h.7m2.8-.2h.7m-2.4 1.5h.7m9.2-.5h.7m-13.6 1.9h.7m3.4.1h.7m-.4.9h.7m3.3.3h.7m-5.3 4h.7"/>
<path fill="none" stroke="#a8a860" stroke-width=".7" stroke-opacity="0.55" d="M227.7 644.8h.7m.7.9h.7m-7.2.8h.7m.4 3.9h.7m-.3 3h.7m3.9.3h.7m-.7 1.1h.7m.9-.8h.7m-6.3 1.6h.7m8.5-.4h.7m-5.3 1.5h.7m-.7 1.1h.7m4.5.3h.7m-6.9.9h.7m3.1.4h.7m-8.3 1.6h.7m4.7.8h.7m3.7 0h.7m-9 .1h.7m2 3.4h.7"/>
</g>
<text x="193.4" y="642.5" font-size="8.6" font-style="italic" fill="#231f20" textLength="32.8" lengthAdjust="spacingAndGlyphs" >Anp32b<tspan dy="-3.2" font-size="5.2">−/−</tspan></text>
<path fill="none" stroke="#e0202a" stroke-width="2" stroke-linecap="round" d="M193.4 672.3h0"/>
<path fill="none" stroke="#2030b0" stroke-width="2" stroke-linecap="round" d="M193.4 679h0"/>
<text x="196.8" y="673.6" font-size="8.2" fill="#231f20" textLength="31.0" lengthAdjust="spacingAndGlyphs" >G1 27.25%</text>
<text x="196.8" y="680.9" font-size="8.2" fill="#231f20" textLength="31.0" lengthAdjust="spacingAndGlyphs" >G2 67.42%</text>
<line x1="194.40" y1="684.90" x2="194.40" y2="686.40" stroke="#888" stroke-width="0.5" />
<text x="193.4" y="689.2" font-size="2.6" fill="#999" >10⁴</text>
<line x1="208.50" y1="684.90" x2="208.50" y2="686.40" stroke="#888" stroke-width="0.5" />
<text x="207.5" y="689.2" font-size="2.6" fill="#999" >10⁴</text>
<line x1="222.60" y1="684.90" x2="222.60" y2="686.40" stroke="#888" stroke-width="0.5" />
<text x="221.6" y="689.2" font-size="2.6" fill="#999" >10⁴</text>
<line x1="236.70" y1="684.90" x2="236.70" y2="686.40" stroke="#888" stroke-width="0.5" />
<text x="235.7" y="689.2" font-size="2.6" fill="#999" >10⁴</text>
<line x1="188.90" y1="641.70" x2="190.40" y2="641.70" stroke="#888" stroke-width="0.5" />
<line x1="188.90" y1="671.70" x2="190.40" y2="671.70" stroke="#888" stroke-width="0.5" />
<text x="186.8" y="643.7" font-size="2.6" fill="#999" transform="rotate(-90 186.8 643.7)" >25K</text>
<line x1="210.30" y1="569.70" x2="225.70" y2="569.70" stroke="#222" stroke-width="0.8" />
<line x1="210.30" y1="569.30" x2="210.30" y2="573.40" stroke="#222" stroke-width="0.8" />
<line x1="217.60" y1="569.30" x2="217.60" y2="573.40" stroke="#222" stroke-width="0.8" />
<line x1="225.70" y1="569.30" x2="225.70" y2="573.40" stroke="#222" stroke-width="0.8" />
<text x="212.1" y="567.1" font-size="7.2" font-weight="bold" fill="#2030b0" >2</text>
<text x="219.3" y="567.1" font-size="7.2" font-weight="bold" fill="#d0202a" >1</text>
<line x1="178.40" y1="694.40" x2="178.40" y2="625.60" stroke="#111" stroke-width="1.0" />
<path d="M176.40 626.60L178.40 621.60L180.40 626.60z" fill="#111"/>
<line x1="177.90" y1="694.40" x2="198.90" y2="694.40" stroke="#111" stroke-width="1.0" />
<path d="M197.90 692.40L202.90 694.40L197.90 696.40z" fill="#111"/>
<text x="182.2" y="609.6" font-size="7.8" text-anchor="middle" fill="#231f20" textLength="12.2" lengthAdjust="spacingAndGlyphs" transform="rotate(-90 182.2 609.6)" >SSC</text>
<text x="205.5" y="697.0" font-size="7.8" fill="#231f20" textLength="19.0" lengthAdjust="spacingAndGlyphs" >Violet</text>
<text x="388.0" y="572.5" font-size="7.8" font-style="italic" fill="#231f20" textLength="33.6" lengthAdjust="spacingAndGlyphs" >Anp32b<tspan dy="-3.2" font-size="5.2">+/+</tspan></text>
<text x="389.5" y="634.7" font-size="7.8" font-style="italic" fill="#231f20" textLength="32.7" lengthAdjust="spacingAndGlyphs" >Anp32b<tspan dy="-3.2" font-size="5.2">−/−</tspan></text>
<rect x="376.40" y="576.20" width="51.30" height="51.50" fill="none" stroke="#9a9a9a" stroke-width="0.8" />
<clipPath id="c13"><rect x="376.40" y="576.20" width="51.30" height="51.50"/></clipPath>
<g clip-path="url(#c13)">
<path fill="none" stroke="#8f8fc0" stroke-width=".7" stroke-opacity="0.55" d="M408.5 596.6h.7m-7.2 3.9h.7m.1 1.3h.7m-6.5.3h.7m.3 1.5h.7m9.1-.1h.7m-5.2.4h.7m7.4.9h.7m-20.3.3h.7m4.4.1h.7m-4.5.7h.7m.6.6h.7m3.5 1.1h.7m-.2-.5h.7m1.7.1h.7m.8.1h.7m4.8.4h.7m-16.8.4h.7m-.1.2h.7m1-.2h.7m1.7-.2h.7m2 .5h.7m5-.1h.7m-15.3 1.2h.7m2.6 0h.7m2.8-.2h.7m.5-.4h.7m3.2.1h.7m.1-.1h.7m-16.3 1.1h.7m-.5.6h.7m-.6-.5h.7m1.6-.2h.7m3.4.4h.7m-.3-.4h.7m-.3.3h.7m.7.3h.7m1.7.2h.7m1.2-.7h.7m-.3.5h.7m.9-.5h.7m.3.6h.7m-17.7.7h.7m3.4.3h.7m-.4-.4h.7m-.1.1h.7m-.2.4h.7m5.1-.3h.7m-.4 0h.7m-.3.1h.7m-.3.3h.7m.7-.3h.7m-.4-.5h.7m-17.6 1.1h.7m1.5-.1h.7m4.4-.1h.7m-.1.2h.7m0 .7h.7m-.5-.7h.7m.1-.1h.7m-.6.5h.7m0-.2h.7m.8.2h.7m-.3-.1h.7m-.3-.5h.7m-.2.5h.7m1.6.2h.7m1.1 0h.7m-17 1.1h.7m3-.5h.7m.4-.2h.7m.9.3h.7m1.1-.2h.7m.3.5h.7m-.6-.5h.7m.5.2h.7m-.6.4h.7m1.9-.7h.7m1.4.3h.7m-.4.5h.7m5-.3h.7m-25.4 1.1h.7m5.8-.2h.7m1.7.3h.7m-.5-.8h.7m-.1.5h.7m-.3.2h.7m.6-.3h.7m.8-.1h.7m1.4-.3h.7m0 0h.7m-.7.4h.7m1.1.3h.7m1-.7h.7m.6.3h.7m-15 1.6h.7m.6-.2h.7m0-.1h.7m0 .1h.7m-.4-.5h.7m-.3 0h.7m0 .3h.7m-.3.1h.7m-.3.2h.7m-.6.1h.7m-.6-.5h.7m-.4.3h.7m.3-.2h.7m-.2-.2h.7m-.1.6h.7m.4 0h.7m3.9-.8h.7m.6.1h.7m4.8.5h.7m-21.5.7h.7m1.3-.2h.7m.6.4h.7m-.3-.6h.7m1.2 0h.7m-.6.5h.7m-.2-.4h.7m1.5-.1h.7m-.5.9h.7m0-.8h.7m2 .3h.7m.5.4h.7m-.1-.7h.7m1.1.1h.7m-23.1 1.2h.7m7.8-.3h.7m.3 0h.7m.6.1h.7m-.4.3h.7m2.6-.1h.7m0 .5h.7m1.1-.1h.7m-.5-.2h.7m3.4-.5h.7m-14.4.9h.7m7 .2h.7m1.5.4h.7m.7.1h.7m-.1-.1h.7m1 .3h.7m.6 0h.7m0-.9h.7m-22.1 1.5h.7m1.2.1h.7m.4-.2h.7m1.2.1h.7m9.5 0h.7m-.6.3h.7m-7.7.3h.7m-.4-.1h.7m-10 1.5h.7m6.4.3h.7m2.5-.4h.7m-.1 0h.7m4.9.2h.7m.2.2h.7m-.7-.3h.7m-.3 0h.7m11-.5h.7m-17.1 1.1h.7m.5.6h.7m2.6.8h.7m6-.5h.7m-18.1 1.9h.7m6.9-.8h.7m-9.9 3h.7"/>
<path fill="none" stroke="#9a9ac8" stroke-width=".7" stroke-opacity="0.5" d="M414.5 586.3h.7m-15 1.4h.7m5.8 1.1h.7m8.4-.7h.7m-7.7 1.1h.7m.8.1h.7m.4.5h.7m.7 0h.7m-.3-.4h.7m-8.1.7h.7m.5-.1h.7m.2.2h.7m1.7-.1h.7m2 .5h.7m-.6-.2h.7m-.6.1h.7m.1-.1h.7m-.5.2h.7m0 0h.7m.9-.6h.7m2.6-.1h.7m.1.9h.7m-17.3 1h.7m2.6 0h.7m-.4-.4h.7m.6-.5h.7m.7.9h.7m.5-.3h.7m.3.3h.7m.7-.3h.7m-.5-.1h.7m-.3-.4h.7m2.4 0h.7m4-.1h.7m-18.7 1.1h.7m0 .8h.7m-.5-.3h.7m0-.3h.7m4.7.1h.7m.5 0h.7m.2-.2h.7m.7 0h.7m-16.8 1h.7m7.1.7h.7m-.6-.1h.7m-.5.1h.7m-.4-.7h.7m1.4.3h.7m.7-.3h.7m0-.2h.7m.7.8h.7m5.1-.1h.7m-8.4.4h.7m-9.4 1.7h.7m4.3-.5h.7m.3 1.3h.7m5.7 0h.7m-9.2.6h.7m9.8 0h.7m1.4.7h.7"/>
<path fill="none" stroke="#a8a8d0" stroke-width=".7" stroke-opacity="0.45" d="M409.7 598.8h.7m-3 .1h.7m2.7.8h.7m10.2.1h.7m-16.8.2h.7m2.1.6h.7m-1.2 1.4h.7m9.3.7h.7m-15.7.9h.7m5.8-.1h.7m1 .1h.7m.6.1h.7m3.8-.6h.7m-5.9.9h.7m-2.9 1.8h.7m1.6-.8h.7m-.8 1.2h.7m-1.1 1.3h.7m-13.7.5h.7m7.8.4h.7m.7 0h.7m1.4-.2h.7m2-.1h.7m6.9-.2h.7m-15.8 1.1h.7m1.3.1h.7m2.9.5h.7m4.7-.7h.7m-16.6 1.2h.7m4.8-.2h.7m3.9.4h.7m6.3 0h.7m-16.1 1.2h.7m4-.5h.7m1.6.5h.7m2.2.3h.7m-.6-.7h.7m.1 0h.7m-6.8 1.2h.7m2.4.7h.7m.5.8h.7m-9.3.3h.7m5.8.5h.7m5-.6h.7m-5.6 1.6h.7m-.2.1h.7m-10.4.9h.7m-.4.2h.7m6.1 0h.7m1.2 0h.7m6.7-.8h.7m-15.2 1.5h.7m5.1-.5h.7m.2.4h.7m-.1 0h.7m-4.2 1.3h.7m3.9-.8h.7m-11.4 1.1h.7m16.1.2h.7m-2.8 5h.7"/>
</g>
<line x1="376.40" y1="599.30" x2="427.70" y2="599.30" stroke="#777" stroke-width="0.8" />
<line x1="404.80" y1="576.20" x2="404.80" y2="627.70" stroke="#777" stroke-width="0.8" />
<text x="378.2" y="583.4" font-size="6.8" fill="#231f20" textLength="12.5" lengthAdjust="spacingAndGlyphs" >3.2%</text>
<text x="425.6" y="583.4" font-size="6.8" text-anchor="end" fill="#231f20" textLength="16.5" lengthAdjust="spacingAndGlyphs" >16.2%</text>
<text x="378.2" y="624.9" font-size="6.8" fill="#231f20" textLength="16.5" lengthAdjust="spacingAndGlyphs" >56.5%</text>
<text x="425.6" y="624.9" font-size="6.8" text-anchor="end" fill="#231f20" textLength="16.5" lengthAdjust="spacingAndGlyphs" >24.1%</text>
<rect x="376.40" y="640.20" width="51.30" height="51.90" fill="none" stroke="#9a9a9a" stroke-width="0.8" />
<clipPath id="c14"><rect x="376.40" y="640.20" width="51.30" height="51.90"/></clipPath>
<g clip-path="url(#c14)">
<path fill="none" stroke="#8f8fc0" stroke-width=".7" stroke-opacity="0.55" d="M399.8 665.5h.7m10.2.2h.7m-14.6.7h.7m-.6 1.3h.7m-1.8.6h.7m-9.9 1.1h.7m9.2-.1h.7m1.3.1h.7m-.5.1h.7m8.4.1h.7m.3-.1h.7m-16 .8h.7m1.1 0h.7m5.7.2h.7m-.5-.3h.7m-.6.1h.7m3.3-.3h.7m-17.3 1h.7m3.5.7h.7m-.5-.6h.7m2.7.6h.7m1.1-.2h.7m-.3.1h.7m1.8-.1h.7m.2-.5h.7m-6.9 1.8h.7m.1 0h.7m13.4 0h.7m-20.8.9h.7m2.4-.2h.7m-.6 0h.7m.7-.3h.7m.5.6h.7m1.2-.9h.7m-.1.7h.7m-.4.1h.7m2 0h.7m-15 .3h.7m.9.1h.7m2.3.5h.7m.3-.3h.7m1.8.5h.7m2-.6h.7m.4 0h.7m-.5.5h.7m-.3-.2h.7m-.1-.1h.7m-13 .7h.7m-.5.7h.7m3.3-.3h.7m-.4-.5h.7m-.4.8h.7m-.3-.5h.7m.8.5h.7m-.4-.8h.7m-.2.7h.7m1.7-.4h.7m-.6.3h.7m.2.1h.7m-.2-.8h.7m-.3.3h.7m-.3.4h.7m1.6-.3h.7m1.8.1h.7m-22.8.9h.7m.7-.2h.7m1.9.7h.7m0-.4h.7m.3.2h.7m2.2-.4h.7m.3.4h.7m-.5-.5h.7m.2-.1h.7m-.6.7h.7m-.3-.4h.7m.8-.3h.7m-.1-.1h.7m1.4.4h.7m.1.3h.7m-.1-.7h.7m-.4.3h.7m3.4.1h.7m-17.8.8h.7m.1.6h.7m1.4-.1h.7m1.3-.5h.7m.8.6h.7m1.4 0h.7m1.6-.6h.7m.2.1h.7m1.1-.1h.7m1.6.4h.7m3.4-.5h.7m-19.9 1.1h.7m.1.6h.7m-.4-.1h.7m-.5.2h.7m-.6-.7h.7m-.6-.2h.7m.1.4h.7m-.5-.3h.7m.1-.1h.7m.4 0h.7m-.7.2h.7m1.2.7h.7m-.5-.8h.7m.7.1h.7m-.5.4h.7m-.2.3h.7m0-.6h.7m-.2.5h.7m.2-.1h.7m0 0h.7m.2-.5h.7m.5.5h.7m0 0h.7m-18.3.5h.7m.6-.1h.7m2.7.6h.7m.2-.5h.7m2.2-.2h.7m-.4.7h.7m.2-.3h.7m0-.1h.7m-.6.2h.7m1.3.3h.7m1.7-.7h.7m-16.4 1.7h.7m6.6-.7h.7m4.3.3h.7m.8-.4h.7m1.5.1h.7m-.7 0h.7m1.9 0h.7m-18 1.2h.7m0 0h.7m4.2.5h.7m3.8-.4h.7m1.3.2h.7m2.9.2h.7m-22 .8h.7m2.2.3h.7m8.1 0h.7m-.6 0h.7m-.6-.4h.7m-.5-.1h.7m-.2-.4h.7m.5.8h.7m-.2-.8h.7m.1.2h.7m-.6.3h.7m3.7 0h.7m.1 0h.7m-13.1.7h.7m1.6.1h.7m0-.2h.7m8.2.2h.7m.2.5h.7m-10.5.2h.7m1.5 0h.7m-.1.3h.7m1.8.5h.7m.1-.1h.7m2.3.2h.7m-13.9.1h.7m5.8.8h.7m3-.5h.7m5.7.6h.7m-13.5 4.2h.7m5.7.2h.7"/>
<path fill="none" stroke="#9a9ac8" stroke-width=".7" stroke-opacity="0.5" d="M405.9 650.1h.7m7.5.1h.7m-.6.5h.7m5.2-.7h.7m-8.4 1.1h.7m7 .1h.7m-14.6 1.5h.7m2.2-.1h.7m-.4-.3h.7m1.1.5h.7m.5-.3h.7m1-.5h.7m-2.3 1.5h.7m-.1.3h.7m-6.3.5h.7m1.2-.3h.7m.9.6h.7m.8.2h.7m-.2-.8h.7m-.4-.1h.7m.7.4h.7m5.9.1h.7m-.1.1h.7m-19.3.7h.7m.5.3h.7m1.2 0h.7m.6-.3h.7m-.7.5h.7m-.2-.1h.7m1.8.1h.7m.6-.8h.7m.5.3h.7m-.4.6h.7m-.3-.4h.7m0-.3h.7m1.6-.1h.7m-17.9 1.6h.7m4.6-.1h.7m4.6-.1h.7m.3 0h.7m.1.3h.7m.4-.7h.7m.5 0h.7m1.3.2h.7m-8.6.9h.7m0-.2h.7m1.7.5h.7m.7.2h.7m-11.5.5h.7m6.4.1h.7m1.2-.3h.7m.7.9h.7m-10.7.5h.7m7.7-.2h.7m2.9-.2h.7m-5.1 1.9h.7m-2.6.5h.7m-1.1.7h.7m-.1-.1h.7m-8.6 2.3h.7"/>
<path fill="none" stroke="#a8a8d0" stroke-width=".7" stroke-opacity="0.45" d="M408.4 661.4h.7m1.5.5h.7m-2.2 2.8h.7m-4.5.8h.7m1.6-.1h.7m.5-.4h.7m1.6-.1h.7m-9 1.3h.7m17-.1h.7m-10.5 2.6h.7m-2.6.6h.7m1.3-.2h.7m.9.5h.7m-.4-.7h.7m.5.2h.7m-.3.3h.7m-7.2 1.3h.7m4.4.1h.7m-2.5.2h.7m-.4.1h.7m2.2.5h.7m-13.8 1h.7m5.2.1h.7m1.3-.5h.7m11.5 0h.7m1.7.3h.7m-18.4.5h.7m1-.1h.7m.5 0h.7m2.1.5h.7m2.5-.3h.7m.9.2h.7m2.4.5h.7m-24.1.2h.7m11.3.3h.7m3.4.4h.7m5.1-.2h.7m-16.4 1.1h.7m5.3.2h.7m.5-.5h.7m1.6.5h.7m.4-.9h.7m-7.9 1.8h.7m-3 .3h.7m2.2-.1h.7m3.2.3h.7m-.2.6h.7m-.6-.1h.7m.8-.5h.7m-7.4 1h.7m8.6 1.1h.7m-9 .6h.7m-3.7 1.3h.7m1.2.3h.7m5.4.7h.7m-.3-.3h.7m-10.1 1.3h.7m7.5.6h.7m2-.6h.7m-3.5 6.5h.7"/>
</g>
<line x1="376.40" y1="663.10" x2="427.70" y2="663.10" stroke="#777" stroke-width="0.8" />
<line x1="404.80" y1="640.20" x2="404.80" y2="692.10" stroke="#777" stroke-width="0.8" />
<text x="378.2" y="647.4" font-size="6.8" fill="#231f20" textLength="16.5" lengthAdjust="spacingAndGlyphs" >5.56%</text>
<text x="425.6" y="647.4" font-size="6.8" text-anchor="end" fill="#231f20" textLength="16.5" lengthAdjust="spacingAndGlyphs" >25.5%</text>
<text x="378.2" y="689.3" font-size="6.8" fill="#231f20" textLength="16.5" lengthAdjust="spacingAndGlyphs" >42.2%</text>
<text x="425.6" y="689.3" font-size="6.8" text-anchor="end" fill="#231f20" textLength="16.5" lengthAdjust="spacingAndGlyphs" >26.7%</text>
<line x1="369.20" y1="699.50" x2="369.20" y2="628.40" stroke="#111" stroke-width="1.0" />
<path d="M367.20 629.40L369.20 624.40L371.20 629.40z" fill="#111"/>
<line x1="368.70" y1="699.50" x2="388.80" y2="699.50" stroke="#111" stroke-width="1.0" />
<path d="M387.80 697.50L392.80 699.50L387.80 701.50z" fill="#111"/>
<text x="372.6" y="607.4" font-size="7.8" text-anchor="middle" fill="#231f20" textLength="21.8" lengthAdjust="spacingAndGlyphs" transform="rotate(-90 372.6 607.4)" >7-AAD</text>
<text x="398.2" y="700.9" font-size="7.8" fill="#231f20" textLength="33.8" lengthAdjust="spacingAndGlyphs" >Annexin V</text>
<text x="76.2" y="266.0" font-size="8.2" text-anchor="middle" fill="#231f20" textLength="23.0" lengthAdjust="spacingAndGlyphs" >Spleen</text>
<text x="144.0" y="266.0" font-size="8.2" text-anchor="middle" fill="#231f20" textLength="16.5" lengthAdjust="spacingAndGlyphs" >Lung</text>
<text x="214.5" y="266.0" font-size="8.2" text-anchor="middle" fill="#231f20" textLength="17.0" lengthAdjust="spacingAndGlyphs" >Liver</text>
<text x="42.3" y="288.4" font-size="7.8" font-style="italic" text-anchor="end" fill="#231f20" textLength="35.0" lengthAdjust="spacingAndGlyphs" >Anp32b<tspan dy="-3.2" font-size="5.2">+/+</tspan></text>
<text x="41.3" y="306.8" font-size="7.8" font-style="italic" text-anchor="end" fill="#231f20" textLength="32.5" lengthAdjust="spacingAndGlyphs" >Anp32b<tspan dy="-3.2" font-size="5.2">−/−</tspan></text>
<rect x="45.30" y="270.00" width="62.80" height="55.20" fill="#f6f4f2" />
<rect x="111.30" y="270.00" width="67.20" height="54.80" fill="#f6f4f2" />
<rect x="181.70" y="270.00" width="67.60" height="54.50" fill="#f6f4f2" />
<path d="M55.8 274.8Q53.4 282.6 55.4 290.5" fill="none" stroke="#66242f" stroke-width="5.2" stroke-linecap="round"/>
<path d="M67.6 275.2Q65.5 282.6 67.4 290.0M78.0 276.6Q76.2 282.8 78.4 289.0M88.4 276.8Q86.3 282.8 88.6 288.8" fill="none" stroke="#66242f" stroke-width="4.8" stroke-linecap="round"/>
<path d="M99.0 277.4Q97.1 282.9 98.8 288.5" fill="none" stroke="#66242f" stroke-width="4.6" stroke-linecap="round"/>
<path d="M56.6 297.2Q55.3 303.1 57.0 309.0" fill="none" stroke="#66242f" stroke-width="4.4" stroke-linecap="round"/>
<path d="M67.9 297.0Q66.3 302.1 68.2 307.2M88.8 296.8Q87.4 302.2 89.0 307.6" fill="none" stroke="#66242f" stroke-width="4.2" stroke-linecap="round"/>
<path d="M78.6 297.0Q77.5 302.1 78.9 307.3M97.8 297.4Q96.5 302.8 98.2 308.1" fill="none" stroke="#66242f" stroke-width="4.0" stroke-linecap="round"/>
<path d="M54.6 278Q53.4 282 54.6 287M66.6 278Q65.6 282 66.6 286" fill="none" stroke="#8a4a4e" stroke-width="1.2" stroke-linecap="round" opacity="0.7"/>
<path fill="none" stroke="#622424" stroke-width="8" stroke-linecap="round" d="M143.4 282.5h0m15.1.3h0m14.1.7h0m-53.9.4h0m12.2 0h0"/>
<path fill="none" stroke="#7a3a34" stroke-width="4" stroke-linecap="round" stroke-opacity="0.7" d="M117.5 282.9h0m39.8-1.1h0m14.1.7h0"/>
<path fill="none" stroke="#7a3a34" stroke-width="3" stroke-linecap="round" stroke-opacity="0.7" d="M129.7 282.9h0m12.5-1.4h0"/>
<path fill="none" stroke="#d9765a" stroke-width="7" stroke-linecap="round" d="M131.3 304.3h0m28.2-.6h0m-41.2.9h0"/>
<path fill="none" stroke="#d9765a" stroke-width="6" stroke-linecap="round" d="M145 304.3h0m27.6.3h0"/>
<path fill="none" stroke="#b85a44" stroke-width="4" stroke-linecap="round" stroke-opacity="0.6" d="M119.1 305.4h0"/>
<path fill="none" stroke="#b85a44" stroke-width="3" stroke-linecap="round" stroke-opacity="0.6" d="M132.1 305.1h0m13.7 0h0m14.5-.6h0m13.1.9h0"/>
<g fill="#5c1e22"><ellipse cx="193.2" cy="284.9" rx="4.3" ry="5.0" transform="rotate(0 193.2 284.9)"/><ellipse cx="206.3" cy="283.5" rx="4.5" ry="5.0" transform="rotate(0 206.3 283.5)"/><ellipse cx="217.7" cy="282.5" rx="4.3" ry="5.0" transform="rotate(0 217.7 282.5)"/><ellipse cx="229.9" cy="283.5" rx="4.5" ry="4.5" transform="rotate(0 229.9 283.5)"/><ellipse cx="243.0" cy="283.9" rx="4.5" ry="5.0" transform="rotate(0 243.0 283.9)"/><ellipse cx="193.6" cy="301.9" rx="4.3" ry="4.8" transform="rotate(0 193.6 301.9)"/><ellipse cx="206.0" cy="301.0" rx="4.5" ry="4.5" transform="rotate(0 206.0 301.0)"/><ellipse cx="218.1" cy="299.6" rx="4.0" ry="4.5" transform="rotate(0 218.1 299.6)"/><ellipse cx="230.1" cy="300.1" rx="4.5" ry="4.3" transform="rotate(0 230.1 300.1)"/><ellipse cx="242.3" cy="300.5" rx="4.0" ry="4.8" transform="rotate(0 242.3 300.5)"/></g>
<path fill="none" stroke="#74303a" stroke-width="4" stroke-linecap="round" stroke-opacity="0.6" d="M205 282.3h0m11.4-1h0m12.2 1h0m13.1.4h0m-49.8 1h0m24.9 14.7h0m-24.5 2.3h0m12.4-.9h0m24.1-.9h0m12.2.4h0"/>
<rect x="73.60" y="315.00" width="33.80" height="8.80" fill="#d6d6d4" />
<rect x="73.60" y="315.00" width="33.80" height="3.96" fill="#c4c4c2" />
<path d="M74.6 315.0v2.6M76.2 315.0v1.6M77.8 315.0v1.6M79.4 315.0v1.6M81.0 315.0v1.6M82.6 315.0v2.6M84.2 315.0v1.6M85.8 315.0v1.6M87.4 315.0v1.6M89.0 315.0v1.6M90.6 315.0v2.6M92.2 315.0v1.6M93.8 315.0v1.6M95.4 315.0v1.6M97.0 315.0v1.6M98.6 315.0v2.6M100.2 315.0v1.6M101.8 315.0v1.6M103.4 315.0v1.6M105.0 315.0v1.6M106.6 315.0v2.6" stroke="#8a8a8a" stroke-width="0.3"/>
<text x="77.0" y="322.6" font-size="2.6" fill="#555" >0</text>
<text x="87.1" y="322.6" font-size="2.6" fill="#555" >1cm</text>
<text x="95.6" y="322.6" font-size="2.6" fill="#555" >2</text>
<text x="103.3" y="322.6" font-size="2.6" fill="#555" >3</text>
<rect x="155.10" y="314.80" width="22.50" height="7.70" fill="#d6d6d4" />
<rect x="155.10" y="314.80" width="22.50" height="3.46" fill="#c4c4c2" />
<path d="M156.1 314.8v2.6M157.7 314.8v1.6M159.3 314.8v1.6M160.9 314.8v1.6M162.5 314.8v1.6M164.1 314.8v2.6M165.7 314.8v1.6M167.3 314.8v1.6M168.9 314.8v1.6M170.5 314.8v1.6M172.1 314.8v2.6M173.7 314.8v1.6M175.3 314.8v1.6M176.9 314.8v1.6" stroke="#8a8a8a" stroke-width="0.3"/>
<text x="156.9" y="321.3" font-size="2.6" fill="#555" >0</text>
<text x="164.1" y="321.3" font-size="2.6" fill="#555" >1cm</text>
<text x="170.8" y="321.3" font-size="2.6" fill="#555" >2</text>
<text x="174.9" y="321.3" font-size="2.6" fill="#555" >3</text>
<rect x="214.60" y="312.30" width="34.00" height="6.90" fill="#d6d6d4" />
<rect x="214.60" y="312.30" width="34.00" height="3.10" fill="#c4c4c2" />
<path d="M215.6 312.3v2.6M217.2 312.3v1.6M218.8 312.3v1.6M220.4 312.3v1.6M222.0 312.3v1.6M223.6 312.3v2.6M225.2 312.3v1.6M226.8 312.3v1.6M228.4 312.3v1.6M230.0 312.3v1.6M231.6 312.3v2.6M233.2 312.3v1.6M234.8 312.3v1.6M236.4 312.3v1.6M238.0 312.3v1.6M239.6 312.3v2.6M241.2 312.3v1.6M242.8 312.3v1.6M244.4 312.3v1.6M246.0 312.3v1.6M247.6 312.3v2.6" stroke="#8a8a8a" stroke-width="0.3"/>
<text x="216.3" y="318.0" font-size="2.6" fill="#555" >0</text>
<text x="221.4" y="318.0" font-size="2.6" fill="#555" >1cm</text>
<text x="228.2" y="318.0" font-size="2.6" fill="#555" >2</text>
<text x="233.3" y="318.0" font-size="2.6" fill="#555" >3</text>
<text x="238.4" y="318.0" font-size="2.6" fill="#555" >4</text>
<text x="243.5" y="318.0" font-size="2.6" fill="#555" >5</text>
<rect x="45.30" y="270.00" width="62.80" height="55.20" fill="none" stroke="#2a2a2a" stroke-width="1.0" />
<rect x="111.30" y="270.00" width="67.20" height="54.80" fill="none" stroke="#2a2a2a" stroke-width="1.0" />
<rect x="181.70" y="270.00" width="67.60" height="54.50" fill="none" stroke="#2a2a2a" stroke-width="1.0" />
<text x="323.8" y="270.0" font-size="8.2" text-anchor="middle" fill="#231f20" textLength="23.0" lengthAdjust="spacingAndGlyphs" >Spleen</text>
<text x="401.0" y="270.2" font-size="8.2" text-anchor="middle" fill="#231f20" textLength="16.5" lengthAdjust="spacingAndGlyphs" >Lung</text>
<text x="478.2" y="270.2" font-size="8.2" text-anchor="middle" fill="#231f20" textLength="17.0" lengthAdjust="spacingAndGlyphs" >Liver</text>
<text x="281.8" y="304.5" font-size="7.6" font-style="italic" text-anchor="middle" fill="#231f20" textLength="32.3" lengthAdjust="spacingAndGlyphs" transform="rotate(-90 281.8 304.5)" >Anp32b<tspan dy="-3.2" font-size="5.2">+/+</tspan></text>
<text x="281.8" y="362.0" font-size="7.6" font-style="italic" text-anchor="middle" fill="#231f20" textLength="34.0" lengthAdjust="spacingAndGlyphs" transform="rotate(-90 281.8 362.0)" >Anp32b<tspan dy="-3.2" font-size="5.2">−/−</tspan></text>
<clipPath id="c15"><rect x="286.30" y="274.20" width="72.50" height="57.40"/></clipPath>
<g clip-path="url(#c15)">
<rect x="286.30" y="274.20" width="72.50" height="57.40" fill="#cfa3d6" />
<rect x="286.3" y="274.2" width="72.5" height="57.4" filter="url(#tw)" opacity="0.6"/>
<rect x="286.3" y="274.2" width="72.5" height="57.4" filter="url(#tx)" opacity="0.5"/>
<path fill="none" stroke="#e8c8e8" stroke-width="1" stroke-linecap="round" stroke-opacity="0.7" d="M292.1 276.2h0m-.6 3.2h0m36.3-1h0m11.6 4.2h0m-34 3.1h0m8.3-1.1h0m15.3 3.7h0m2.6-1.4h0m8.7 1.9h0m7.9.5h0m-.3 1.8h0m-40.6 3.9h0m13.5-2.4h0m-20.7 7.6h0m1.1.5h0m21.3.3h0m19.2-1.8h0m-24.6 6.8h0m23.1.3h0m-42.8 1.2h0m12.4 2.3h0m4-.6h0m24.2-1.1h0m-29.7 3h0m22.6 7.5h0m6.4 4.7h0m-27.3 2.6h0m23.5 3.9h0m16.4.1h0"/>
<path fill="none" stroke="#e8c8e8" stroke-width="3" stroke-linecap="round" stroke-opacity="0.7" d="M330.1 274.3h0m-43.4 3.1h0m4.1 1.2h0m31.1-.5h0m8.1.5h0m10.9.8h0m-46.1 2.4h0m24.3.8h0m3.3-1.1h0m10.3 2.6h0m6.1 1.2h0m-3.7 3.4h0m-10.4 3.3h0m2-2h0m30.8-.2h0m-66.3 7.7h0m11.2 3h0m4.1.5h0m25.7-1h0m24.1 8h0m-61.7 3.4h0m4.5 9.3h0m50.1.1h0m5.3-.6h0m3.1 1.2h0m-53.6 3h0m2.2-.8h0m19.8.9h0m7.2-.1h0m10.4 1.8h0m-43 3.7h0"/>
<path fill="none" stroke="#e8c8e8" stroke-width="2" stroke-linecap="round" stroke-opacity="0.7" d="M300.4 275.6h0m.2.3h0m3.4.3h0m3.4-1.2h0m17.9 2.4h0m7.9-1.4h0m6.8 0h0m12.8.2h0m-59.6 2.6h0m14 1.3h0m26-2.1h0m2.5 1.4h0m-31.3 3.3h0m1.1-.5h0m41 .9h0m.5-.6h0m-37.4 3.6h0m2-2.3h0m15.7 1.2h0m2.6 1.4h0m9.1-.6h0m-48 2.6h0m.3.1h0m17-1.9h0m17.1 1.3h0m19.9-.5h0m-57.4 2.2h0m2.7 1h0m3.6-.7h0m33.4 1.6h0m4.4.3h0m17-.2h0m-61.4 2.8h0m5.8-1.1h0m9.1 1.8h0m12.7-2.5h0m2 2.3h0m9.4-.9h0m8.4 1.3h0m13.1-1h0m-43.9 2.5h0m4.7-1.1h0m21.4 2h0m21.5-.8h0m4.4.7h0m-62.3 2.4h0m6.1 1.3h0m3.2-1.4h0m12.1 1.2h0m8.3-1.2h0m16.8-.3h0m3.6.3h0m9.8 1.6h0m.9-2.7h0m-58 3.1h0m19.8.7h0m6.4.6h0m.9-.6h0m9.3.4h0m6.6.6h0m-40.6 2.1h0m9.8-.8h0m5.6-.2h0m6.9 1.8h0m4.7-.3h0m1.7-.7h0m6.2-.9h0m22.9 1.7h0m-49.3 2.4h0m11.9 0h0m21.2 1.3h0m6.6-1.3h0m8.9-.2h0m-67.7 2.9h0m51 2.1h0m.3-2.5h0m-35.4 4.7h0m-8.7 2.2h0m22.7 1.5h0m21.3-1.9h0m.5 1.9h0m5.5-.4h0m8.1-1.3h0m-41 3.3h0m11.4.5h0m4.4.1h0m14.9-.3h0m9.1.9h0m-55.5 3h0m24.4-1.2h0m22.1-1h0m-31.5 2.8h0m24.2.6h0m10.7-.5h0m-48.9 2.6h0m6.9 2.4h0m24.7 0h0m0 .1h0m5.4-1.4h0m19.8.9h0"/>
<path fill="none" stroke="#e89ab8" stroke-width="1" stroke-linecap="round" stroke-opacity="0.8" d="M311.9 280h0m24.7 2.8h0m6.1-.4h0m15.7.4h0m-36.3 2.1h0m30.6-1.2h0m-30 3.1h0m-26.8 7.2h0m6.9-1.1h0m16.7 2.1h0m19.1 5.4h0m19.6-1.2h0m-51.6 3.5h0m5 3.6h0m-11.3 14.6h0m28.5 4.9h0"/>
<path fill="none" stroke="#e89ab8" stroke-width="2" stroke-linecap="round" stroke-opacity="0.8" d="M309.2 274.2h0m-6.5 2.1h0m6.6.6h0m5.1 2.5h0m29.1 3.8h0m-56 1.6h0m61.5-.6h0m-34.2 3h0m7.9.2h0m25.2 1h0m-4.3 4.5h0m-55.4 2.7h0m30.9 2.4h0m1.2-.9h0m-3.3 8.2h0m.9 0h0m32.6.2h0m-55.8 3.2h0m3.5 3.2h0m19.7-.9h0m39.1.2h0m-63.6 12.1h0m33 1.1h0m-19.2 6.5h0"/>
<path fill="none" stroke="#9466b4" stroke-width="2" stroke-linecap="round" stroke-opacity="0.85" d="M299.2 274.4h0m20.5-.2h0m14.8.3h0m13-.3h0m-51 3h0m9.6-1.7h0m5.5-.5h0m17.9 1.2h0m9.2-1.1h0m19.5 1.2h0m-64.6 3.4h0m21.3-1.2h0m2.6-.5h0m2.5 2.2h0m8.3-2.6h0m29.4 2.4h0m-65.8.5h0m4.7 2.2h0m7.1-1.2h0m7.3-.9h0m3.1 2.4h0m2.8-1.8h0m9.6 1.2h0m16.7-.9h0m.4 1.8h0m2.7.1h0m5.9-.2h0m-27.4 1.6h0m7 .2h0m1.4-.9h0m1.9.5h0m.8 1.1h0m1.7.1h0m1.1-2.1h0m15.6.6h0m.2-.2h0m.2 1.8h0m-52.2 1.3h0m1.2 1.9h0m7.5-2.2h0m10.9-.1h0m35 .8h0m1.7-.6h0m-70 4h0m19.4.4h0m12.6-1.1h0m1.2 1.5h0m1 .5h0m1.9-1.6h0m6.9-1.1h0m3.1 2h0m3.1.7h0m3.9-2.7h0m.2 0h0m1.2.3h0m13-.1h0m.8 1.7h0m-69.6 2.1h0m7.2 1.8h0m3.3-.8h0m6.3-1.4h0m27.3 1.1h0m6.4 1h0m7.5-1.5h0m1.7-.4h0m-49.1 3.3h0m9.1-.6h0m.7.7h0m12.4-.7h0m6.6 1.9h0m8.1-.5h0m13.6-.5h0m2.2-1.3h0m-58.9 3.4h0m.5 2.4h0m4.6-.2h0m2.4-.1h0m5-.8h0m6.5.5h0m.5-.2h0m14-2.1h0m.6 2.3h0m2 .5h0m20.9-.4h0m.3-.9h0m7.9-1.3h0m-61 4h0m23.4 1.3h0m5.8-.8h0m9.5.2h0m11.1-1.3h0m5.3-.2h0m4-.3h0m-63.5 4.2h0m16.7.3h0m3.1-1.6h0m.9 1.8h0m7.4.9h0m.8-1.3h0m.6.5h0m4.4-.5h0m4.4-1.3h0m13.7 2.2h0m7.9-.9h0m7.1-1.4h0m-62.5 5.4h0m13.1-.9h0m-13.2 2.1h0m21.3.1h0m5.3 2h0m1.4 0h0m2-.6h0m7.8-1.3h0m19-.8h0m-63.1 4h0m10.3 1.5h0m.2-.3h0m4.7-.9h0m5.6.1h0m15.4 1.3h0m.7-.7h0m.5 0h0m6.5-1.8h0m3.7 1.6h0m2.7.6h0m3.5 0h0m-47 1.4h0m.9-.1h0m11.3 1.4h0m18.7-.9h0m.3 1.2h0m7.7-.3h0m7.1-.8h0m-45.8 3.6h0m11.2-1.3h0m2.9-.6h0m.8 2.6h0m11.2-2.2h0m.7 0h0m.6.8h0m7.9-.8h0m2.6 1.6h0m10.2-1.2h0m3.8.8h0m4.7-1.3h0m-58 5.1h0m7.8-1.8h0m3.1 1h0m4.5-.4h0m17.3 0h0m5.2-.7h0m2.9 2.1h0m2.1-.6h0m.6-1h0m1.4 1.6h0m1-1.9h0m6.6-.3h0m7.5.1h0m-55.3 4.1h0m12.5-1.1h0m1.4-.4h0m6.9 1.4h0m.2.2h0m1.7.6h0m10.7-2.2h0m-37.4 5.1h0m6.4.4h0m23-.4h0m25.6.5h0m.2-.9h0m4.2-1.5h0m1.6 2.2h0"/>
<path fill="none" stroke="#9466b4" stroke-width="3" stroke-linecap="round" stroke-opacity="0.85" d="M310.9 275.5h0m39.4 1.5h0m1-1.8h0m.2.2h0m-46.2 4.2h0m15.9.6h0m20.8-.2h0m.8-2.2h0m5.3 1h0m-59.3 3.3h0m38.2.2h0m7 .9h0m6.9-2.4h0m-46.8 2.8h0m18.7 2.8h0m3.9-1.5h0m12.6 1.6h0m9-2.2h0m4.6 1.6h0m6.6-1.7h0m-61.2 4.9h0m15.4-2h0m7.5 0h0m22.2 1.5h0m-37.8 2.7h0m28.1-.5h0m3.4-.6h0m8 2.2h0m5.6-1.2h0m-49.8 3.8h0m31-1.6h0m.9 1.3h0m10.1.3h0m7.5-.8h0m12.8-1.6h0m1.7 1.3h0m3.8 1.3h0m-70.6 2.6h0m8.2-.1h0m40.4-.8h0m-26.9 2.7h0m17 .7h0m1.6-.5h0m28.5-.7h0m-49.3 3.5h0m2 .2h0m16.4-.7h0m10.3.9h0m-25.7 2.6h0m1.4 1.7h0m6-2.4h0m3.4.4h0m8.2.5h0m-43.1 2.7h0m16.5-1h0m14.7 2.8h0m-18.6 1.5h0m11.3-.7h0m24.8-.3h0m21.3 1.6h0m1.8-1.2h0m-70.7 2.8h0m4-.3h0m14.1 2.4h0m24.1-1.7h0m.9.6h0m3.3-.4h0m15.3 1.4h0m-54.1 2.5h0m19.7-.9h0m4.1 1.2h0m3.9-2.2h0m20.8 5.4h0m-55.6.8h0m3.9 2.3h0m2.3-1.2h0m3.9-.4h0m4.3-.9h0m24.6 2.4h0m4.9-2h0m-23.1 5.1h0m19.3-1.5h0m9.9-.5h0m15.9.2h0m-59.8 4.4h0m6.5.4h0m19.3-1.9h0m7.5 1.8h0"/>
<path fill="none" stroke="#6e4498" stroke-width="2" stroke-linecap="round" stroke-opacity="0.9" d="M348.8 274.4h0m-55.5 1.1h0m21.6.6h0m20.2.4h0m-42.3 2.8h0m10.8 1.5h0m11.1.1h0m2.9.7h0m5.2.7h0m12.5.3h0m6.4-.6h0m8 .2h0m-58 3h0m4.7-1.4h0m9.5 1.7h0m27-1.7h0m12 1.3h0m-58.2 3.5h0m11.5-1.4h0m3.3 1.4h0m9.4.3h0m38.9-1.8h0m-8.8 5h0m10.3-.4h0m3.2-.1h0m-42.1 1.7h0m17.8 1.2h0m1.9-1.8h0m-32.3 3.3h0m6.6.1h0m27.1.7h0m-15 2.4h0m7.2.4h0m.2 1.8h0m9.1-.9h0m-30 2.5h0m44.4-1.4h0m-60.8 5.4h0m4.5-.4h0m1.9 1h0m12.7.3h0m-16.4 4.4h0m17.8.2h0m24.7-1.5h0m22.5 1.3h0m-52.4 3.6h0m51.7.4h0m-66.5.6h0m14.7 4.9h0m40.2.3h0m14.1-.9h0m-65.5 3.9h0m9.1-1.9h0m7.4-.2h0m7.1 1h0m-5.4 4.3h0m25.6-.7h0m-35.7 2.8h0m32.9-.8h0m1.4.2h0"/>
</g>
<rect x="286.30" y="274.20" width="72.50" height="57.40" fill="none" stroke="#222" stroke-width="1.0" />
<line x1="341.60" y1="321.40" x2="355.20" y2="321.40" stroke="#111" stroke-width="1.0" />
<line x1="341.60" y1="320.20" x2="341.60" y2="322.60" stroke="#111" stroke-width="0.6" />
<line x1="355.20" y1="320.20" x2="355.20" y2="322.60" stroke="#111" stroke-width="0.6" />
<text x="341.5" y="329.4" font-size="6.6" fill="#111" textLength="15.5" lengthAdjust="spacingAndGlyphs" >20µm</text>
<clipPath id="c16"><rect x="363.90" y="274.20" width="73.00" height="57.40"/></clipPath>
<g clip-path="url(#c16)">
<rect x="363.90" y="274.20" width="73.00" height="57.40" fill="#d28ac2" />
<rect x="363.9" y="274.2" width="73.0" height="57.4" filter="url(#tw)" opacity="0.6"/>
<rect x="363.9" y="274.2" width="73.0" height="57.4" filter="url(#tx)" opacity="0.5"/>
<path fill="none" stroke="#e6a0c8" stroke-width="4" stroke-linecap="round" stroke-opacity="0.8" d="M405.6 283h0m-36.3 25.3h0"/>
<path fill="none" stroke="#e6a0c8" stroke-width="2" stroke-linecap="round" stroke-opacity="0.8" d="M371.7 276.6h0m8 .8h0m40.6 2h0m-1.7 8.7h0m-46.4 2h0m13.9 1.9h0m1.1 2.5h0m21.6-1.6h0m-43.6 5.2h0m9.2-1.7h0m-6.1 3.1h0m23.7.5h0m26.3-1.4h0m-42.2 5.5h0m.9-1.1h0m7.1-.6h0m1.7-.6h0m3.2 3.6h0m33.8-.9h0m3.4 1.3h0m-54.9 4.4h0m18.5-2.4h0m28.7 3.5h0m-17.2 3.2h0m33.9 0h0m-55.1 6.1h0m43.4 1.3h0m-48.6 2.1h0m8.5.4h0m1.8-.3h0m6.2-1.1h0m-20.2 7.8h0m12.1-.4h0m13.9.1h0m3.2-1.7h0m12.1 2.5h0"/>
<path fill="none" stroke="#e6a0c8" stroke-width="3" stroke-linecap="round" stroke-opacity="0.8" d="M390.5 276.2h0m24.5 2.1h0m-33.9 4.7h0m33.9-2.4h0m3.6.6h0m-48.6 3.8h0m40.8.9h0m25.6-.7h0m-47.2 1.7h0m43 .7h0m-21.9 6.7h0m4.1 7h0m-2.1.9h0m6.2 1.4h0m13.1-1.2h0m2.6.9h0m-31.1 3.1h0m14.3-.7h0m2.8-1h0m-38.9 3.6h0m5.8 1.7h0m11.9 0h0m5.2-1.7h0m-32.1 2.9h0m19.5-.6h0m10.7 1.6h0m18.4 0h0m-12.1 3h0m9.3-1.7h0m1.9.9h0m.8.5h0m6.7 4.4h0m-52.1 5.4h0m8.9-1.3h0m-10.2 4.5h0m3.5.4h0m33.3-1.5h0m-36 4.1h0m34.9-2.1h0m6.5 0h0m4.1.9h0m3.1.3h0"/>
<path fill="none" stroke="#e86a96" stroke-width="3" stroke-linecap="round" stroke-opacity="0.7" d="M402.9 277.3h0m.4-1.2h0m11.7 3.8h0m11.8 2.7h0m-45.3 10.5h0m55.2 3.2h0m-58.2 6.5h0m8.8 1.5h0m6.4 11h0m-10.2 1.9h0m-18.5 3.1h0m47.5.1h0m-32.7 4.2h0m4.1-.8h0m26.4 1.6h0m26-1.9h0m-26.2 4.7h0m-39.6 3.2h0m5.1-2.3h0m7.6-.3h0"/>
<path fill="none" stroke="#e86a96" stroke-width="2" stroke-linecap="round" stroke-opacity="0.7" d="M431.3 277.4h0m1.7-.9h0m-54.5 3.6h0m42.2-1h0m-30.8 7.2h0m17.8 11.1h0m9.1-.1h0m7.8-1h0m10.3 2h0m-65.6 2.6h0m28.5-2.1h0m-17.7 4.6h0m16.9 4.1h0m37.8-.4h0m-68.9 2.1h0m8.6-1.3h0m1.9 6.1h0m49.9 6.4h0m2.9.1h0m5.8.1h0m-68.5 3.8h0m59.4 1h0m-41.8.5h0m24.6 0h0m-33.7 4.3h0m4.7.1h0m27.8-.6h0"/>
<path fill="none" stroke="#e86a96" stroke-width="1" stroke-linecap="round" stroke-opacity="0.7" d="M385.9 275.3h0m1.3 10.3h0m-12.4 39.1h0"/>
<path fill="none" stroke="#7c4ca2" stroke-width="2" stroke-linecap="round" stroke-opacity="0.85" d="M390.7 275.3h0m31.3.1h0m9.9-.8h0m-67 4.6h0m20.2.9h0m4.7-2.1h0m23.8-.4h0m1.5 2.4h0m1.9 0h0m17.4-1.8h0m-58.6 4.4h0m10.3-.7h0m1.8.9h0m27.4-1.9h0m-30.3 3.4h0m0 0h0m.6-.6h0m5.5 1.4h0m22.5.5h0m-38.5 1.5h0m9.5-.2h0m2.6.5h0m4.2.8h0m7.6-.8h0m1.3-.7h0m12.7 2.7h0m3.1-2.7h0m3.9 1h0m13.5-1h0m.3.8h0m-63.8 3.8h0m15.4-.4h0m7.2.2h0m8.9.5h0m15.9-.2h0m7.4-1.1h0m-7.2 4.6h0m12.2-2.3h0m-61.5 3.7h0m22.6-.6h0m9.1 1.6h0m22.7.2h0m7-1.8h0m-56.2 5.5h0m11.2-.4h0m13.1.2h0m37.8-1.6h0m.5.7h0m-41.5 3h0m18.9-.7h0m21.8.8h0m-52.6 1.6h0m.7 1.1h0m2.1.4h0m31.2-.7h0m4.8 1.6h0m-48.1 1.6h0m30.7 1.4h0m9.1 0h0m3-1.5h0m2-1h0m1.8 2.4h0m13.6.2h0m-59.7.4h0m17.4.4h0m17.6-.3h0m24.5 2.6h0m.3-1.7h0m.3-.2h0m-62.3 2.6h0m23.5.6h0m14.4.5h0m20.6-.5h0m-50.6 3.8h0m4-1.1h0m12.2 1.7h0m26.2-.4h0m12.2-1.7h0m-69.3 3h0m2.2 2.1h0m36.3-2.5h0m22.8 1.8h0m.2.1h0m-56.5 2.1h0m12.8-.8h0m8.1 2.3h0m7.6-.2h0m6.6-2.2h0m8.7 2.5h0m1.8-2.1h0m11.3.1h0m-49.1 3.9h0m4.1-.8h0m1.7.1h0m.4.3h0m22.7-.4h0m7.9-.4h0m.1 1.2h0m1.4.1h0m16.7.4h0m-66.8 2.7h0m7.8-1.2h0m7.6 1.6h0m5-2h0m13.5.8h0m11.1-.5h0m17.2.5h0"/>
<path fill="none" stroke="#7c4ca2" stroke-width="3" stroke-linecap="round" stroke-opacity="0.85" d="M371.4 274.3h0m-.4 2.6h0m23.7.3h0m9.4-1.7h0m10.8.2h0m4.2 1.5h0m5.4-2h0m.2.2h0m9.4 2.1h0m.3-.7h0m.1.5h0m-57 1.8h0m24 .9h0m24.2-2.1h0m2.1.9h0m2-.6h0m-53.4 2.7h0m13.2.3h0m2.7 1h0m8.1.9h0m7-1.1h0m9.5.4h0m10.1 1.1h0m-62.2 1.7h0m.5.2h0m4.5.2h0m2.8-1.5h0m18.7 2.3h0m5.6-.7h0m6.1-.9h0m2.2-1h0m3 .4h0m.1.6h0m.1-.6h0m11.1 1.3h0m-29.4 2.5h0m10.9-1.4h0m8.2 1h0m25.8 1.6h0m-65.7 1.5h0m1.8 1.3h0m2.1-1.9h0m5.4 1.4h0m1.6-.7h0m6 1.4h0m9.3-2.3h0m34.7 2h0m3 0h0m1.9-1.5h0m-70.1 3.1h0m.2.6h0m10 .5h0m1-1.6h0m.7.9h0m4 .6h0m3.3-1.5h0m1 2.3h0m9.6.1h0m3.5.1h0m.1-2h0m28.4 1.9h0m-40.2 1.7h0m14.5-.7h0m6.8 2h0m1.1-2.7h0m.8 2.3h0m7.7-1.7h0m1.6.4h0m.5-.6h0m3.2 2.1h0m7-2h0m-45.1 4.7h0m18.5.2h0m9.2-2.5h0m3.4 1.3h0m4.9-.6h0m2.6 1.9h0m4.7-.7h0m.5-1.4h0m-56.7 3h0m16.4 1.1h0m1.4.7h0m8.3.3h0m2.7-1h0m13.9-1.3h0m21.6 1h0m-69.6 4.3h0m.6-2.5h0m2.6 1h0m.2.1h0m5.9-1h0m18.4.2h0m1.7-.1h0m10.6 2.4h0m-21.7 2.1h0m3.2-1.3h0m2.1 1.2h0m31.6-1.1h0m.7.6h0m3.2.2h0m1.4-.6h0m.4.8h0m4.5.7h0m-67.7 2.4h0m2.7.2h0m7.5-1.5h0m12 .6h0m9.6 0h0m2.2.7h0m9.5-.3h0m12-.8h0m5.5 2h0m5.2-2.4h0m.1.3h0m1.3-.4h0m.9 2.2h0m3-.7h0m-45.5 1.5h0m9.7.5h0m3.9 1.7h0m31.9.3h0m-46.3.6h0m6.8 1.1h0m12-.4h0m2.5 1.2h0m1.3-1.4h0m-17.8 3.7h0m1.4.6h0m7.4-.8h0m14.4.2h0m5 .3h0m4.5-.7h0m8.4 1h0m-60 3.6h0m21.8-2.6h0m6.2 2.6h0m3-2h0m8.1 1.2h0m3.2-.7h0m-48.2 3.5h0m.3.5h0m5.8-2.1h0m4.8 2.4h0m9.9-1.5h0m43.9 1.7h0m-63.7 1.4h0m12.7-.7h0m7.7-.3h0m5.9 1.4h0m27.7.2h0m8.5-1.6h0m1 1.1h0m1.9-1h0"/>
<path fill="none" stroke="#f4e4f0" stroke-width="2" stroke-linecap="round" stroke-opacity="0.8" d="M380.6 276.6h0m7.8 6.6h0m25.4 4.8h0m-46.3 5.7h0m58.6-.1h0m-55.9 12.2h0m14.1.7h0m-8.5 5h0m24.6 4.5h0m13.9-2.2h0m-32.9 5.9h0m6.3 9.3h0m47.6 1.4h0"/>
<path fill="none" stroke="#f4e4f0" stroke-width="1" stroke-linecap="round" stroke-opacity="0.8" d="M434.8 274.2h0m-63.9 5.8h0m.5 4.7h0m24.5 1.3h0m34.4 11.6h0m-25.7 3.8h0m13.2-1.8h0m-29.9 6.7h0m-20.7 6h0m40.9-1.3h0m-21 7.5h0m28.9 3.2h0m10.5-1.2h0m-52.6 3.2h0m55.1 3.6h0m-43.5 3.8h0m25.4-.6h0"/>
</g>
<rect x="363.90" y="274.20" width="73.00" height="57.40" fill="none" stroke="#222" stroke-width="1.0" />
<line x1="419.70" y1="321.40" x2="433.30" y2="321.40" stroke="#111" stroke-width="1.0" />
<line x1="419.70" y1="320.20" x2="419.70" y2="322.60" stroke="#111" stroke-width="0.6" />
<line x1="433.30" y1="320.20" x2="433.30" y2="322.60" stroke="#111" stroke-width="0.6" />
<text x="419.6" y="329.4" font-size="6.6" fill="#111" textLength="15.5" lengthAdjust="spacingAndGlyphs" >20µm</text>
<clipPath id="c17"><rect x="441.30" y="274.20" width="72.60" height="57.40"/></clipPath>
<g clip-path="url(#c17)">
<rect x="441.30" y="274.20" width="72.60" height="57.40" fill="#c88ac6" />
<rect x="441.3" y="274.2" width="72.6" height="57.4" filter="url(#tw)" opacity="0.6"/>
<rect x="441.3" y="274.2" width="72.6" height="57.4" filter="url(#tx)" opacity="0.5"/>
<path fill="none" stroke="#e0a8d4" stroke-width="3" stroke-linecap="round" stroke-opacity="0.8" d="M462.1 274.9h0m19 4.5h0m-22.6 4.6h0m10.8 5.1h0m-15.3 1.9h0m38.3 1.8h0m-44.5 5h0m19.1.6h0m-18.8 3.9h0m13.5.7h0m2.9 1.4h0m6.7 2.3h0m13.9-2h0m15.2 1h0m-30.6 4.6h0m5.1-2.4h0m27.2 1h0m-30.6 4.3h0m16.2-1.7h0m-34.8 3.2h0m20.7 3h0m1.4.5h0m-17.8 2.1h0m11.1.4h0m-.8 2.8h0m41.6 2.2h0m-63.2 3.5h0m20.4.3h0m39.3-.7h0"/>
<path fill="none" stroke="#e0a8d4" stroke-width="2" stroke-linecap="round" stroke-opacity="0.8" d="M491.2 280.6h0m20.7 1.2h0m-33 4h0m24.4.7h0m-57.1 8.8h0m51.3-2.3h0m-23.3 4.9h0m-11.2 3.5h0m43.2-.2h0m-50.3 6h0m53.1 8.6h0m-61.6 3.4h0m9-.3h0m3.4.1h0m9.4-1.6h0m7.6-.2h0m27.1 8.3h0m-51.3 5.8h0m59.7-.3h0"/>
<path fill="none" stroke="#e0a8d4" stroke-width="4" stroke-linecap="round" stroke-opacity="0.8" d="M461.2 277h0m-16.6 3.5h0m25.2-2.9h0m7 4.4h0m5.8 3.8h0m25.8-2.1h0m-57.4 4.2h0m41.7.2h0m-19.7 1.6h0m4.3 5.4h0m-21.3 2.6h0m34.9-.9h0m12.5 4h0m-35.1 1.9h0m16.3-.3h0m2.6 1.6h0m-43.6.7h0m42.6 3.4h0m-30.5 6h0m29 5.1h0m-28 4.3h0m16.1-.2h0"/>
<path fill="none" stroke="#6a3c96" stroke-width="2" stroke-linecap="round" stroke-opacity="0.85" d="M451.5 276.3h0m33.4.7h0m6.4-.3h0m4.1-1.2h0m4.2-.6h0m5.5.4h0m5 0h0m2-.5h0m-52.3 3.8h0m.7 1.3h0m29.7-1.9h0m14.4 1.4h0m-58.3 1.4h0m3.6 2.3h0m18.6-1.2h0m4.5.7h0m15.1-1.2h0m10.2-.3h0m8.2 0h0m7 1.8h0m-70.1 2h0m8-1.2h0m2.3.6h0m12.3 2h0m17.8-.5h0m9.8.2h0m2.7-1.2h0m1.6-.5h0m6.6 2.2h0m-60.1 1.4h0m16.6-.8h0m11.6.6h0m2.1-1.1h0m10.3-.1h0m.9 2.9h0m17.6-.5h0m4.9-2h0m3.2 2.4h0m-70.2 3h0m6.4-1.1h0m25.4.2h0m5.2-1.9h0m.2.6h0m2.1 1.4h0m1.9.4h0m6-1.2h0m3.8-.6h0m1.5.4h0m-51.7 3.2h0m3.5 1.6h0m2-2.1h0m5.8 2.2h0m.4-2.4h0m6.9.5h0m10.4-.1h0m7.4 1.8h0m3-1.8h0m2.9.5h0m17.6.2h0m-52.6 2h0m16.8 1.3h0m11.9-.4h0m24.4-.9h0m2.8 1.1h0m-62.5 1.9h0m9.9.9h0m5.4-.9h0m25.9-.6h0m7.4.6h0m3.7 0h0m-48.9 3.6h0m.8 1.2h0m12.8-.2h0m.8-1.1h0m3 1.4h0m1.4.5h0m1.8-1.7h0m7.1.5h0m.9 1h0m24.1-1.2h0m-35.1 1.5h0m.2 2.9h0m10.9-1.5h0m4.8-1.2h0m.8 1.7h0m9.6-.2h0m4.2 0h0m4.7-.7h0m-46.4 4.3h0m16.8-1.8h0m7.3.3h0m7.1 0h0m13.8 1h0m.1 1h0m13.2-2.6h0m-58.2 3.8h0m.7 1.7h0m1.7-1.7h0m6.7 1.6h0m38.6-.7h0m5.8-.2h0m6.5-1h0m-69 3.3h0m8.6-.2h0m2.7.8h0m12.7.3h0m17-1.7h0m14.9 1.5h0m-54.2 2.1h0m4.6.8h0m9 .9h0m8.7-.9h0m13.3-.5h0m-17.8 2.6h0m9.2 2.2h0m2-.2h0m.7-1h0m32.7-1.2h0m5.4 2.1h0m-40.4.7h0m14.7 1.9h0m11.5.1h0m2.2-2.3h0m5.2.6h0m-46.1 3.4h0m7.6.7h0m5.2-1h0m6.2-.2h0m4.2-.2h0m11.6-.4h0m18.6 2.6h0m-70.7 2h0m16.6 1.4h0m.5-.5h0m27.3-.7h0m8.3-1.6h0"/>
<path fill="none" stroke="#6a3c96" stroke-width="3" stroke-linecap="round" stroke-opacity="0.85" d="M467.3 274.5h0m24.8-.1h0m-41.8 2.3h0m5.7-1h0m12.3.7h0m2.9-.9h0m3.5 1.4h0m5.3-1.8h0m14.5.2h0m17.5.1h0m-57.3 3.6h0m6.5.5h0m2.9-1h0m2.9 1.6h0m11.5.3h0m8.3.1h0m15.5-2.1h0m-37.2 3.1h0m0 .2h0m10.1 1.3h0m4.6-1.4h0m3.1-.4h0m4.6 1.4h0m14.5.5h0m2.2-.5h0m2.6-2h0m3.9 1.3h0m-56.8 3.3h0m9.7-1.4h0m1.5.5h0m1.9 1.8h0m11.5-.9h0m3.5-.9h0m12.4.4h0m5.1-.6h0m4.3-.4h0m-58.7 5.7h0m22.5-1.1h0m2.8-.1h0m4-.1h0m9.2-.6h0m9.7-.7h0m2.2 1.6h0m10.3-1.7h0m6.2-.1h0m-63.4 4.4h0m5.1.8h0m4.3-.9h0m12.1-.3h0m5.5 1.1h0m4.2 0h0m1.5-1.2h0m8.4 2h0m18.1-.9h0m-59.6 2.9h0m2.2-1.6h0m3 2.2h0m6.5-1.5h0m13.9 1.5h0m2.4-.3h0m2.2-2h0m0 .2h0m.4.2h0m12.9.7h0m21.2 1h0m-70.2 3.6h0m4.3-1.2h0m12.3 1.2h0m9.4-2.5h0m.3.6h0m17.7-.9h0m5.3 2.3h0m6.8-1.3h0m.3-.3h0m8.6 2h0m3.4-2.5h0m-56.2 3.2h0m9.4-.3h0m9.4 1.5h0m16.2-.9h0m-39.3 5h0m.7-2.8h0m1.8 1.7h0m.6.6h0m9.4-.9h0m7.7.4h0m13.4-.6h0m11.4.4h0m3.5-.3h0m8.3.6h0m-63.4 2.4h0m1.9-.4h0m5.6.4h0m18.8 1.2h0m10.2-.8h0m18.6 1.1h0m1.9-2.1h0m1.1-.5h0m11.4 2.2h0m-69.1 3.5h0m15.6-.3h0m6.8-.5h0m9 .4h0m4.1.2h0m19.5-.4h0m1.2-1.7h0m5.9-.5h0m1.9.7h0m-59.5 2.3h0m2.7.3h0m1.4 2.3h0m10.4-1.9h0m1.1-.8h0m8.7.6h0m3.6 1.8h0m17.4-.9h0m3.9.2h0m11.8.4h0m-60.3 2.8h0m4.8-1.2h0m1.8 0h0m.1.9h0m17.6-.2h0m.5 1.3h0m12.3-.7h0m12.5-2h0m3.2 2.8h0m4.5-1h0m-58.9 3.2h0m10.3-.5h0m1.8-.8h0m2.1 1.4h0m3.2-1.9h0m22.1 1.9h0m1.4.4h0m10.7-1h0m13.2-.7h0m-63.8 2.9h0m18.3-.5h0m2.8 0h0m4.4 1.9h0m4.8-2.2h0m2.9 2.1h0m8.1-.5h0m12.7.2h0m.3-.4h0m6 .1h0m1 1.5h0m-68.9.6h0m6.8 2.2h0m.5-2.2h0m1.5 1.4h0m14.9-1.5h0m17.3 1.2h0m5.6.3h0m-20 2.7h0m3.1.3h0m15.8-.2h0m9.2-1.7h0m3.5 2.5h0m-46.1 1.8h0m11.5-.1h0m31.3.2h0m3.3.3h0"/>
<path fill="none" stroke="#f0dcef" stroke-width="1" stroke-linecap="round" stroke-opacity="0.8" d="M465.6 276.1h0m-20.9 3h0m19.3-.4h0m-6.6 5.9h0m-10.1 4.7h0m23.3-.2h0m-20.4.6h0m56.5 3.1h0m6.3 2.2h0m-38.2 4.7h0m8.9-.2h0m-28.2 2.3h0m33.5 2.1h0m6 .4h0m8 .1h0m2.9-2.2h0m-28.4 4.6h0m-16.5 1.5h0m-11 4.2h0m6 3.3h0m25.9 3.6h0m20.4-1.6h0m7.9-.3h0m-56 10.5h0m57.3-2.2h0m-58.6 4.6h0"/>
<path fill="none" stroke="#f0dcef" stroke-width="2" stroke-linecap="round" stroke-opacity="0.8" d="M488.8 279.1h0m-17.5 7.9h0m22.5 9.2h0m-34.7 5.3h0m32-2.2h0m-20.4 8.1h0m32.5-.5h0m-47.3 6.1h0m-10.2 5h0m46 1.3h0m-32.6 2.6h0m32.7 1.8h0m-29.8 2.1h0m38.9 3.4h0"/>
</g>
<rect x="441.30" y="274.20" width="72.60" height="57.40" fill="none" stroke="#222" stroke-width="1.0" />
<line x1="496.70" y1="321.40" x2="510.30" y2="321.40" stroke="#111" stroke-width="1.0" />
<line x1="496.70" y1="320.20" x2="496.70" y2="322.60" stroke="#111" stroke-width="0.6" />
<line x1="510.30" y1="320.20" x2="510.30" y2="322.60" stroke="#111" stroke-width="0.6" />
<text x="496.6" y="329.4" font-size="6.6" fill="#111" textLength="15.5" lengthAdjust="spacingAndGlyphs" >20µm</text>
<clipPath id="c18"><rect x="286.30" y="337.50" width="72.50" height="57.60"/></clipPath>
<g clip-path="url(#c18)">
<rect x="286.30" y="337.50" width="72.50" height="57.60" fill="#a872ba" />
<rect x="286.3" y="337.5" width="72.5" height="57.6" filter="url(#tw)" opacity="0.6"/>
<rect x="286.3" y="337.5" width="72.5" height="57.6" filter="url(#tx)" opacity="0.5"/>
<path fill="none" stroke="#d0a0d4" stroke-width="2" stroke-linecap="round" stroke-opacity="0.6" d="M297.6 339.4h0m33.6 2.8h0m-1.7 2.2h0m17.2-.2h0m.3.6h0m-34.4 4.6h0m14.8-1.9h0m2.3-.1h0m10.9 4.7h0m6.4 2h0m-45.7 1.9h0m4.7 2h0m32.2-1.3h0m15.8 1h0m-44.5 1.4h0m-14.4 6.3h0m13.9 1.1h0m27.5-.5h0m12.1 1.2h0m-1.8 5.3h0m-46.9 2.8h0m58.9.2h0m-42.6 3.3h0m33.3 2.4h0m.8-1.6h0m.3.5h0m-25.2 6.4h0m-22.6 3.7h0m16.6.5h0m-1.3 1.7h0m18.2.1h0"/>
<path fill="none" stroke="#d0a0d4" stroke-width="3" stroke-linecap="round" stroke-opacity="0.6" d="M319.4 340h0m-11.5 2.4h0m31.5.3h0m-15.8 2.1h0m-28.6 10.5h0m41.7-.1h0m-29.7 1.1h0m26.9 1.6h0m-12.9 2.9h0m-31.5 1.2h0m28 2.2h0m21.5-1.5h0m11.3 3.5h0m3.1 3.9h0m-36.4.6h0m19.9 1.3h0m20.4 3.1h0m-25.5 1.7h0m4 1.2h0m.5 2.9h0m-32.2 1.9h0m32.7 1.5h0m16.9-.4h0m-54.2 1.6h0m.5 5.6h0m13.7-1.2h0m21.4 1.1h0m-48.8 3.1h0m19.5.7h0"/>
<path fill="none" stroke="#5a3090" stroke-width="2" stroke-linecap="round" stroke-opacity="0.85" d="M291.5 337.9h0m3.3 2h0m14.7-.1h0m1.7-.2h0m4-.3h0m1.1-.3h0m2.4.3h0m1.2-.1h0m10.3-.8h0m2.4.7h0m5.4-1.5h0m4.4 1.3h0m1.1-.4h0m11.3-.4h0m.9.8h0m-64.6 4h0m2.1-1.8h0m.1-.1h0m6-.2h0m4.4 2.1h0m1.9.2h0m5-2.2h0m2.4 0h0m.6 2.6h0m.4-1.4h0m3-.5h0m3.2.6h0m7.5.7h0m.8-.9h0m8.8-1.1h0m.2.3h0m2.5-.4h0m10 2.6h0m3.2-2.6h0m.5-.1h0m-66.9 4.5h0m.2-.8h0m3.1 0h0m7.7.4h0m2.6.9h0m1.7.2h0m1.3-1.2h0m.8 1.7h0m3.8-2.3h0m.3.9h0m6.4.7h0m5 .3h0m2-1.9h0m.4 1.7h0m2.9.1h0m.8-1h0m.2 1.3h0m.8-1.4h0m1.5-.9h0m3.8 1h0m4-.5h0m.8 2.1h0m3.6-.3h0m5.1.3h0m1-.5h0m2.3-1.5h0m6-.4h0m.7 1.8h0m.1-2.2h0m2.3.4h0m-67.7 4.5h0m7.5-.6h0m9.2.5h0m.5.7h0m6.5.1h0m3.7-1.9h0m4.6-.2h0m5.6.9h0m8.7.2h0m.3.3h0m1.1.3h0m1.3.1h0m9.3-.9h0m3.4-.7h0m2-.7h0m.9 2.7h0m1.5-.9h0m-66.5 3.4h0m.4-.5h0m2.7-1.1h0m1.8-.4h0m.3 1.4h0m1.8.2h0m3.1 1h0m17.3-3h0m4.5 1.1h0m3.1 1.1h0m.5.4h0m3.4-1.3h0m2.7 1.2h0m4.1-.1h0m.6-2.1h0m1.6 1.8h0m1.6.5h0m1.7-.9h0m3.5 1.2h0m1.9-1.6h0m3.5-1.1h0m.3.2h0m.2 1.2h0m1.9 1.2h0m5.1-1.2h0m-66.9 2.1h0m1.2-.4h0m3.8 1.8h0m1.3-1.4h0m6.1.9h0m3.7.4h0m.7.3h0m4.3-1.2h0m1.8 1.4h0m.7-1.2h0m5.7 1.5h0m1.1-1h0m3.2-.1h0m10.4.8h0m3-.9h0m3.1-1.1h0m3.5-.4h0m1.6 2.2h0m1.8-.9h0m1.2-1.2h0m.6 2h0m2-1.9h0m5.3.8h0m.8 1.4h0m1.2-1.5h0m-70 3.2h0m1.5 1.3h0m2.8-.3h0m8.5.5h0m.8-1.7h0m1.3 1.5h0m6.7-.7h0m3 .2h0m9.6.5h0m3.4-.5h0m1.1-1.1h0m1 1.1h0m2.4-.1h0m2.2-1h0m3 1.4h0m.7-.8h0m1 1h0m4.3-1.2h0m3.7-.9h0m5.2 1.6h0m1 .4h0m0-.1h0m5.9-.8h0m.9.6h0m-71.7 1.8h0m2.5.6h0m4.5 0h0m.3.8h0m9.1-1.9h0m.9 0h0m1 2.3h0m.4-.6h0m1.7-2.1h0m4.9 2.4h0m3.2-2.2h0m7.8.5h0m3.2.4h0m.1 1.7h0m14.4-1.8h0m.9 1.9h0m2-.5h0m2.4-1.4h0m1.2-.1h0m-57.3 3.3h0m1.6-.1h0m0 .1h0m6.9-.2h0m8.2.9h0m1.8-1h0m8.8 2h0m1.1-2.8h0m.7 2.5h0m3.6-1.9h0m5.5-.1h0m2.5-.3h0m.5 2h0m1-2.3h0m.1 1.6h0m2.6-.5h0m2.1 1h0m6.9.7h0m-53.3 2.1h0m2.4-.7h0m8.6-1.2h0m.2 2.9h0m11.6-.4h0m5.6-2.5h0m12.4 2.8h0m3-.9h0m.1-.5h0m2.5.7h0m2.2.6h0m1.3-1.1h0m2 .9h0m2.7-2h0m1.6 1.8h0m1.7-.2h0m2.2.2h0m3.3-1.5h0m-65.4 4.8h0m.1-2.3h0m5 .7h0m2.9 1.8h0m4-2.1h0m6.8 1.3h0m2.5-1.5h0m1.1 1.3h0m7.1-1.1h0m2.7 2.1h0m.1-.9h0m5.7-.3h0m0-1.5h0m3.6 1.6h0m.9.1h0m6.2.9h0m.3-.3h0m1.2.6h0m.3-2.9h0m1.7 2.1h0m1.2-1.1h0m1.5-.9h0m4.1.2h0m1.3.6h0m1.9.7h0m.4.3h0m-63 1.5h0m4.1 2.4h0m8.7-1.1h0m3.5-1.1h0m10.3-.2h0m0 0h0m3.8 1.1h0m.8 1h0m1.5-.1h0m.7-1.7h0m4.5-.8h0m3.5 1h0m1.7.9h0m7.5-.7h0m1.2.3h0m2-.2h0m2.2-.2h0m.3.7h0m3.8-1.4h0m-60.6 3.1h0m5.6 1.1h0m1.7 1.4h0m1-1.5h0m6.3.9h0m4.2 0h0m.5.5h0m14-2.8h0m2.5 1.7h0m.5-1.2h0m3.7-.4h0m5.3 2.7h0m4.6-.5h0m.6-1h0m2.6.1h0m2.5-.7h0m5.6-.5h0m2.8 2h0m1.2-1.8h0m-65.9 5h0m0 0h0m.8-.7h0m5.9 1h0m6.8-2.2h0m20.5.3h0m1.2.5h0m5.5-.4h0m.1 0h0m5.4.6h0m1.2-1h0m.4 1h0m.5 1.2h0m.6.1h0m.1-.1h0m3.2-2.5h0m5.1 1h0m7.9.9h0m.6-1.5h0m2-.6h0m1.9 1.3h0m-63.8 3.1h0m1.8-.5h0m3.6.9h0m.5 0h0m1.2-.2h0m8.3-.3h0m4-.3h0m6.9.9h0m.8 0h0m1.3-1.4h0m2.8 0h0m.1 1.4h0m.6-1.7h0m.3 1.6h0m1.1-1.8h0m1.5 2.5h0m.2-1.1h0m7.1 1h0m1.8-1.7h0m5.7.1h0m3.8 0h0m.9.8h0m4.9.7h0m.5.1h0m2.5-2.4h0m1.8 2.8h0m-69.8.8h0m7.6-.3h0m3.2 2.4h0m.5-2.1h0m1.4 1.8h0m8.5-2.3h0m6.8 0h0m1.4.2h0m7.5 1.5h0m7.8 1h0m.8-.3h0m1.9-2.2h0m5.3 1.4h0m3.3-.4h0m3.9 1.2h0m1.1-1.7h0m10.1 1.4h0m-71.7 3h0m4.5.7h0m1-.6h0m3.2-1.4h0m5.3 1.3h0m2.4-2.1h0m1.1 2.1h0m0-.7h0m.1.4h0m.4-.7h0m8.9.1h0m.1.1h0m.5-.1h0m2.6-.4h0m2.6-.9h0m2 1h0m.4-.8h0m4.1-.2h0m.7 0h0m2.9 1h0m.3 1.7h0m.2-.3h0m1.3.5h0m4.8-1.9h0m.1.9h0m2.6.6h0m.5-.8h0m1.6-.5h0m6.1 1.7h0m.8-.9h0m.1.9h0m.2-.4h0m1.6.3h0m4.4-1.9h0m.1 1.7h0m-62.1 3h0m.7-1.1h0m1.4.7h0m5.8-.8h0m1.1-.7h0m6.5-.7h0m.2 0h0m3.3 1.7h0m3.6-1.7h0m1.2 2h0m.3.5h0m6.7-2.6h0m2.5 2.5h0m2.9-1.6h0m5.9 1h0m.1-1h0m.9.4h0m3.5-1.2h0m6.4.1h0m5.6 1h0m2.9.6h0m4.9-1.8h0m-71.2 3.4h0m5.8.7h0m6.7 1.4h0m.7.3h0m3.3-1.2h0m1 0h0m.7 0h0m.4 1h0m0-.9h0m.5-1.1h0m.8 1.9h0m2.6-2.1h0m2.6.1h0m7.3 1.6h0m.8-1.6h0m1.9 2.3h0m.6-1.4h0m1.6-.8h0m.9-.2h0m.4 1.1h0m9.8-1.4h0m.3 2.8h0m1.3 0h0m2.2-1.5h0m7.4-.9h0m.6-.4h0m3.2.3h0m.3 2.4h0m3.7-1.9h0m1.2 1.4h0m-60.7 1.2h0m49.2-.3h0m9.8.1h0m2.2.2h0"/>
<path fill="none" stroke="#f0d8ec" stroke-width="1" stroke-linecap="round" stroke-opacity="0.8" d="M335.3 342.9h0m-4.9 2.7h0m2.2.5h0m.4 3.2h0m-19.5 4.3h0m-.3 9.5h0m16.7-1h0m24.3 4.7h0m-51.4 1.8h0m6.8 1.3h0m23.3-.2h0m-37.8 2.1h0m9 2h0m6.2 7.2h0m13.9 1.9h0m3.5.4h0m9.3 1.8h0m-2.9 1.8h0m-23.5 2.6h0"/>
<path fill="none" stroke="#f0d8ec" stroke-width="2" stroke-linecap="round" stroke-opacity="0.8" d="M320.4 337.9h0m17.7 3.8h0m-40 4.4h0m22-1.6h0m19.5.2h0m-9.8 2.6h0m16.6 8.8h0m-17.6 7.2h0m29.6 14.5h0m-31 8h0m20.8 9.3h0"/>
<g transform="rotate(35 303.3 350.5)"><ellipse cx="303.3" cy="350.5" rx="12.5" ry="8" fill="#d9a6d2" fill-opacity="0.85"/><ellipse cx="303.3" cy="350.5" rx="8" ry="5" fill="none" stroke="#c07ab8" stroke-width="0.8"/><ellipse cx="303.3" cy="350.5" rx="5" ry="3" fill="none" stroke="#c07ab8" stroke-width="0.8"/></g>
<path fill="none" stroke="#6a3a98" stroke-width="2" stroke-linecap="round" stroke-opacity="0.7" d="M297.1 344.6h0m11.9.9h0m-14.2 3.2h0m.8-1.5h0m3.6 1.5h0m6.1-1.9h0m2.2 2.7h0m.4-1.2h0m3.3-.5h0m-10.7 2h0m2.1-.2h0m.9 1.1h0m7.2.4h0m-13.7 1.7h0m6 2.2h0m.1.4h0m0 .1h0m3.9-2.3h0m1.1 2.2h0"/>
<path fill="none" stroke="#6a3a98" stroke-width="1" stroke-linecap="round" stroke-opacity="0.7" d="M306.5 352.1h0m.9-.6h0m-9.9 4.4h0"/>
</g>
<rect x="286.30" y="337.50" width="72.50" height="57.60" fill="none" stroke="#222" stroke-width="1.0" />
<line x1="341.60" y1="384.90" x2="355.20" y2="384.90" stroke="#111" stroke-width="1.0" />
<line x1="341.60" y1="383.70" x2="341.60" y2="386.10" stroke="#111" stroke-width="0.6" />
<line x1="355.20" y1="383.70" x2="355.20" y2="386.10" stroke="#111" stroke-width="0.6" />
<text x="341.5" y="392.9" font-size="6.6" fill="#111" textLength="15.5" lengthAdjust="spacingAndGlyphs" >20µm</text>
<clipPath id="c19"><rect x="363.90" y="337.50" width="73.00" height="57.60"/></clipPath>
<g clip-path="url(#c19)">
<rect x="363.90" y="337.50" width="73.00" height="57.60" fill="#f6f1f6" />
<g fill="#dc98c8"><ellipse cx="370" cy="388" rx="7" ry="6"/><ellipse cx="392" cy="371" rx="5" ry="3"/><ellipse cx="425" cy="373" rx="5" ry="4"/></g>
<path d="M364.6 348.6L370.8 346.3L376.9 344.8L380.0 340.9L385.4 338.6L390.8 339.4L395.4 342.5L400.0 343.2L406.2 340.2L409.2 338.6M380.0 340.9L380.0 337.1M370.8 346.3L369.2 343.2L372.3 340.2L378.5 338.3M398.5 343.2L403.1 347.8L406.2 350.9L410.8 352.5M406.2 350.9L409.2 357.1L410.8 364.8L407.7 370.9L401.5 372.5L396.9 367.8L396.9 363.2L395.4 358.6L387.7 357.1L384.6 360.2M387.7 357.1L383.1 363.2L375.4 366.3L369.2 369.4L363.8 370.9M384.6 360.2L386.2 369.4L390.8 374.0L398.5 375.5L401.5 372.5M390.8 374.0L392.3 380.2L395.4 384.8L396.9 390.9L396.2 394.8M363.8 374.0L369.2 375.5L375.4 378.6L381.5 381.7L386.2 386.3L383.1 392.5L384.6 394.8M363.8 381.7L372.3 384.8L376.9 390.9L372.3 394.8M426.2 343.2L429.2 349.4L430.8 355.5L424.6 360.2L421.5 364.8L418.5 370.9L415.4 377.1L412.3 380.2M421.5 364.8L427.7 366.3L432.3 363.2L436.9 360.2M427.7 366.3L429.2 374.0L424.6 378.6L421.5 383.2M418.5 337.8L421.5 341.7L426.2 343.2L432.3 340.2L436.9 341.7M432.3 340.2L436.9 349.4M412.3 380.2L410.8 386.3L413.1 392.5M398.5 375.5L403.1 380.2L406.2 384.8L410.8 386.3M430.8 355.5L436.9 354.0M383.1 363.2L389.2 364.8L395.4 363.2M369.2 369.4L370.8 374.0M418.5 370.9L424.6 372.5L429.2 374.0M376.9 390.9L383.1 392.5" fill="none" stroke="#d47fbc" stroke-width="2.1" stroke-linejoin="round" stroke-linecap="round"/>
<path fill="none" stroke="#6e3494" stroke-width="2" stroke-linecap="round" stroke-opacity="0.9" d="M373.9 340.1h0m3-.8h0m8.4-.7h0m4.6 1.2h0m2.4 0h0m-23.3 3.7h0m10.4-1.8h0m16.6.3h0m4.9.8h0m3.1-1.2h0m23.9.9h0m2.6-1.6h0m2.5.7h0m1.6-.8h0m-58.5 3.6h0m23.1 0h0m28.4 1.6h0m7.6-.2h0m-69.8 2.6h0m4-1h0m.9-.7h0m31.4.1h0m25.9.5h0m-18.6 4.5h0m21-1.1h0m-22.7 3.3h0m21.4 3.2h0m-44.4 3.4h0m1-.3h0m.7-1.3h0m6.8-.5h0m17.2 1.9h0m15-.6h0m-42.8 4.5h0m28.4-2.2h0m20.9 1.3h0m1.8-.9h0m-61.1 4.8h0m6-1.5h0m18.3.5h0m13.5-.4h0m11.5.4h0m5.7-.8h0m1.1 1.1h0m-64.2 3.7h0m5.8-.1h0m15.6-2.2h0m13.2 1.6h0m20.7-.9h0m-31.3 2.5h0m1.3 1h0m12.1-.5h0m6.2-.3h0m.1-.7h0m10 1.9h0m5.7-1h0m2.1 1.3h0m2.7-.7h0m-37.9 1.6h0m3.9.9h0m3.4 1h0m.5-.1h0m18.5-.8h0m10.4.7h0m-50.8 3.7h0m25.8-.8h0m11.8-.5h0m12.2-.5h0m-62.4 3.9h0m17.7.3h0m11.3.5h0m-8 2.2h0m21-.1h0m-32.3 1.5h0m12.7.4h0m24.9.3h0m.8 1.6h0m-35.6 1.9h0m3.3 1.3h0m17.3-2.1h0m.5 1.9h0m15.6-1h0m-39.2 3.1h0m10.5.7h0"/>
</g>
<rect x="363.90" y="337.50" width="73.00" height="57.60" fill="none" stroke="#222" stroke-width="1.0" />
<line x1="419.70" y1="384.90" x2="433.30" y2="384.90" stroke="#111" stroke-width="1.0" />
<line x1="419.70" y1="383.70" x2="419.70" y2="386.10" stroke="#111" stroke-width="0.6" />
<line x1="433.30" y1="383.70" x2="433.30" y2="386.10" stroke="#111" stroke-width="0.6" />
<text x="419.6" y="392.9" font-size="6.6" fill="#111" textLength="15.5" lengthAdjust="spacingAndGlyphs" >20µm</text>
<clipPath id="c20"><rect x="441.30" y="337.50" width="72.60" height="57.60"/></clipPath>
<g clip-path="url(#c20)">
<rect x="441.30" y="337.50" width="72.60" height="57.60" fill="#dc9ccc" />
<rect x="441.3" y="337.5" width="72.6" height="57.6" filter="url(#tw)" opacity="0.6"/>
<rect x="441.3" y="337.5" width="72.6" height="57.6" filter="url(#tx)" opacity="0.5"/>
<path fill="none" stroke="#e8b8dc" stroke-width="3" stroke-linecap="round" stroke-opacity="0.8" d="M464.6 343.2h0m20.2-.4h0m11.7-.2h0m-30 3.8h0m-8.2 2.2h0m41.2-2h0m4.2 5.8h0m-55.5 4.2h0m47 0h0m-32.3 5h0m42.4 1.5h0m-54.7 5.7h0m58 1.5h0m-49.5 1h0m39.4 2h0m-52.6.4h0m25.1 4.7h0m6.2-1.5h0m19.6 1h0m-33.6 1.9h0m22.5 1.3h0m3.7-.8h0m18.6 0h0m5.7 4.9h0m-66.4 1.1h0m15.9-.4h0m7.6 3.4h0m-2.6 2.9h0m3.9 1.1h0"/>
<path fill="none" stroke="#e8b8dc" stroke-width="4" stroke-linecap="round" stroke-opacity="0.8" d="M498.6 341h0m-47.5 3.7h0m-5.1 5.4h0m55.8 4h0m-26.2 1.6h0m2.7 5.5h0m-36.6 7.6h0m16.8.2h0m-4 2.4h0m11.5-.7h0m-17.5 3.4h0m-.8 4.4h0m20.9 1.2h0m36.9 1h0m7 1.9h0m-2.6 4.8h0m-42.4 4.7h0m10.1 1.2h0"/>
<path fill="none" stroke="#e8b8dc" stroke-width="5" stroke-linecap="round" stroke-opacity="0.8" d="M447.5 340.5h0m28 4h0m12.4 1.6h0m16.8.8h0m-41.7 13.1h0m40.2 2.1h0m-29.4 10.9h0m10.3-.5h0m-1 3.1h0m-40.4 8.1h0"/>
<path fill="none" stroke="#e8b8dc" stroke-width="2" stroke-linecap="round" stroke-opacity="0.8" d="M447.2 348.4h0m37.3-.9h0m1.8.7h0m-6.1 2.5h0m-4.4 14h0m-31.3 4.9h0m1.2 2.1h0m42.9-.2h0m5.6 5h0m13.1-.8h0m-63 4.3h0m4.6-.4h0m.1 2.4h0"/>
<path fill="none" stroke="#7a48a0" stroke-width="2" stroke-linecap="round" stroke-opacity="0.85" d="M466.5 340.2h0m25 0h0m9.7 2.8h0m-57.6 3.3h0m1.7-2.4h0m18 1.4h0m13-1.5h0m.6 1.6h0m2.7-1.4h0m-22.7 4h0m13.8.7h0m4.3-1.2h0m15.9 1.1h0m2.7-1.5h0m2.6-.6h0m8.7 2.7h0m1.3.2h0m3.6-2.2h0m-55.9 3.2h0m54.9 1.5h0m-65.7 2.7h0m16.2-1.9h0m38.5.7h0m-49.9 3.2h0m16.8 1.6h0m47.7-1.4h0m-68.6 3.5h0m56.6.5h0m-41.8 1h0m24.6 1.4h0m-37.8 1.8h0m21.5-.1h0m-8.4 4.1h0m37.7 1.1h0m-50.7 1.7h0m8.4-.3h0m4.1.3h0m33.1 1.6h0m10.8-1.9h0m-31.1 3.3h0m4.7-.4h0m17.9-.5h0m8.9 1.2h0m-36.1 2.2h0m9.6-.6h0m5.8-.1h0m1.3 2.4h0m3.2-1.9h0m11.5 2.3h0m-49 1.1h0m3.3 2h0m12.7-2.9h0m6.2-.1h0m19 1.7h0m10.4-1.3h0m-47.5 2.6h0m17.1 2.9h0m24.3-1.9h0m9.8 1.5h0m-45.2 3.2h0m44.1-.4h0m.2-1.6h0m.7 0h0m-20.2 3.6h0m.8-.9h0m27.6 1.5h0m-56.8 1.8h0m12.1.1h0m18.6-.7h0m6.4 1.2h0m12.8.4h0m-43.9 1.5h0m52.2 0h0"/>
<path fill="none" stroke="#7a48a0" stroke-width="3" stroke-linecap="round" stroke-opacity="0.85" d="M470.2 339.1h0m-18.5 5.1h0m19.7.7h0m-3.5 2.3h0m20.7-.6h0m-32.9 4.6h0m24.5-.9h0m0 1.3h0m22.4 1.2h0m3.6.7h0m-52.4 2.4h0m11.6.1h0m4.7.6h0m22.1.3h0m17.9-.8h0m1.2 2.2h0m-66.5 3h0m45.9-.4h0m16.8 3.3h0m-62.7 1.7h0m39.3 1.3h0m10-1.5h0m-26.8 2.5h0m21.7.9h0m3.3-.2h0m1.8.3h0m16.5 1h0m-19 1.4h0m-47.8 8.9h0m27.5.7h0m-28.4 1.4h0m39.2 2.2h0m-38.1 5.3h0m16.3 1h0m-16.2 3h0m2.7-2.5h0m39 1.7h0"/>
<path fill="none" stroke="#64378e" stroke-width="2" stroke-linecap="round" stroke-opacity="0.85" d="M456.6 353.5h0m3.1 1.8h0m3.4-.9h0m2-.7h0m.6.8h0m3.9.3h0m3.4.3h0m1.2 0h0m1.1.4h0m1.3-.9h0m-18.3 3h0m2.4-1.5h0m2.1.1h0m6.1.3h0m.8.6h0m3-.3h0m-10.3 2.5h0m1.3 1h0m10.1-.7h0m3.7-.6h0m-19.2 3.2h0m9.4 1.1h0m3.8-1.1h0m3.4.6h0m.2-.4h0m-19.8 3.9h0m.3.5h0m3.5-2h0m.9-.2h0m1.8 2.2h0m.7.1h0m1.1-1.1h0m5.5-.8h0m.6.6h0m.3.3h0m1.8-.9h0m4.9 1.7h0m-21.1 1.5h0m6.9 1.9h0m1.2-.1h0m1.5-2.1h0m.5-.3h0m.2 1.7h0m3.3 0h0m.5.1h0m2.8.3h0m.7-.4h0m-14 3.6h0m4.9.2h0m1.3-1.1h0m.1 1.5h0m2.4-1.8h0m.4-.5h0m2.1.5h0m1.2 1.3h0m1.4.1h0m-14.6 1.1h0m1.1 1.3h0m.7-.7h0m.5 1h0m3.5-.3h0m1.4-1.3h0m1.5 1.9h0m1.7-2h0m1.3.8h0m2.4 0h0m2.5-.2h0m1.6 1.5h0m-18.5 1.1h0m.5 1.2h0m.6.4h0m1.6.3h0m.7.2h0m3.4-1.9h0m7.5 1.5h0m.5-1.7h0m4.4.7h0m.7-.7h0m-14 2.3h0m10.6.4h0"/>
<path fill="none" stroke="#64378e" stroke-width="3" stroke-linecap="round" stroke-opacity="0.85" d="M459.6 354.3h0m3.6-.9h0m2.9.9h0m-6.7 2.9h0m-.3 8.8h0m4.8-.8h0m-4.6 2.4h0m8.1 1.5h0m-8.2 2.5h0m5.1 1.4h0"/>
</g>
<rect x="441.30" y="337.50" width="72.60" height="57.60" fill="none" stroke="#222" stroke-width="1.0" />
<line x1="496.70" y1="384.90" x2="510.30" y2="384.90" stroke="#111" stroke-width="1.0" />
<line x1="496.70" y1="383.70" x2="496.70" y2="386.10" stroke="#111" stroke-width="0.6" />
<line x1="510.30" y1="383.70" x2="510.30" y2="386.10" stroke="#111" stroke-width="0.6" />
<text x="496.6" y="392.9" font-size="6.6" fill="#111" textLength="15.5" lengthAdjust="spacingAndGlyphs" >20µm</text>
<clipPath id="c21"><rect x="28.50" y="435.50" width="47.50" height="48.00"/></clipPath>
<g clip-path="url(#c21)">
<path fill="none" stroke="#2e4aa9" stroke-width=".8" stroke-opacity="0.85" d="M57.6 436.1h.8m.2 0h.8m-6.6.9h.8m3.1 0h.8m3 .1h.8m1.3 0h.8m-2.8.9h.8m10.4.1h.8m-23.9 1.1h.8m.1-.1h.8m3.4-.1h.8m2-.1h.8m.1.2h.8m3.3 0h.8m3.1-.1h.8m4.3.2h.8m-23.8 1h.8m.3 0h.8m1.1-.1h.8m2.3-.1h.8m1.1.1h.8m.1.1h.8m6.3-.1h.8m2.3-.1h.8m-21 1h.8m.3.1h.8m5.3 0h.8m2.1.1h.8m11.3-.2h.8m.2 0h.8m.1-.1h.8m-22.9 1.3h.8m3.3-.3h.8m14.3.1h.8m-23.7 1.1h.8m-.1-.1h.8m1.3.2h.8m-8.7.9h.8m3.2-.1h.8m27.1.1h.8m1.4-.1h.8m-32.9 1h.8m1.2.2h.8m25.2-.1h.8m-31.9.9h.8m1.3.1h.8m3-.1h.8m25.2.1h.8m.5.1h.8m.9 0h.8m-32.7 1h.8m.1-.1h.8m28.4-.1h.8m-36.8.9h.8m4.3.2h.8m29-.1h.8m1.3 0h.8m-40.8 2.2h.8m36.2 0h.8m2.2-.2h.8m-42.8 1.1h.8m1.1 0h.8m3.3-.1h.8m33 .2h.8m-1.6.8h.8m2.2.1h.8m2-.1h.8m-42.7 2.1h.8m36.4-.1h.8m4.1 1.2h.8m-5.9 1.8h.8m2.4.1h.8m-44 1.1h.8m41.4 0h.8m-2.9.9h.8m.2-.1h.8m-42.7 1.2h.8m43 0h.8m-44.9.8h.8m40.5 0h.8m2.1 2.2h.8m1.1-.1h.8m-46.8 1.1h.8m45.1 0h.8m-5.5.8h.8m0 0h.8m-43.6 1h.8m42.1.2h.8m.1 0h.8m-.9 1.8h.8m.4.9h.8m-44.9 1.2h.8m42.1-.1h.8m.2.2h.8m-2.7 1.9h.8m-42.8.9h.8m40.2 1h.8m.3.1h.8m1-.1h.8m-2.6 1.1h.8m-43.9 1.1h.8m42.2-.2h.8m3.3.1h.8m-46.8 1.1h.8m43.1-.1h.8m-2.7.9h.8m1.2.2h.8m-.9 1h.8m-44.8.7h.8m42.4 1.1h.8m.2.1h.8m-45 .9h.8m42.3.1h.8m.3.1h.8"/>
<path d="M61.5 438h1m3 0h1m-12 1h1m3 0h1m1 0h1m1 0h3m1 0h1m-13 1h1m2 0h2m2 0h2m1 0h2m2 0h1m-20 1h1m1 0h2m2 0h1m1 0h11m-19 1h3m1 0h14m1 0h3m-22 1h22m-27 1h1m2 0h22m-24 1h24m1 0h1m-30 1h1m1 0h1m1 0h23m1 0h1m-30 1h1m2 0h28m-34 1h3m1 0h29m-33 1h1m1 0h31m-32 1h31m1 0h1m-36 1h1m1 0h2m1 0h30m1 0h1m-39 1h1m1 0h34m1 0h1m-39 1h3m1 0h34m-36 1h36m1 0h1m-39 1h38m-40 1h40m-40 1h38m2 0h1m-41 1h40m-41 1h40m-40 1h40m-40 1h40m1 0h1m-44 1h1m1 0h42m-43 1h42m-43 1h1m1 0h42m-43 1h41m-41 1h42m-43 1h44m-44 1h1m1 0h42m-43 1h44m-43 1h40m1 0h1m-44 1h41m1 0h3m-44 1h42m-43 1h1m1 0h40m1 0h1m-44 1h42m-41 1h40m-40 1h42m-43 1h1m1 0h40m1 0h1m-44 1h43m1 0h1m-45 1h44m-42 1h41m-43 1h42m1 0h1m-42 1h42m-44 1h45" stroke="#2b46a7" stroke-width="1.02" fill="none"/>
<path d="M61.5 441h1m-2 1h3m-4 1h4m-4 1h5m-6 1h6m-6 1h7m-8 1h8m-8 1h8m-21 1h5m8 0h8m-21 1h6m7 0h8m-22 1h7m7 0h8m-23 1h9m6 0h8m-23 1h9m7 0h7m-23 1h10m5 0h8m-24 1h11m5 0h8m-24 1h11m5 0h8m-24 1h11m5 0h8m-24 1h11m5 0h8m-24 1h11m5 0h8m-24 1h11m6 0h7m-24 1h12m5 0h6m-23 1h12m6 0h5m-23 1h11m7 0h4m-22 1h11m8 0h3m-22 1h11m9 0h1m-21 1h11m-11 1h11m-11 1h11m-10 1h10m-10 1h9m8 0h5m-22 1h9m7 0h7m-22 1h7m7 0h8m-22 1h7m2 0h14m-24 1h24m-25 1h25m-25 1h25m-25 1h25m-25 1h25m-25 1h25m-25 1h15m1 0h9m-25 1h13m3 0h8m-24 1h11m6 0h7m-23 1h9m8 0h5" stroke="#2f62bf" stroke-width="1.02" fill="none"/>
<path d="M60.5 445h3m-4 1h5m-6 1h6m-6 1h6m-6 1h7m-7 1h7m-19 1h1m11 0h6m-19 1h4m9 0h6m-20 1h5m10 0h5m-21 1h7m8 0h6m-21 1h7m8 0h6m-21 1h8m7 0h7m-23 1h9m7 0h7m-23 1h9m7 0h6m-22 1h9m7 0h6m-22 1h9m8 0h5m-22 1h9m9 0h3m-21 1h9m-9 1h9m-9 1h9m-9 1h9m-9 1h9m-8 1h8m-8 1h7m-7 1h7m-6 1h5m-5 1h5m11 0h2m-17 1h4m10 0h5m-19 1h3m10 0h6m-20 1h5m5 0h3m1 0h7m-22 1h7m3 0h12m-22 1h7m3 0h12m-23 1h9m1 0h1m1 0h11m-23 1h12m4 0h7m-23 1h9m1 0h1m5 0h7m-23 1h9m7 0h6m-21 1h7m9 0h5m-21 1h7m10 0h2m-18 1h5" stroke="#2fb2e2" stroke-width="1.02" fill="none"/>
<path d="M60.5 446h3m-4 1h5m-5 1h5m-5 1h5m-5 1h5m-5 1h5m-5 1h5m-18 1h1m12 0h4m-18 1h4m10 0h5m-20 1h5m10 0h5m-20 1h6m9 0h5m-21 1h7m9 0h5m-21 1h7m9 0h5m-21 1h7m9 0h5m-21 1h7m10 0h3m-20 1h7m-7 1h7m-7 1h7m-7 1h7m-7 1h7m-7 1h7m-6 1h6m-6 1h5m-4 1h4m-3 1h2m-2 1h1m13 1h2m-3 1h4m-4 1h5m-20 1h5m9 0h6m-20 1h5m9 0h7m-22 1h7m8 0h7m-22 1h7m8 0h6m-21 1h7m9 0h5m-21 1h7m9 0h4m-19 1h5m11 0h2m-18 1h5" stroke="#52c6b0" stroke-width="1.02" fill="none"/>
<path d="M60.5 447h3m-4 1h4m-4 1h5m-5 1h5m-5 1h4m-3 1h3m-3 1h2m-2 1h3m-18 1h3m11 0h4m-18 1h4m10 0h5m-20 1h5m10 0h5m-20 1h5m10 0h4m-19 1h6m10 0h3m-19 1h6m-7 1h7m-7 1h7m-6 1h6m-6 1h6m-6 1h5m-5 1h5m-4 1h4m-4 1h3m12 5h2m-3 1h4m-4 1h5m-19 1h3m11 0h5m-20 1h5m10 0h5m-20 1h5m10 0h5m-20 1h5m10 0h4m-19 1h5m11 0h2m-17 1h3" stroke="#8ccd52" stroke-width="1.02" fill="none"/>
<path d="M61.5 447h1m-2 1h3m-3 1h3m-3 1h3m-3 1h3m-2 1h1m-1 2h1m-2 1h3m-3 1h3m-18 1h3m12 0h3m-18 1h3m12 0h3m-19 1h5m12 0h1m-18 1h5m-5 1h5m-5 1h5m-5 1h5m-5 1h5m-4 1h3m-3 1h3m12 8h2m-2 1h3m-4 1h4m-18 1h3m11 0h4m-18 1h3m12 0h3m-18 1h3m12 0h2m-17 1h3" stroke="#c6da3c" stroke-width="1.02" fill="none"/>
<path d="M61.5 448h1m-2 1h2m-2 1h2m-1 1h1m-1 4h1m-2 1h2m-2 1h2m-16 1h1m14 0h1m-17 1h3m-3 1h3m-3 1h3m-3 1h3m-3 1h3m-3 1h3m-2 1h1m13 10h2m-2 1h3m-3 1h3m-17 1h1m13 0h2m-16 1h1" stroke="#f2e42c" stroke-width="1.02" fill="none"/>
</g>
<rect x="28.50" y="435.50" width="47.50" height="48.00" fill="none" stroke="#a0a0a0" stroke-width="0.8" />
<rect x="34.40" y="447.70" width="19.90" height="24.50" fill="none" stroke="#1c2550" stroke-width="0.5" />
<clipPath id="c22"><rect x="88.50" y="435.50" width="47.50" height="48.50"/></clipPath>
<g clip-path="url(#c22)">
<path fill="none" stroke="#2e4aa9" stroke-width=".8" stroke-opacity="0.85" d="M96.7 439h.8m1.2 0h.8m-8.8 1h.8m6.1 1h.8m13.2 0h.8m5.4 0h.8m-23.8 1.1h.8m4.1.1h.8m8 0h.8m-3.7 1h.8m1.2-.2h.8m3.3 1h.8m-13.7 1h.8m-9 1.1h.8m.3 0h.8m3.1-.1h.8m17.2 0h.8m-24.6 1.2h.8m4.1-.1h.8m1.1.1h.8m4.3-.1h.8m.1 0h.8m.4 0h.8m3.9-.2h.8m2.4.2h.8m6 .1h.8m-22.7 1h.8m3.3-.2h.8m1 .2h.8m1.5 0h.8m.1-.1h.8m.1 0h.8m5.2 0h.8m-24.8 1h.8m3.2 0h.8m.2-.1h.8m.3.2h.8m4-.1h.8m6.2 0h.8m1.3 0h.8m2.4-.1h.8m-23 1h.8m1.2 0h.8m4.3.1h.8m.3.1h.8m.1-.1h.8m0 .1h.8m.2 0h.8m1.5-.1h.8m-.1 0h.8m2.2-.1h.8m.3 0h.8m4.4-.1h.8m.1.1h.8m4.1 0h.8m-26.7 1.1h.8m1.3.1h.8m1.1-.2h.8m0 .2h.8m.3-.1h.8m1.3.1h.8m2.1-.1h.8m1.3-.1h.8m1.2 0h.8m1.1 0h.8m.1 0h.8m3.2.1h.8m.3.1h.8m4.3-.1h.8m-31.7.9h.8m.9 0h.8m.4.1h.8m3.3 0h.8m-.1-.1h.8m.3 0h.8m2.3.2h.8m2.1-.2h.8m1.2 0h.8m1.3.1h.8m.1 0h.8m6.2-.1h.8m-25.6 1.2h.8m2.1-.2h.8m.3.1h.8m-.1-.1h.8m.4.1h.8m.2-.1h.8m16 0h.8m-25.7 1.2h.8m3.3-.2h.8m.1.2h.8m.2-.2h.8m9.2.2h.8m1.3-.1h.8m.2 0h.8m.3-.1h.8m.1 0h.8m1 .1h.8m1.5.1h.8m.2-.2h.8m-25.8 1.2h.8m0 0h.8m.3-.2h.8m.3 0h.8m1 .2h.8m2.3-.1h.8m11.2-.2h.8m0 .1h.8m-21.7 1h.8m1.4-.1h.8m.1.1h.8m1.1.2h.8m11.3-.3h.8m2 .1h.8m.3 0h.8m.2.1h.8m2.3.1h.8m.1-.2h.8m4.3.2h.8m-32.9 1h.8m1.3-.2h.8m0 .1h.8m2.4-.1h.8m1.1 0h.8m10.2.1h.8m12.3 0h.8m-34.9.9h.8m.2.2h.8m25.2-.2h.8m1.2.2h.8m-29.9.9h.8m.4-.1h.8m0 .1h.8m5.2-.2h.8m19.3.1h.8m2.2.1h.8m2.2-.1h.8m-34.7 1.2h.8m.1 0h.8m.2-.1h.8m1.3-.2h.8m6.1.3h.8m8.3-.2h.8m1.3.2h.8m1.1 0h.8m1.1-.1h.8m-26.6.9h.8m-.1.1h.8m8.3-.1h.8m10.1.2h.8m.3 0h.8m1.2-.2h.8m3.4.2h.8m4.1 0h.8m6.1-.1h.8m-38.9 1.1h.8m7.4-.3h.8m6.1 0h.8m1.1.1h.8m9.4 0h.8m-28.7.9h.8m.9.3h.8m7.5-.1h.8m8.1 0h.8m.2-.1h.8m2 .1h.8m.5.1h.8m.2 0h.8m-25.9 1h.8m8-.2h.8m6.2.1h.8m1.5.1h.8m2-.1h.8m.2.1h.8m3.3 0h.8m2.2 0h.8m-31 .8h.8m.3.2h.8m12.3-.2h.8m.2.2h.8m.1 0h.8m3.3 0h.8m2.2 0h.8m.3-.1h.8m2.9-.1h.8m.3.2h.8m.1-.2h.8m-29.5 1h.8m.9.2h.8m13.3-.2h.8m1.2.1h.8m3.3.1h.8m.1-.1h.8m1.2.1h.8m10.4-.3h.8m-35.8 1.3h.8m16.1-.2h.8m.3.2h.8m2.9-.3h.8m3.3.2h.8m1.3-.1h.8m1.3.1h.8m-10 .9h.8m.4.2h.8m.1-.1h.8m.2-.1h.8m4.2-.1h.8m2.3.2h.8m-12.9.9h.8m3.1 0h.8m6.1-.1h.8m-9.7 1.2h.8m.2 0h.8m2.3.1h.8m2-.2h.8m5.4.1h.8m4.2-.2h.8m-20.7 1.2h.8m0 .1h.8m.2-.2h.8m3.3.2h.8m2.3-.2h.8m4.1 0h.8m-11.8 1h.8m2.1.1h.8m8.3.1h.8m-11.7.9h.8m0-.1h.8m.2 0h.8m3.3.1h.8m-4.9.9h.8m2.2-.1h.8m8.3.3h.8m-13.9 1h.8m6.3 0h.8m-8.8.8h.8m4.1 0h.8m6.3-.1h.8m-8.7 1.1h.8m.1.1h.8m7-.1h.8m-13.6 1h.8m2.1 0h.8m.4.1h.8m0 0h.8m1.3-.1h.8m1.2.2h.8m-7.7 1h.8m0-.3h.8m.2.2h.8m1.3.1h.8m-6.8 1h.8m2.2-.2h.8m2.2.2h.8m1.2 0h.8m4-.1h.8m-8.6.9h.8m.2 0h.8m.2 0h.8m.2.2h.8m.2-.1h.8m2.2-.1h.8m-7.8 1h.8m-3.8 1.2h.8m12.1-.2h.8"/>
<path fill="none" stroke="#4a62bc" stroke-width=".7" stroke-opacity="0.5" d="M114.5 450.4h.7m18.2.3h.7m-22.1.3h.7m.9.2h.7m3.4 0h.7m2.9 0h.7m.4.1h.7m-.7-.4h.7m.4.7h.7m.7.1h.7m3.2-.3h.7m.6.3h.7m.4.1h.7m.1-.4h.7m-.3-.5h.7m1.9.8h.7m-21.6.2h.7m.3.7h.7m-.2.1h.7m3.3-.2h.7m-.5-.5h.7m12.7.2h.7m.2.5h.7m-.4-.6h.7m-22.2 1.5h.7m.5-.1h.7m.3 0h.7m3.8-.1h.7m1-.2h.7m.5 0h.7m3.5-.3h.7m4.3.1h.7m-17.1 1.4h.7m5.3-.5h.7m.1.2h.7m.7.1h.7m-.6-.3h.7m1.6.2h.7m1-.2h.7m1.4.3h.7m1.8.3h.7m2.9-.2h.7m-24.4 1h.7m.5.2h.7m.1.2h.7m7.7.1h.7m-.5-.6h.7m0 .6h.7m.4-.3h.7m.8-.1h.7m5.2.3h.7m1.5-.8h.7m-.1.5h.7m-22.5 1h.7m.9-.5h.7m.8.8h.7m.4-.4h.7m-.2-.4h.7m.2.8h.7m1.1-.6h.7m6.1 0h.7m1.9.6h.7m.9-.8h.7m3.9 0h.7m-22.3 1.4h.7m3.3.3h.7m2.6 0h.7m2 .2h.7m.5-.2h.7m-.4.2h.7m3.2-.7h.7m1.9-.1h.7m-20.6 1h.7m-.4.2h.7m2.4-.3h.7m5.8.3h.7m.9.3h.7m1.3-.1h.7m-.4.2h.7m.4-.3h.7m3.5-.1h.7m.3.3h.7m.6-.6h.7m-15.7 1.4h.7m2.7-.4h.7m1.4.8h.7m2-.2h.7m-15.3 1.2h.7m6.2-.4h.7m4.1.4h.7m3.5-.7h.7m2.8.7h.7m-19.2 1h.7m.7-.7h.7m2.5.1h.7m4.9.7h.7m4-.5h.7m3.5.2h.7m.8-.1h.7m-22.2.7h.7m-.2-.2h.7m2.9.6h.7m6.6.2h.7m2.2.1h.7m.8-.6h.7m1.6-.3h.7m3 .1h.7m0-.1h.7m-.7.5h.7m-22.2.9h.7m3.5.4h.7m.3-.7h.7m0 .8h.7m.5-.5h.7m.6-.4h.7m5 .8h.7m-.6-.7h.7m-15.9.9h.7m1.1.8h.7m-2.5 1h.7m-.4-.2h.7m2.9.3h.7m0-.4h.7m1.4 0h.7m3.2 0h.7m.3.3h.7m1.4 0h.7m-6.4.2h.7m5.2.6h.7m7 .1h.7m.8-.4h.7m-22.2 1h.7m.3 0h.7m1.9.4h.7m5 .2h.7m3.1 0h.7m-13.5.6h.7m.5.1h.7m2.1-.3h.7m-.2-.2h.7m-.4.4h.7m3.5.3h.7m.5.1h.7m2.8-.6h.7m.3.4h.7m-.5.2h.7m6.1-.9h.7m-22.7 1.4h.7m3.6-.2h.7m13.2.2h.7m1.7-.2h.7m-21.5 1.6h.7m4.4-.8h.7m3 .7h.7m1.4-.1h.7m2.6-.6h.7m-8.9 1h.7m5.7.8h.7m2.1-.7h.7m.4 0h.7m-18.3 1.8h.7m7.4-.7h.7m.6.3h.7m0 .4h.7m-.6-.7h.7m2.8.5h.7m4.5-.6h.7m2.8 0h.7m-21.2 1.3h.7m1.1.4h.7m6-.5h.7m1.1 0h.7m.6-.3h.7m2.6.9h.7m-.4-.5h.7m1.5.1h.7m-14.6 1h.7m3.8 0h.7m.1-.5h.7m.6.7h.7m-.6-.2h.7m.3-.1h.7m1 .2h.7m.5-.5h.7m-.2.7h.7m3.5-.1h.7m.1-.6h.7m-15.3 1.5h.7m.4.1h.7m.1-.5h.7m-.5 0h.7m1 .6h.7m-.2 0h.7m2.6-.5h.7m3.3.4h.7m-16.1.7h.7m-.4.3h.7m2.9 0h.7m2.1 0h.7m-.3-.3h.7m.8.3h.7m1.2-.6h.7m4 .4h.7m.6.3h.7m2.3 0h.7m-17.9.7h.7m1.3.4h.7m-.2-.9h.7m-.2.7h.7m-.1 0h.7m-.3-.6h.7m-.6.2h.7m-.3.5h.7m1.6-.7h.7m-.3-.1h.7m2.2.4h.7m.2-.3h.7m1.7.6h.7m3.8-.1h.7m-23 .8h.7m.6-.1h.7m3.5.3h.7m1.1-.4h.7m4.3-.1h.7m2.9.3h.7m2-.3h.7m0 .5h.7m.9-.1h.7m-19 .8h.7m7.1.6h.7m-.4-.9h.7m1 .1h.7m6.7.6h.7m-.3-.5h.7m-15.8 1.6h.7m2-.7h.7m.9.2h.7m1.4.3h.7m-.4.2h.7m7.2-.2h.7m2-.5h.7m-17.5 1.6h.7m-.5-.6h.7m7.3.7h.7m1.4-.5h.7m4 .1h.7m-22.3.6h.7m12.4.7h.7m4.9-.3h.7m-15.4.6h.7m1.1 0h.7m1.2.7h.7m1.3-.4h.7m-.2.2h.7m-.4-.2h.7m11.4 0h.7m-22.1.9h.7m7.1-.1h.7m5.4-.1h.7m3.1.2h.7"/>
<path fill="none" stroke="#7f90cc" stroke-width=".7" stroke-opacity="0.45" d="M123.7 441.5h.7m8.2-.3h.7m2.3.3h.7m-1.4 1.1h.7m-6.4.4h.7m-9.8.9h.7m3.6.9h.7m-.6 0h.7m8.9-.8h.7m-14.4 1.4h.7m8.7-.1h.7m.2-.2h.7m-4.5 1h.7m-4 1.2h.7m6.6.4h.7m-1.6 2.9h.7m3.4-.6h.7m-10.6 1.5h.7m2 .7h.7m.7-.3h.7m-.4.7h.7m-6.7.7h.7m1.6-.4h.7m.1 1.3h.7m7.2.6h.7m.9-.5h.7m-14.3 1.4h.7m-.3-.8h.7m3.4.3h.7m1.7.5h.7m3.6-.2h.7m-4.2.6h.7m-.5.5h.7m-5 1.2h.7m1.4-.7h.7m1.6.1h.7m-6.1 2.2h.7m7-.5h.7m-2.9 1.6h.7m-2.7 1h.7m.8-.6h.7m4.2 0h.7m.2 1.6h.7m-10 1.9h.7m4.5-.1h.7m-3.8 1.5h.7m.5-.3h.7m1 .2h.7m.5.1h.7m-3.4 1.7h.7m-2.5.7h.7m1.2.2h.7m2.5-.5h.7m-7.9 1.6h.7m9.6-.2h.7m-8.1.7h.7m2.6-.1h.7m-8.2 1.4h.7m-.2.5h.7m9.1-.4h.7m-14.8 1.3h.7m11.5-.8h.7m-6.8 1.8h.7m4.3-.6h.7m2.6 0h.7m-3.5 1.4h.7m2.1.1h.7m-6.4.4h.7m-9.3 1h.7m6.8 2.5h.7m4.6.6h.7m-9.8.8h.7m4.3.8h.7m-2.1 2.1h.7m.3-.9h.7m6 .1h.7m-.2.8h.7m-13.5.3h.7m12 .2h.7m-14.6 1h.7"/>
<path d="M104.5 450h1m-6 1h1m2 0h1m3 0h1m-5 1h2m1 0h1m1 0h1m-8 1h10m-13 1h9m1 0h1m-11 1h2m1 0h11m-16 1h1m1 0h11m2 0h1m-16 1h1m1 0h1m1 0h10m1 0h3m-23 1h2m1 0h1m2 0h16m-21 1h5m2 0h15m-22 1h1m1 0h6m1 0h8m1 0h1m1 0h1m-22 1h8m1 0h10m-21 1h2m1 0h7m2 0h5m1 0h1m1 0h3m-21 1h1m1 0h7m2 0h7m-20 1h1m1 0h8m1 0h4m1 0h1m1 0h1m2 0h1m-19 1h5m1 0h5m3 0h1m-18 1h1m1 0h1m1 0h13m1 0h1m-19 1h2m1 0h16m3 0h1m-23 1h23m-23 1h21m2 0h1m-24 1h24m2 0h1m-27 1h22m5 0h1m-28 1h24m2 0h2m-28 1h25m-25 1h27m-27 1h26m3 0h1m-30 1h26m1 0h2m-29 1h28m-28 1h26m-26 1h26m1 0h1m-28 1h26m1 0h1m-28 1h27m1 0h1m-29 1h28m-28 1h28m2 0h1" stroke="#2b46a7" stroke-width="1.02" fill="none"/>
<path d="M97.5 468h7m-9 1h11m-12 1h13m-14 1h15m-16 1h17m-17 1h17m-17 1h17m-17 1h17m-16 1h15m-14 1h13m-12 1h11m-9 1h7" stroke="#2f62bf" stroke-width="1.02" fill="none"/>
<path d="M97.5 470h7m-8 1h9m-10 1h11m-11 1h11m-11 1h11m-11 1h11m-10 1h9m-8 1h7" stroke="#2fb2e2" stroke-width="1.02" fill="none"/>
<path d="M99.5 471h3m-5 1h7m-7 1h7m-7 1h7m-7 1h7m-5 1h3" stroke="#52c6b0" stroke-width="1.02" fill="none"/>
<path d="M99.5 473h3m-3 1h3" stroke="#8ccd52" stroke-width="1.02" fill="none"/>
</g>
<rect x="88.50" y="435.50" width="47.50" height="48.50" fill="none" stroke="#a0a0a0" stroke-width="0.8" />
<rect x="110.50" y="448.50" width="19.00" height="14.50" fill="none" stroke="#707070" stroke-width="0.6" />
<clipPath id="c23"><rect x="28.20" y="491.90" width="48.70" height="48.50"/></clipPath>
<g clip-path="url(#c23)">
<path fill="none" stroke="#2e4aa9" stroke-width=".8" stroke-opacity="0.85" d="M51.3 492.4h.8m14.3.1h.8m.2 0h.8m-2.8 2h.8m.2.1h.8m.2-.2h.8m-10 1.1h.8m.3-.1h.8m7.2.1h.8m1.3-.1h.8m.2.1h.8m1.3 0h.8m-16.9 1.1h.8m1.2-.2h.8m2.1-.1h.8m.3.3h.8m2.2 0h.8m2.2-.2h.8m1.3.2h.8m0-.2h.8m.2.2h.8m.3-.1h.8m-15.9.8h.8m3.4.3h.8m7.1-.3h.8m.1.1h.8m2.1.1h.8m-16.7 1.1h.8m.2-.1h.8m3.4-.2h.8m5.9.1h.8m.3.1h.8m1.3 0h.8m-24 1h.8m.2 0h.8m-2.6 1.1h.8m.2-.2h.8m3.1 0h.8m1.1.1h.8m13.3 0h.8m-28.7 1h.8m2.2 0h.8m1.3 0h.8m4.2-.1h.8m2.9.1h.8m15.2-.1h.8m.2.2h.8m-30.7.8h.8m-3.8 1h.8m2.2.1h.8m3.2-.2h.8m.2.2h.8m24.2-.1h.8m.2.2h.8m-41.9 1h.8m1.5-.2h.8m6.1.1h.8m2.2.1h.8m-10 .9h.8m35.4 0h.8m-36.9 1.1h.8m2.2-.1h.8m32.4 0h.8m.1 0h.8m-40.7 1.9h.8m4.1.1h.8m34.2.1h.8m-41.8 1h.8m1.2-.2h.8m-2.7 2.1h.8m-.9 1h.8m41.2.1h.8m-43.7.8h.8m0 .2h.8m41.2.8h.8m.3 0h.8m-47.9 1.1h.8m1.3-.1h.8m42.2.2h.8m.2-.1h.8m-.7 1h.8m.2 2.9h.8m-46.9 3.1h.8m45.2-.2h.8m-2.7 1.3h.8m1.1-.2h.8m-2.9 1h.8m-45.9 1h.8m44.4.2h.8m1.1-.2h.8m-1.6 1.9h.8m.1.1h.8m-47.9 1h.8m45.1.2h.8m1.4.9h.8m-48.8 1h.8m.2 1.9h.8m45.1 0h.8m-47.7 1.2h.8m44-.2h.8m1.4 1h.8m0 0h.8m-1.6 1h.8m-2.9 2h.8m1.1-.1h.8m-47.6 1.3h.8m-1 .8h.8"/>
<path d="M66.2 495.4h1m-7 1h1m2 0h1m2 0h1m2 0h1m-9 1h1m1 0h3m1 0h3m-14 1h2m3 0h2m1 0h6m-18 1h2m1 0h18m-22 1h3m1 0h1m2 0h12m3 0h1m-28 1h1m1 0h2m3 0h3m1 0h15m-25 1h5m1 0h19m-27 1h2m2 0h24m-32 1h1m1 0h2m1 0h27m-33 1h2m1 0h29m-32 1h31m-34 1h37m-35 1h34m-40 1h1m1 0h40m-44 1h1m1 0h1m2 0h36m1 0h1m-41 1h40m-40 1h41m-41 1h42m-44 1h1m1 0h41m-45 1h1m1 0h42m-44 1h44m-44 1h1m1 0h43m-46 1h45m-45 1h45m-45 1h45m1 0h1m-46 1h44m1 0h1m-45 1h45m-47 1h45m-44 1h44m1 0h1m-46 1h44m-45 1h48m-48 1h44m-43 1h45m1 0h1m-48 1h47m-46 1h44m1 0h1m-47 1h46m-44 1h45m-46 1h44m2 0h1m-47 1h46m-47 1h44m1 0h2m-47 1h1m1 0h44m-46 1h45m1 0h1m-46 1h46m-46 1h46" stroke="#2b46a7" stroke-width="1.02" fill="none"/>
<path d="M62.2 501.4h2m-3 1h4m-4 1h4m-4 1h3m-20 1h3m14 0h3m-21 1h6m12 0h3m-22 1h8m11 0h3m-23 1h9m11 0h3m-23 1h10m10 0h3m-23 1h10m10 0h3m-24 1h11m10 0h3m-24 1h12m9 0h3m-24 1h12m9 0h3m-24 1h12m10 0h2m-24 1h12m10 0h2m-24 1h12m10 0h1m-23 1h12m-12 1h12m-12 1h12m-12 1h12m-12 1h11m-10 1h10m-10 1h10m-10 1h9m-8 1h8m-8 1h8m-8 1h7m-6 1h6m-5 1h4m-5 1h6m9 0h3m-19 1h8m4 0h11m-24 1h10m1 0h14m-25 1h26m-27 1h28m-28 1h28m-28 1h28m-27 1h26m-26 1h25m-24 1h8m3 0h12" stroke="#2f62bf" stroke-width="1.02" fill="none"/>
<path d="M62.2 502.4h2m-2 1h2m-2 2h1m-1 1h1m-1 1h2m-20 1h4m14 0h2m-21 1h6m13 0h2m-22 1h7m13 0h2m-22 1h8m12 0h1m-22 1h9m12 0h1m-22 1h9m-9 1h9m-9 1h10m-10 1h10m-10 1h10m-10 1h10m-10 1h9m-9 1h9m-8 1h8m-8 1h7m-6 1h6m-6 1h5m-4 1h4m-4 1h4m-3 1h2m-3 4h3m-4 1h6m7 0h7m-21 1h7m5 0h10m-22 1h8m2 0h13m-23 1h8m1 0h15m-24 1h8m1 0h14m-23 1h7m3 0h13m-22 1h6m6 0h8m-19 1h4" stroke="#2fb2e2" stroke-width="1.02" fill="none"/>
<path d="M45.2 509.4h2m-4 1h5m-5 1h6m-7 1h7m-7 1h7m-7 1h8m-8 1h8m-8 1h8m-8 1h8m-8 1h8m-8 1h7m-7 1h7m-6 1h6m-6 1h5m-4 1h3m-2 1h2m-2 8h2m-3 1h4m8 0h6m-19 1h6m6 0h8m-20 1h6m6 0h9m-21 1h6m6 0h9m-21 1h5m8 0h7m-19 1h3" stroke="#52c6b0" stroke-width="1.02" fill="none"/>
<path d="M44.2 511.4h4m-5 1h5m-5 1h6m-6 1h6m-6 1h6m-6 1h6m-6 1h6m-6 1h6m-6 1h6m-6 1h5m-4 1h4m-3 1h2m-3 12h3m10 0h4m-17 1h4m9 0h5m-18 1h4m9 0h5m-17 1h2" stroke="#8ccd52" stroke-width="1.02" fill="none"/>
<path d="M45.2 512.4h2m-3 1h4m-4 1h4m-5 1h5m-5 1h5m-5 1h5m-4 1h4m-4 1h4m-4 1h3" stroke="#c6da3c" stroke-width="1.02" fill="none"/>
<path d="M45.2 513.4h1m-1 1h2m-3 1h3m-3 1h3m-3 1h3m-3 1h3m-2 1h1" stroke="#f2e42c" stroke-width="1.02" fill="none"/>
</g>
<rect x="28.20" y="491.90" width="48.70" height="48.50" fill="none" stroke="#a0a0a0" stroke-width="0.8" />
<rect x="33.50" y="504.00" width="21.10" height="25.60" fill="none" stroke="#1c2550" stroke-width="0.5" />
<clipPath id="c24"><rect x="88.50" y="491.90" width="48.80" height="48.50"/></clipPath>
<g clip-path="url(#c24)">
<path fill="none" stroke="#2e4aa9" stroke-width=".8" stroke-opacity="0.85" d="M95.8 496.3h.8m16.1.1h.8m-15.8 1.9h.8m15.2 1.1h.8m-8.8 1h.8m-11 1.1h.8m-.6.8h.8m1 .1h.8m9.4.2h.8m-12.9 1h.8m2.3 0h.8m8.3 0h.8m1.2 0h.8m-16.1.9h.8m6.4 0h.8m12.1-.1h.8m1.3.1h.8m-27.7.9h.8m.2 0h.8m1.1.1h.8m.2-.1h.8m2.1.1h.8m.1.1h.8m1.2-.2h.8m3.2.2h.8m1.4-.1h.8m-13.7 1h.8m5.1 0h.8m1.1 0h.8m1.1 0h.8m4.4-.1h.8m4.2.1h.8m-18.9 1h.8m1.3 0h.8m1.1 0h.8m1.3-.1h.8m.1.1h.8m.3-.1h.8m3.2 0h.8m0 .2h.8m.5-.1h.8m3-.1h.8m-22.7 1h.8m0 0h.8m1.5 0h.8m.9 0h.8m1.4.1h.8m3.2-.1h.8m.1.2h.8m1.3-.1h.8m2.2 0h.8m1.1-.1h.8m.3.1h.8m1.2-.2h.8m3.1.2h.8m.3-.1h.8m-29.9 1.2h.8m2.2-.2h.8m1.4.2h.8m1-.2h.8m.1.1h.8m6.5.1h.8m6.1-.2h.8m.1.2h.8m2.1-.2h.8m1.4.1h.8m-29 1.1h.8m.3-.1h.8m2.3-.1h.8m.2.1h.8m1.2-.1h.8m1.2 0h.8m8.2 0h.8m1 0h.8m2.4-.1h.8m2 .3h.8m1.4-.1h.8m-25.9 1h.8m.4-.1h.8m2.9.2h.8m.4-.2h.8m7.1.1h.8m3.1.1h.8m.3 0h.8m4.3-.2h.8m-27.8 1.1h.8m.3.1h.8m0-.2h.8m1.3.1h.8m1.3-.1h.8m1.2 0h.8m17.2 0h.8m1.2.2h.8m-25.8 1h.8m1.1-.2h.8m.1 0h.8m1.4.2h.8m-6.9 1h.8m5.1-.1h.8m10.4-.1h.8m1 .2h.8m6.1-.3h.8m-28.6 1.3h.8m1-.2h.8m4.3.1h.8m12.2.1h.8m7.1-.1h.8m-19.8.9h.8m2.2.2h.8m5.5-.1h.8m.9 0h.8m.2.1h.8m1.3-.1h.8m.4.1h.8m.9 0h.8m.4-.1h.8m0 0h.8m3.5-.1h.8m-4.1 1.1h.8m9.4-.1h.8m-30.8 1.1h.8m2.1-.1h.8m3.4 0h.8m-15.9 1.1h.8m9-.1h.8m6.3 0h.8m1.3 0h.8m1 .2h.8m.4-.3h.8m1.2.3h.8m1-.3h.8m.4.3h.8m13-.1h.8m-33.7.9h.8m1.3.2h.8m1.1-.3h.8m3.3.3h.8m1-.1h.8m2.2 0h.8m.4 0h.8m.3-.2h.8m0 0h.8m3.3 0h.8m14.1.2h.8m-44.8 1h.8m14.2-.1h.8m.2.2h.8m1.3-.1h.8m.2.1h.8m2.2-.2h.8m11 .1h.8m4.4-.1h.8m-22.7 1.2h.8m0-.1h.8m2.2 0h.8m2.2 0h.8m2.4.1h.8m2-.3h.8m-30.7 1.1h.8m20.1 0h.8m1.4 0h.8m.1.1h.8m2.3.1h.8m0-.1h.8m1.2-.1h.8m3.3.2h.8m7-.2h.8m5.3.2h.8m-27.8.9h.8m1.2.1h.8m1.3-.1h.8m1 0h.8m1.5.1h.8m6.1-.2h.8m-15.9 1.2h.8m2.1 0h.8m2.4-.1h.8m0-.1h.8m-6.6 1.1h.8m3.2-.1h.8m.1.2h.8m1.2-.3h.8m.3.2h.8m-3.9 1.1h.8m.2-.2h.8m-.7 1.1h.8m11-.1h.8m-14.5.9h.8m1.9.1h.8m.2.2h.8m3.3-.1h.8m3.2 0h.8m-11.8.9h.8m1.3.1h.8m5.1.1h.8m6.4 0h.8m-18 .8h.8m1.4.1h.8m.9 0h.8m.3.1h.8m5.3 0h.8m2-.2h.8m-13.5 1.2h.8m-.1-.2h.8m2.4 0h.8m2.2 0h.8m2.1.2h.8m-9.7.9h.8m.1 0h.8m1.4 0h.8m0-.2h.8m1.4.1h.8m-6.8 1h.8m.2 0h.8m0-.1h.8m.1.2h.8m.4.1h.8m-3.7.8h.8m0 .1h.8m1.2 0h.8m.4 0h.8m.2-.1h.8m4.2 0h.8m.2 0h.8m-13.9 1.1h.8m1.2-.1h.8m.3 0h.8m-3.8 1.1h.8m.1-.1h.8m1 0h.8m1.4-.1h.8m4.1.1h.8m-11.6 1.1h.8m7.1-.2h.8m3 .3h.8m4.3-.1h.8m4.4-.1h.8m-19.9 1.1h.8m1.2-.1h.8m6.1.2h.8m6.1-.2h.8"/>
<path fill="none" stroke="#4a62bc" stroke-width=".7" stroke-opacity="0.5" d="M118.3 505.8h.7m2.1-.4h.7m9.4.4h.7m.4-.1h.7m-11.7.5h.7m1.5.5h.7m7.7-.7h.7m3.7.7h.7m-23.6 1.1h.7m.3-.3h.7m4.6.2h.7m.7-.6h.7m.4.3h.7m-.7-.1h.7m.4-.3h.7m.8.8h.7m2.9-.3h.7m2.7.1h.7m-19.5 1h.7m-.6.2h.7m.6-.2h.7m.6-.5h.7m.6.5h.7m5.4-.3h.7m5.8-.1h.7m-.4.4h.7m-15.9.9h.7m2.3-.3h.7m.3.1h.7m2.7 0h.7m10.8.3h.7m-.5-.2h.7m-13.5 1h.7m4-.4h.7m.9.8h.7m-.7-.9h.7m-.1.1h.7m1.2-.1h.7m.7.7h.7m1.8-.2h.7m-21.7.9h.7m6.3-.1h.7m.9.5h.7m.9-.5h.7m.2.3h.7m-.4 0h.7m5.3-.3h.7m5-.1h.7m-23.8 1.5h.7m3.6.2h.7m2.7-.8h.7m7.7 0h.7m-15 1.1h.7m3.1 0h.7m-.5-.2h.7m7.7.3h.7m7.5.1h.7m-21.7.7h.7m1.4.3h.7m1.7-.3h.7m3.9.2h.7m-.1.3h.7m3.1.3h.7m.5-.7h.7m1.9-.1h.7m.7.7h.7m1.8-.2h.7m-18 1.3h.7m6-.7h.7m-.5.2h.7m.1.2h.7m2.6.2h.7m3-.5h.7m-.5.6h.7m0-.5h.7m-19.2.6h.7m5.5.7h.7m2.1.2h.7m3.1 0h.7m3.4-.1h.7m-15.8 1.1h.7m5.6-.8h.7m1.2.3h.7m.7-.1h.7m0 .2h.7m-.5-.4h.7m-16.1 1.4h.7m6.8.3h.7m-.2-.1h.7m1.3-.4h.7m4.1.3h.7m.9-.3h.7m4.9 0h.7m-21 1.6h.7m2.2-.5h.7m3.2.1h.7m4 .4h.7m2.5-.1h.7m.3-.7h.7m-16.6 1.4h.7m-.5-.5h.7m2.7.3h.7m.1 0h.7m-.2.6h.7m9-.5h.7m5.8-.4h.7m-.1.6h.7m-23.5.7h.7m1.3-.3h.7m-.3 0h.7m12.4.5h.7m5.6-.2h.7m1.5-.1h.7m-24.3.8h.7m9.6.6h.7m5.5.2h.7m-.7-.7h.7m.4.7h.7m-17.1.4h.7m6.1-.1h.7m1.1.5h.7m0-.5h.7m.5 0h.7m1.7.7h.7m4.3-.1h.7m3.5-.2h.7m-15.4 1.3h.7m1.3-.3h.7m1.6-.4h.7m-11.2 1.1h.7m-.6-.2h.7m-.1 0h.7m1.2.1h.7m-.6 0h.7m.4.2h.7m6 .5h.7m0-.7h.7m-.6.6h.7m7.9-.2h.7m-19.9.6h.7m.6.7h.7m.5-.4h.7m4.4.3h.7m-.5-.5h.7m-.6.4h.7m5-.4h.7m3.1.4h.7m-21.9 1.1h.7m.5-.7h.7m7.2 0h.7m8.3 0h.7m.5.4h.7m-17.7 1.4h.7m1.2.1h.7m.4 0h.7m2.1 0h.7m4.2-.5h.7m3.1.3h.7m1.8-.6h.7m4.9.8h.7m-21.2.9h.7m5.6-.8h.7m-7.7 1.5h.7m6.2-.2h.7m2.3.3h.7m.1-.6h.7m-.5.5h.7m-.2-.1h.7m5.1.5h.7m.1-.7h.7m-18.1 1.5h.7m.3-.4h.7m-.7-.3h.7m2 .9h.7m.1-.4h.7m5.2 0h.7m1.4-.2h.7m-.6 0h.7m6.8.4h.7m-.4-.7h.7m-25 1.8h.7m8.1-.2h.7m1 0h.7m4.4.1h.7m.4.1h.7m.3-.6h.7m.9.5h.7m-.5.2h.7m-.2-.9h.7m0 .9h.7m-17.7.8h.7m3.3 0h.7m5.2-.4h.7m2-.3h.7m2.8.5h.7m-19.6 1.2h.7m3 0h.7m2.8-.6h.7m2.6.5h.7m1.5-.4h.7m1.9.3h.7m-.7-.5h.7m-.3.8h.7m2.3-.2h.7m2.3-.1h.7m-10.8.8h.7m-.2.3h.7m.8-.4h.7m-14.7.9h.7m10.9.1h.7m-.5.3h.7m6.9-.4h.7m-.7.1h.7m-12.2.8h.7m3.5.4h.7m3.6-.2h.7m2.3.3h.7m-.5-.5h.7m1.4.7h.7m0 .1h.7m-22.1.6h.7m5.6-.1h.7m.3.4h.7m5.2-.5h.7m5 .6h.7m1.6-.3h.7m-.1.3h.7m-.5-.7h.7m-24.2 1.1h.7m6.4.4h.7m1.8.3h.7m7.8-.3h.7m-.2.2h.7m1.4-.8h.7m3 .9h.7m-17.9.7h.7m2.9-.1h.7m2.9.2h.7m8.3-.7h.7m-.3.8h.7"/>
<path fill="none" stroke="#7f90cc" stroke-width=".7" stroke-opacity="0.45" d="M135 498.5h.7m-14.7 1.2h.7m7.7-.6h.7m-2.8 1.7h.7m-.5-.6h.7m6.4-.3h.7m-14.6 1.3h.7m6.1.7h.7m2.4.7h.7m-9.7.8h.7m9.6-.2h.7m2.5-.3h.7m-.1.2h.7m-.5 0h.7m-7.8.8h.7m.6.1h.7m4.4.8h.7m-7.8.1h.7m3.7.7h.7m3.2-.3h.7m-16.9 1.4h.7m11.1 1.5h.7m-12.1 2.5h.7m6.8 0h.7m6.2-.5h.7m-9.8 1.5h.7m2.6-.3h.7m-6.4.9h.7m4.3.1h.7m-6.6 1.6h.7m13.4.7h.7m-10.8.5h.7m.7.2h.7m-.2 0h.7m-7.3 1.4h.7m.8-.4h.7m1.7 1.6h.7m-5.1 1.2h.7m-.8.9h.7m2.7.1h.7m-3.1.8h.7m-2.7 2.1h.7m-.5.6h.7m1.8-.8h.7m.9.5h.7m2.2-.3h.7m.7.3h.7m-7.7 2h.7m1.5.3h.7m-.4-.4h.7m2.7.4h.7m.5-.4h.7m-4.4.9h.7m2.4 3.3h.7m2.6.1h.7m-12.3 1.2h.7m2.9-.3h.7m6.4-.2h.7m-4 .9h.7m-.6.2h.7m-5.2 1h.7m6.3.4h.7m5.9-.3h.7m-16.7 2h.7m8.6-.4h.7m2.5 1.5h.7m-8.5 3.1h.7m1.7-.8h.7m-.5 1.4h.7m7.4 0h.7"/>
<path d="M99.5 506.4h1m3 0h1m-1 1h1m1 0h1m-8 1h3m2 0h1m1 0h2m1 0h1m-15 1h1m2 0h1m2 0h3m1 0h4m-10 1h8m1 0h1m-10 1h7m1 0h3m-14 1h1m1 0h9m1 0h4m-23 1h1m1 0h1m1 0h1m2 0h1m1 0h13m-22 1h2m1 0h4m2 0h10m-16 1h4m1 0h12m1 0h1m1 0h1m-24 1h9m1 0h2m1 0h5m1 0h1m-19 1h9m1 0h6m1 0h4m-22 1h9m1 0h2m1 0h3m1 0h4m-21 1h1m1 0h8m3 0h5m1 0h1m-20 1h9m1 0h1m1 0h1m1 0h2m2 0h1m1 0h1m-20 1h14m2 0h1m2 0h1m-20 1h16m2 0h1m3 0h1m-23 1h20m1 0h1m-23 1h21m1 0h1m1 0h1m-25 1h21m1 0h2m2 0h1m-27 1h22m1 0h1m1 0h1m-26 1h27m-27 1h27m-27 1h26m1 0h1m-28 1h27m-27 1h25m1 0h1m1 0h1m-29 1h26m2 0h2m-30 1h27m-27 1h27m-27 1h28m-28 1h26m-26 1h26m2 0h1m-29 1h25m1 0h1m2 0h1m-30 1h28" stroke="#2b46a7" stroke-width="1.02" fill="none"/>
<path d="M96.5 524.4h7m-9 1h11m-12 1h14m-15 1h15m-15 1h16m-16 1h16m-16 1h16m-16 1h16m-15 1h14m-13 1h12m-11 1h9" stroke="#2f62bf" stroke-width="1.02" fill="none"/>
<path d="M97.5 526.4h6m-8 1h9m-9 1h10m-11 1h11m-10 1h10m-10 1h10m-9 1h8m-5 1h2" stroke="#2fb2e2" stroke-width="1.02" fill="none"/>
<path d="M98.5 527.4h3m-4 1h6m-6 1h6m-6 1h6m-5 1h4" stroke="#52c6b0" stroke-width="1.02" fill="none"/>
<path d="M99.5 529.4h2m-1 1h1" stroke="#8ccd52" stroke-width="1.02" fill="none"/>
</g>
<rect x="88.50" y="491.90" width="48.80" height="48.50" fill="none" stroke="#a0a0a0" stroke-width="0.8" />
<rect x="110.70" y="505.00" width="18.90" height="14.20" fill="none" stroke="#707070" stroke-width="0.6" />
<text x="29.4" y="440.8" font-size="6.6" fill="#222" textLength="22.0" lengthAdjust="spacingAndGlyphs" >GFP<tspan dy="-2.4" font-size="4.6">+</tspan><tspan dy="2.4">Lin</tspan><tspan dy="-2.4" font-size="4.6">−</tspan></text>
<text x="29.4" y="447.3" font-size="6.6" fill="#222" textLength="15.5" lengthAdjust="spacingAndGlyphs" >27.4%</text>
<text x="135.0" y="441.5" font-size="6.6" text-anchor="end" fill="#222" textLength="22.0" lengthAdjust="spacingAndGlyphs" >GFP<tspan dy="-2.4" font-size="4.6">+</tspan><tspan dy="2.4">LSK</tspan></text>
<text x="135.0" y="447.2" font-size="6.6" text-anchor="end" fill="#222" textLength="15.5" lengthAdjust="spacingAndGlyphs" >0.58%</text>
<text x="29.6" y="498.0" font-size="6.6" fill="#222" textLength="22.0" lengthAdjust="spacingAndGlyphs" >GFP<tspan dy="-2.4" font-size="4.6">+</tspan><tspan dy="2.4">Lin</tspan><tspan dy="-2.4" font-size="4.6">−</tspan></text>
<text x="29.6" y="504.3" font-size="6.6" fill="#222" textLength="15.5" lengthAdjust="spacingAndGlyphs" >32.2%</text>
<text x="133.6" y="498.0" font-size="6.6" text-anchor="end" fill="#222" textLength="22.0" lengthAdjust="spacingAndGlyphs" >GFP<tspan dy="-2.4" font-size="4.6">+</tspan><tspan dy="2.4">LSK</tspan></text>
<text x="133.6" y="504.5" font-size="6.6" text-anchor="end" fill="#222" textLength="15.5" lengthAdjust="spacingAndGlyphs" >0.15%</text>
<line x1="22.60" y1="545.00" x2="22.60" y2="529.80" stroke="#111" stroke-width="1.0" />
<path d="M20.60 530.80L22.60 525.80L24.60 530.80z" fill="#111"/>
<line x1="22.10" y1="545.00" x2="39.80" y2="545.00" stroke="#111" stroke-width="1.0" />
<path d="M38.80 543.00L43.80 545.00L38.80 547.00z" fill="#111"/>
<line x1="83.50" y1="545.00" x2="83.50" y2="529.80" stroke="#111" stroke-width="1.0" />
<path d="M81.50 530.80L83.50 525.80L85.50 530.80z" fill="#111"/>
<line x1="83.00" y1="545.00" x2="101.00" y2="545.00" stroke="#111" stroke-width="1.0" />
<path d="M100.00 543.00L105.00 545.00L100.00 547.00z" fill="#111"/>
<text x="26.0" y="515.4" font-size="7.8" text-anchor="middle" fill="#231f20" textLength="14.2" lengthAdjust="spacingAndGlyphs" transform="rotate(-90 26.0 515.4)" >GFP</text>
<text x="87.4" y="515.4" font-size="7.8" text-anchor="middle" fill="#231f20" textLength="14.5" lengthAdjust="spacingAndGlyphs" transform="rotate(-90 87.4 515.4)" >c-Kit</text>
<text x="50.0" y="548.1" font-size="7.8" fill="#231f20" textLength="23.0" lengthAdjust="spacingAndGlyphs" >lineage</text>
<text x="107.3" y="547.3" font-size="7.8" fill="#231f20" textLength="17.7" lengthAdjust="spacingAndGlyphs" >Sca-1</text>
<text x="17.4" y="463.3" font-size="7.8" font-style="italic" text-anchor="middle" fill="#231f20" textLength="34.6" lengthAdjust="spacingAndGlyphs" transform="rotate(-90 17.4 463.3)" >Anp32b<tspan dy="-3.2" font-size="5.2">+/+</tspan></text>
<text x="16.8" y="521.9" font-size="7.8" font-style="italic" text-anchor="middle" fill="#231f20" textLength="29.2" lengthAdjust="spacingAndGlyphs" transform="rotate(-90 16.8 521.9)" >Anp32b<tspan dy="-3.2" font-size="5.2">−/−</tspan></text>
<text x="6.6" y="15.6" font-size="11.5" font-weight="bold" fill="#000" stroke="#000" stroke-width="0.45">A</text>
<text x="196.8" y="15.0" font-size="11.5" font-weight="bold" fill="#000" stroke="#000" stroke-width="0.45">B</text>
<text x="6.4" y="137.8" font-size="11.5" font-weight="bold" fill="#000" stroke="#000" stroke-width="0.45">C</text>
<text x="196.8" y="138.7" font-size="11.5" font-weight="bold" fill="#000" stroke="#000" stroke-width="0.45">D</text>
<text x="361.8" y="138.0" font-size="11.5" font-weight="bold" fill="#000" stroke="#000" stroke-width="0.45">E</text>
<text x="6.7" y="268.1" font-size="11.5" font-weight="bold" fill="#000" stroke="#000" stroke-width="0.45">F</text>
<text x="271.4" y="268.7" font-size="11.5" font-weight="bold" fill="#000" stroke="#000" stroke-width="0.45">G</text>
<text x="7.0" y="440.2" font-size="11.5" font-weight="bold" fill="#000" stroke="#000" stroke-width="0.45">H</text>
<text x="250.5" y="439.4" font-size="11.5" font-weight="bold" fill="#000" stroke="#000" stroke-width="0.45">I</text>
<text x="340.8" y="440.0" font-size="11.5" font-weight="bold" fill="#000" stroke="#000" stroke-width="0.45">J</text>
<text x="434.5" y="440.8" font-size="11.5" font-weight="bold" fill="#000" stroke="#000" stroke-width="0.45">K</text>
<text x="7.0" y="568.1" font-size="11.5" font-weight="bold" fill="#000" stroke="#000" stroke-width="0.45">L</text>
<text x="174.8" y="568.5" font-size="11.5" font-weight="bold" fill="#000" stroke="#000" stroke-width="0.45">M</text>
<text x="365.0" y="568.1" font-size="11.5" font-weight="bold" fill="#000" stroke="#000" stroke-width="0.45">N</text>
<text x="26.2" y="270.4" font-size="8.6" font-weight="bold" fill="#111" >i</text>
<text x="25.6" y="335.2" font-size="8.6" font-weight="bold" fill="#111" >ii</text>
<text x="20.3" y="444.6" font-size="8.6" font-weight="bold" fill="#111" >i</text>
<text x="148.6" y="445.2" font-size="8.6" font-weight="bold" fill="#111" >ii</text>
<text x="18.6" y="567.5" font-size="8.6" font-weight="bold" fill="#111" >i</text>
<text x="18.0" y="631.9" font-size="8.6" font-weight="bold" fill="#111" >ii</text>
<text x="175.6" y="581.3" font-size="8.6" font-weight="bold" fill="#111" >i</text>
<text x="256.9" y="580.8" font-size="8.6" font-weight="bold" fill="#111" >ii</text>
<text x="363.0" y="581.2" font-size="8.6" font-weight="bold" fill="#111" >i</text>
<text x="446.6" y="580.8" font-size="8.6" font-weight="bold" fill="#111" >ii</text>
<rect x="59.00" y="13.00" width="6.50" height="3.30" fill="#e3869a" />
<rect x="59.00" y="22.00" width="6.50" height="3.30" fill="#82a7c6" />
<text x="69.0" y="17.6" font-size="8" font-style="italic" fill="#231f20" textLength="35.0" lengthAdjust="spacingAndGlyphs" >Anp32b<tspan dy="-3.2" font-size="5.2">+/+</tspan></text>
<text x="69.0" y="26.4" font-size="8" font-style="italic" fill="#231f20" textLength="35.0" lengthAdjust="spacingAndGlyphs" >Anp32b<tspan dy="-3.2" font-size="5.2">−/−</tspan></text>
<line x1="47.50" y1="36.30" x2="47.50" y2="108.00" stroke="#222222" stroke-width="1.3" />
<line x1="44.80" y1="36.80" x2="47.50" y2="36.80" stroke="#222222" stroke-width="1.1700000000000002" />
<text x="41.2" y="39.7" font-size="8" text-anchor="end" fill="#231f20" >15</text>
<line x1="44.80" y1="60.30" x2="47.50" y2="60.30" stroke="#222222" stroke-width="1.1700000000000002" />
<text x="41.2" y="63.2" font-size="8" text-anchor="end" fill="#231f20" >10</text>
<line x1="44.80" y1="84.00" x2="47.50" y2="84.00" stroke="#222222" stroke-width="1.1700000000000002" />
<text x="41.2" y="86.9" font-size="8" text-anchor="end" fill="#231f20" >5</text>
<line x1="44.80" y1="107.50" x2="47.50" y2="107.50" stroke="#222222" stroke-width="1.1700000000000002" />
<text x="41.2" y="110.4" font-size="8" text-anchor="end" fill="#231f20" >0</text>
<line x1="47.00" y1="107.50" x2="90.00" y2="107.50" stroke="#222222" stroke-width="1.3" />
<rect x="54.30" y="68.80" width="9.70" height="38.70" fill="#e3869a" />
<rect x="73.75" y="106.60" width="10.00" height="0.90" fill="#82a7c6" />
<line x1="59.10" y1="68.80" x2="59.10" y2="59.50" stroke="#1a1a1a" stroke-width="1.0" />
<line x1="56.90" y1="59.50" x2="61.30" y2="59.50" stroke="#1a1a1a" stroke-width="1.0" />
<circle cx="58.5" cy="49.3" r="1.3" fill="#d9263f"/>
<circle cx="58.7" cy="56.5" r="1.3" fill="#d9263f"/>
<circle cx="58.9" cy="60.0" r="1.3" fill="#d9263f"/>
<circle cx="59.0" cy="86.0" r="1.3" fill="#d9263f"/>
<circle cx="59.0" cy="91.3" r="1.3" fill="#d9263f"/>
<circle cx="75.5" cy="106.8" r="1.1" fill="#d9263f"/>
<circle cx="77.8" cy="106.8" r="1.1" fill="#d9263f"/>
<circle cx="80.0" cy="106.8" r="1.1" fill="#d9263f"/>
<circle cx="82.2" cy="106.8" r="1.1" fill="#d9263f"/>
<circle cx="78.8" cy="106.5" r="1.1" fill="#d9263f"/>
<line x1="55.00" y1="45.00" x2="85.50" y2="45.00" stroke="#333" stroke-width="1.0" />
<text x="58.0" y="40.8" font-size="6.9" fill="#333" textLength="25.7" lengthAdjust="spacingAndGlyphs" ><tspan font-style="italic">P</tspan>=0.0021</text>
<text x="0" y="0" font-size="9.6" transform="translate(15.30 72.00) rotate(-90) scale(0.767 1)" fill="#231f20" text-anchor="middle">WBC cell numbers</text>
<text x="0" y="0" font-size="9.6" transform="translate(26.40 71.60) rotate(-90) scale(0.848 1)" fill="#231f20" text-anchor="middle">in PB (×10<tspan dy="-2.8" font-size="5.5">4</tspan><tspan dy="2.8">/µl)</tspan></text>
<rect x="413.25" y="14.50" width="6.80" height="3.20" fill="#e3869a" />
<rect x="413.25" y="23.60" width="6.80" height="3.20" fill="#82a7c6" />
<text x="423.3" y="18.8" font-size="8" font-style="italic" fill="#231f20" textLength="35.0" lengthAdjust="spacingAndGlyphs" >Anp32b<tspan dy="-3.2" font-size="5.2">+/+</tspan></text>
<text x="423.3" y="27.6" font-size="8" font-style="italic" fill="#231f20" textLength="35.0" lengthAdjust="spacingAndGlyphs" >Anp32b<tspan dy="-3.2" font-size="5.2">−/−</tspan></text>
<line x1="364.20" y1="29.10" x2="364.20" y2="107.40" stroke="#222222" stroke-width="1.3" />
<line x1="361.50" y1="29.60" x2="364.20" y2="29.60" stroke="#222222" stroke-width="1.1700000000000002" />
<text x="357.2" y="32.5" font-size="8" text-anchor="end" fill="#231f20" >100</text>
<line x1="361.50" y1="45.20" x2="364.20" y2="45.20" stroke="#222222" stroke-width="1.1700000000000002" />
<text x="357.2" y="48.1" font-size="8" text-anchor="end" fill="#231f20" >80</text>
<line x1="361.50" y1="60.60" x2="364.20" y2="60.60" stroke="#222222" stroke-width="1.1700000000000002" />
<text x="357.2" y="63.5" font-size="8" text-anchor="end" fill="#231f20" >60</text>
<line x1="361.50" y1="76.20" x2="364.20" y2="76.20" stroke="#222222" stroke-width="1.1700000000000002" />
<text x="357.2" y="79.1" font-size="8" text-anchor="end" fill="#231f20" >40</text>
<line x1="361.50" y1="91.50" x2="364.20" y2="91.50" stroke="#222222" stroke-width="1.1700000000000002" />
<text x="357.2" y="94.4" font-size="8" text-anchor="end" fill="#231f20" >20</text>
<line x1="361.50" y1="106.90" x2="364.20" y2="106.90" stroke="#222222" stroke-width="1.1700000000000002" />
<text x="357.2" y="109.8" font-size="8" text-anchor="end" fill="#231f20" >0</text>
<line x1="363.70" y1="106.90" x2="447.00" y2="106.90" stroke="#222222" stroke-width="1.3" />
<line x1="384.20" y1="106.90" x2="384.20" y2="109.40" stroke="#222222" stroke-width="1.1700000000000002" />
<line x1="426.70" y1="106.90" x2="426.70" y2="109.40" stroke="#222222" stroke-width="1.1700000000000002" />
<rect x="371.00" y="50.69" width="10.20" height="56.21" fill="#e3869a" />
<rect x="387.30" y="85.34" width="10.00" height="21.56" fill="#82a7c6" />
<rect x="413.30" y="54.54" width="10.70" height="52.36" fill="#e3869a" />
<rect x="429.30" y="93.81" width="10.70" height="13.09" fill="#82a7c6" />
<line x1="376.10" y1="50.69" x2="376.10" y2="49.15" stroke="#1a1a1a" stroke-width="1.0" />
<line x1="373.90" y1="49.15" x2="378.30" y2="49.15" stroke="#1a1a1a" stroke-width="1.0" />
<line x1="392.30" y1="85.34" x2="392.30" y2="83.42" stroke="#1a1a1a" stroke-width="1.0" />
<line x1="390.10" y1="83.42" x2="394.50" y2="83.42" stroke="#1a1a1a" stroke-width="1.0" />
<line x1="418.60" y1="54.54" x2="418.60" y2="53.77" stroke="#1a1a1a" stroke-width="1.0" />
<line x1="416.40" y1="53.77" x2="420.80" y2="53.77" stroke="#1a1a1a" stroke-width="1.0" />
<line x1="434.60" y1="93.81" x2="434.60" y2="92.27" stroke="#1a1a1a" stroke-width="1.0" />
<line x1="432.40" y1="92.27" x2="436.80" y2="92.27" stroke="#1a1a1a" stroke-width="1.0" />
<circle cx="372.5" cy="53.4" r="1.4" fill="none" stroke="#d9263f" stroke-width="1.1"/>
<circle cx="374.5" cy="48.4" r="1.4" fill="none" stroke="#d9263f" stroke-width="1.1"/>
<circle cx="378.5" cy="49.2" r="1.4" fill="none" stroke="#d9263f" stroke-width="1.1"/>
<circle cx="380.2" cy="53.8" r="1.4" fill="none" stroke="#d9263f" stroke-width="1.1"/>
<circle cx="376.0" cy="53.0" r="1.4" fill="none" stroke="#d9263f" stroke-width="1.1"/>
<circle cx="388.5" cy="85.3" r="1.4" fill="none" stroke="#d9263f" stroke-width="1.1"/>
<circle cx="391.5" cy="81.5" r="1.4" fill="none" stroke="#d9263f" stroke-width="1.1"/>
<circle cx="395.8" cy="83.8" r="1.4" fill="none" stroke="#d9263f" stroke-width="1.1"/>
<circle cx="395.8" cy="87.7" r="1.4" fill="none" stroke="#d9263f" stroke-width="1.1"/>
<circle cx="391.8" cy="89.2" r="1.4" fill="none" stroke="#d9263f" stroke-width="1.1"/>
<circle cx="414.8" cy="54.5" r="1.4" fill="none" stroke="#d9263f" stroke-width="1.1"/>
<circle cx="417.8" cy="52.2" r="1.4" fill="none" stroke="#d9263f" stroke-width="1.1"/>
<circle cx="421.5" cy="52.2" r="1.4" fill="none" stroke="#d9263f" stroke-width="1.1"/>
<circle cx="423.0" cy="55.3" r="1.4" fill="none" stroke="#d9263f" stroke-width="1.1"/>
<circle cx="418.6" cy="55.7" r="1.4" fill="none" stroke="#d9263f" stroke-width="1.1"/>
<circle cx="430.5" cy="91.5" r="1.4" fill="none" stroke="#d9263f" stroke-width="1.1"/>
<circle cx="434.0" cy="90.0" r="1.4" fill="none" stroke="#d9263f" stroke-width="1.1"/>
<circle cx="438.6" cy="90.7" r="1.4" fill="none" stroke="#d9263f" stroke-width="1.1"/>
<circle cx="438.6" cy="94.6" r="1.4" fill="none" stroke="#d9263f" stroke-width="1.1"/>
<circle cx="433.5" cy="95.4" r="1.4" fill="none" stroke="#d9263f" stroke-width="1.1"/>
<line x1="371.00" y1="43.30" x2="398.30" y2="43.30" stroke="#333" stroke-width="1.0" />
<text x="372.0" y="37.9" font-size="6.9" fill="#333" textLength="26.3" lengthAdjust="spacingAndGlyphs" ><tspan font-style="italic">P</tspan>&lt;0.0001</text>
<line x1="414.50" y1="47.00" x2="440.80" y2="47.00" stroke="#333" stroke-width="1.0" />
<text x="414.5" y="41.6" font-size="6.9" fill="#333" textLength="26.3" lengthAdjust="spacingAndGlyphs" ><tspan font-style="italic">P</tspan>&lt;0.0001</text>
<text x="0" y="0" font-size="10.4" transform="translate(338.80 68.50) rotate(-90) scale(0.687 1)" fill="#231f20" text-anchor="middle">PBMC cells (%)</text>
<text x="384.5" y="119.2" font-size="8.5" text-anchor="middle" fill="#231f20" >GFP<tspan dy="-3" font-size="5.2">+</tspan></text>
<text x="426.5" y="119.2" font-size="8.5" text-anchor="middle" fill="#231f20" >GFP<tspan dy="-3" font-size="5.2">+</tspan><tspan dy="3">Gr-1</tspan><tspan dy="-3" font-size="5.2">+</tspan></text>
<rect x="123.30" y="136.50" width="7.00" height="3.10" fill="#e3869a" />
<rect x="123.30" y="144.40" width="7.00" height="3.10" fill="#82a7c6" />
<text x="133.5" y="140.5" font-size="8" font-style="italic" fill="#231f20" textLength="35.0" lengthAdjust="spacingAndGlyphs" >Anp32b<tspan dy="-3.2" font-size="5.2">+/+</tspan></text>
<text x="133.5" y="149.0" font-size="8" font-style="italic" fill="#231f20" textLength="35.0" lengthAdjust="spacingAndGlyphs" >Anp32b<tspan dy="-3.2" font-size="5.2">−/−</tspan></text>
<line x1="112.60" y1="155.70" x2="112.60" y2="227.40" stroke="#222222" stroke-width="1.3" />
<line x1="109.90" y1="156.20" x2="112.60" y2="156.20" stroke="#222222" stroke-width="1.1700000000000002" />
<text x="109.4" y="159.1" font-size="8" text-anchor="end" fill="#231f20" >60</text>
<line x1="109.90" y1="180.20" x2="112.60" y2="180.20" stroke="#222222" stroke-width="1.1700000000000002" />
<text x="109.4" y="183.1" font-size="8" text-anchor="end" fill="#231f20" >40</text>
<line x1="109.90" y1="203.50" x2="112.60" y2="203.50" stroke="#222222" stroke-width="1.1700000000000002" />
<text x="109.4" y="206.4" font-size="8" text-anchor="end" fill="#231f20" >20</text>
<line x1="109.90" y1="226.90" x2="112.60" y2="226.90" stroke="#222222" stroke-width="1.1700000000000002" />
<text x="109.4" y="229.8" font-size="8" text-anchor="end" fill="#231f20" >0</text>
<line x1="112.10" y1="226.90" x2="157.00" y2="226.90" stroke="#222222" stroke-width="1.3" />
<line x1="135.30" y1="226.90" x2="135.30" y2="229.40" stroke="#222222" stroke-width="1.1700000000000002" />
<rect x="119.40" y="175.09" width="10.60" height="51.81" fill="#e3869a" />
<rect x="140.20" y="193.34" width="10.00" height="33.56" fill="#82a7c6" />
<line x1="124.70" y1="175.09" x2="124.70" y2="172.15" stroke="#1a1a1a" stroke-width="1.0" />
<line x1="122.50" y1="172.15" x2="126.90" y2="172.15" stroke="#1a1a1a" stroke-width="1.0" />
<line x1="145.20" y1="193.34" x2="145.20" y2="190.99" stroke="#1a1a1a" stroke-width="1.0" />
<line x1="143.00" y1="190.99" x2="147.40" y2="190.99" stroke="#1a1a1a" stroke-width="1.0" />
<circle cx="124.5" cy="168.6" r="1.2" fill="#d9263f"/>
<circle cx="124.3" cy="172.1" r="1.2" fill="#d9263f"/>
<circle cx="124.5" cy="175.1" r="1.2" fill="#d9263f"/>
<circle cx="124.5" cy="178.0" r="1.2" fill="#d9263f"/>
<circle cx="124.2" cy="179.8" r="1.2" fill="#d9263f"/>
<circle cx="143.2" cy="184.7" r="1.2" fill="#d9263f"/>
<circle cx="140.8" cy="192.2" r="1.2" fill="#d9263f"/>
<circle cx="145.2" cy="191.3" r="1.2" fill="#d9263f"/>
<circle cx="150.0" cy="197.1" r="1.2" fill="#d9263f"/>
<circle cx="142.0" cy="196.5" r="1.2" fill="#d9263f"/>
<line x1="119.80" y1="165.40" x2="150.20" y2="165.40" stroke="#333" stroke-width="1.0" />
<text x="122.7" y="161.5" font-size="6.9" fill="#333" textLength="26.0" lengthAdjust="spacingAndGlyphs" ><tspan font-style="italic">P</tspan>=0.0006</text>
<text x="0" y="0" font-size="10.4" transform="translate(94.40 191.80) rotate(-90) scale(0.677 1)" fill="#231f20" text-anchor="middle">BM cells (%)</text>
<text x="135.8" y="237.5" font-size="8.5" text-anchor="middle" fill="#231f20" >GFP<tspan dy="-3" font-size="5.2">+</tspan></text>
<line x1="231.25" y1="149.50" x2="231.25" y2="227.50" stroke="#222222" stroke-width="1.1" />
<line x1="228.75" y1="227.50" x2="231.25" y2="227.50" stroke="#222222" stroke-width="1" />
<text x="226.8" y="230.4" font-size="8" text-anchor="end" fill="#231f20" >0</text>
<line x1="228.75" y1="188.75" x2="231.25" y2="188.75" stroke="#222222" stroke-width="1" />
<text x="226.8" y="191.7" font-size="8" text-anchor="end" fill="#231f20" >50</text>
<line x1="228.75" y1="150.00" x2="231.25" y2="150.00" stroke="#222222" stroke-width="1" />
<text x="226.8" y="152.9" font-size="8" text-anchor="end" fill="#231f20" >100</text>
<line x1="230.75" y1="227.50" x2="337.70" y2="227.50" stroke="#222222" stroke-width="1.1" />
<line x1="231.25" y1="227.50" x2="231.25" y2="230.00" stroke="#222222" stroke-width="1" />
<text x="231.2" y="239.1" font-size="8" text-anchor="middle" fill="#231f20" >0</text>
<line x1="261.70" y1="227.50" x2="261.70" y2="230.00" stroke="#222222" stroke-width="1" />
<text x="261.7" y="239.1" font-size="8" text-anchor="middle" fill="#231f20" >10</text>
<line x1="292.15" y1="227.50" x2="292.15" y2="230.00" stroke="#222222" stroke-width="1" />
<text x="292.1" y="239.1" font-size="8" text-anchor="middle" fill="#231f20" >20</text>
<line x1="322.60" y1="227.50" x2="322.60" y2="230.00" stroke="#222222" stroke-width="1" />
<text x="322.6" y="239.1" font-size="8" text-anchor="middle" fill="#231f20" >30</text>
<polyline fill="none" stroke="#d0223a" stroke-width="1.3" points="231.25,150.00 298.24,150.00 298.24,175.81 316.51,175.81 316.51,188.75 322.60,188.75 322.60,201.69 325.64,201.69 325.64,227.50"/>
<polyline fill="none" stroke="#1f5d9c" stroke-width="1.3" points="279.97,150.00 279.97,188.75 283.01,188.75 283.01,227.50"/>
<line x1="239.50" y1="135.00" x2="246.30" y2="135.00" stroke="#1f5d9c" stroke-width="1.1" />
<line x1="239.50" y1="143.00" x2="246.30" y2="143.00" stroke="#d0223a" stroke-width="1.1" />
<text x="248.8" y="136.8" font-size="8" font-style="italic" fill="#231f20" textLength="34.5" lengthAdjust="spacingAndGlyphs" >Anp32b<tspan dy="-3.2" font-size="5.2">+/+</tspan></text>
<text x="248.8" y="145.3" font-size="8" font-style="italic" fill="#231f20" textLength="34.5" lengthAdjust="spacingAndGlyphs" >Anp32b<tspan dy="-3.2" font-size="5.2">−/−</tspan></text>
<line x1="242.90" y1="134.00" x2="242.90" y2="136.00" stroke="#1f5d9c" stroke-width="0.8" />
<line x1="242.90" y1="142.00" x2="242.90" y2="144.00" stroke="#d0223a" stroke-width="0.8" />
<line x1="0.00" y1="-10.00" x2="0.00" y2="-10.00" stroke="#333" stroke-width="0" />
<text x="240.7" y="192.5" font-size="6.9" fill="#333" textLength="26.8" lengthAdjust="spacingAndGlyphs" ><tspan font-style="italic">P</tspan>=0.0002</text>
<text x="0" y="0" font-size="10.4" transform="translate(206.50 188.60) rotate(-90) scale(0.714 1)" fill="#231f20" text-anchor="middle">Survival (%)</text>
<text x="242.5" y="248.8" font-size="9.4" fill="#231f20" textLength="84.5" lengthAdjust="spacingAndGlyphs" >Days after transplantation</text>
<line x1="400.30" y1="150.00" x2="400.30" y2="227.00" stroke="#222222" stroke-width="1.1" />
<line x1="397.80" y1="227.00" x2="400.30" y2="227.00" stroke="#222222" stroke-width="1" />
<text x="395.8" y="229.9" font-size="8" text-anchor="end" fill="#231f20" >0</text>
<line x1="397.80" y1="211.70" x2="400.30" y2="211.70" stroke="#222222" stroke-width="1" />
<text x="395.8" y="214.6" font-size="8" text-anchor="end" fill="#231f20" >20</text>
<line x1="397.80" y1="196.40" x2="400.30" y2="196.40" stroke="#222222" stroke-width="1" />
<text x="395.8" y="199.3" font-size="8" text-anchor="end" fill="#231f20" >40</text>
<line x1="397.80" y1="181.10" x2="400.30" y2="181.10" stroke="#222222" stroke-width="1" />
<text x="395.8" y="184.0" font-size="8" text-anchor="end" fill="#231f20" >60</text>
<line x1="397.80" y1="165.80" x2="400.30" y2="165.80" stroke="#222222" stroke-width="1" />
<text x="395.8" y="168.7" font-size="8" text-anchor="end" fill="#231f20" >80</text>
<line x1="397.80" y1="150.50" x2="400.30" y2="150.50" stroke="#222222" stroke-width="1" />
<text x="395.8" y="153.4" font-size="8" text-anchor="end" fill="#231f20" >100</text>
<line x1="399.80" y1="227.00" x2="506.00" y2="227.00" stroke="#222222" stroke-width="1.1" />
<line x1="400.30" y1="227.00" x2="400.30" y2="229.50" stroke="#222222" stroke-width="1" />
<text x="400.3" y="238.6" font-size="8" text-anchor="middle" fill="#231f20" >0</text>
<line x1="421.35" y1="227.00" x2="421.35" y2="229.50" stroke="#222222" stroke-width="1" />
<text x="421.4" y="238.6" font-size="8" text-anchor="middle" fill="#231f20" >20</text>
<line x1="442.40" y1="227.00" x2="442.40" y2="229.50" stroke="#222222" stroke-width="1" />
<text x="442.4" y="238.6" font-size="8" text-anchor="middle" fill="#231f20" >40</text>
<line x1="463.45" y1="227.00" x2="463.45" y2="229.50" stroke="#222222" stroke-width="1" />
<text x="463.4" y="238.6" font-size="8" text-anchor="middle" fill="#231f20" >60</text>
<line x1="484.50" y1="227.00" x2="484.50" y2="229.50" stroke="#222222" stroke-width="1" />
<text x="484.5" y="238.6" font-size="8" text-anchor="middle" fill="#231f20" >80</text>
<line x1="505.55" y1="227.00" x2="505.55" y2="229.50" stroke="#222222" stroke-width="1" />
<text x="505.6" y="238.6" font-size="8" text-anchor="middle" fill="#231f20" >100</text>
<line x1="400.30" y1="150.50" x2="499.24" y2="150.50" stroke="#d0223a" stroke-width="1.3"/>
<polyline fill="none" stroke="#1f5d9c" stroke-width="1.3" points="429.77,150.50 429.77,169.62 442.40,169.62 442.40,188.75 452.93,188.75 452.93,207.88 455.03,207.88 455.03,227.00"/>
<line x1="407.50" y1="134.30" x2="414.50" y2="134.30" stroke="#1f5d9c" stroke-width="1.1" />
<line x1="407.50" y1="142.50" x2="414.50" y2="142.50" stroke="#d0223a" stroke-width="1.1" />
<text x="417.5" y="136.8" font-size="8" font-style="italic" fill="#231f20" textLength="34.5" lengthAdjust="spacingAndGlyphs" >Anp32b<tspan dy="-3.2" font-size="5.2">+/+</tspan></text>
<text x="417.5" y="145.1" font-size="8" font-style="italic" fill="#231f20" textLength="34.5" lengthAdjust="spacingAndGlyphs" >Anp32b<tspan dy="-3.2" font-size="5.2">−/−</tspan></text>
<line x1="411.00" y1="133.30" x2="411.00" y2="135.30" stroke="#1f5d9c" stroke-width="0.8" />
<line x1="411.00" y1="141.50" x2="411.00" y2="143.50" stroke="#d0223a" stroke-width="0.8" />
<line x1="0.00" y1="-10.00" x2="0.00" y2="-10.00" stroke="#333" stroke-width="0" />
<text x="407.5" y="192.0" font-size="6.9" fill="#333" textLength="27.0" lengthAdjust="spacingAndGlyphs" ><tspan font-style="italic">P</tspan>=0.0067</text>
<text x="0" y="0" font-size="10.4" transform="translate(375.60 188.40) rotate(-90) scale(0.714 1)" fill="#231f20" text-anchor="middle">Survival (%)</text>
<text x="409.0" y="249.5" font-size="9.4" fill="#231f20" textLength="84.5" lengthAdjust="spacingAndGlyphs" >Days after transplantation</text>
<line x1="70.30" y1="342.90" x2="70.30" y2="399.10" stroke="#222222" stroke-width="1.3" />
<line x1="67.60" y1="343.40" x2="70.30" y2="343.40" stroke="#222222" stroke-width="1.1700000000000002" />
<text x="66.0" y="346.3" font-size="8.2" text-anchor="end" fill="#231f20" >0.03</text>
<line x1="67.60" y1="362.00" x2="70.30" y2="362.00" stroke="#222222" stroke-width="1.1700000000000002" />
<text x="66.0" y="364.9" font-size="8.2" text-anchor="end" fill="#231f20" >0.02</text>
<line x1="67.60" y1="380.40" x2="70.30" y2="380.40" stroke="#222222" stroke-width="1.1700000000000002" />
<text x="66.0" y="383.3" font-size="8.2" text-anchor="end" fill="#231f20" >0.01</text>
<line x1="67.60" y1="398.60" x2="70.30" y2="398.60" stroke="#222222" stroke-width="1.1700000000000002" />
<text x="66.0" y="401.5" font-size="8.2" text-anchor="end" fill="#231f20" >0</text>
<line x1="69.80" y1="398.60" x2="103.20" y2="398.60" stroke="#222222" stroke-width="1.3" />
<line x1="79.35" y1="398.60" x2="79.35" y2="401.10" stroke="#222222" stroke-width="1.1700000000000002" />
<line x1="94.70" y1="398.60" x2="94.70" y2="401.10" stroke="#222222" stroke-width="1.1700000000000002" />
<rect x="75.10" y="364.40" width="8.50" height="34.20" fill="#e3869a" />
<line x1="79.35" y1="364.40" x2="79.35" y2="363.00" stroke="#1a1a1a" stroke-width="1.0" />
<line x1="77.55" y1="363.00" x2="81.15" y2="363.00" stroke="#1a1a1a" stroke-width="1.0" />
<circle cx="76.5" cy="365.0" r="1.1" fill="#d9263f"/>
<circle cx="79.4" cy="363.3" r="1.1" fill="#d9263f"/>
<circle cx="81.8" cy="364.8" r="1.1" fill="#d9263f"/>
<circle cx="78.0" cy="367.5" r="1.1" fill="#d9263f"/>
<circle cx="80.0" cy="366.0" r="1.1" fill="#d9263f"/>
<rect x="91.00" y="378.30" width="7.40" height="20.30" fill="#82a7c6" />
<line x1="94.70" y1="378.30" x2="94.70" y2="377.50" stroke="#1a1a1a" stroke-width="1.0" />
<line x1="92.90" y1="377.50" x2="96.50" y2="377.50" stroke="#1a1a1a" stroke-width="1.0" />
<circle cx="92.3" cy="378.5" r="1.1" fill="#d9263f"/>
<circle cx="94.7" cy="378.0" r="1.1" fill="#d9263f"/>
<circle cx="96.8" cy="377.7" r="1.1" fill="#d9263f"/>
<circle cx="94.0" cy="380.6" r="1.1" fill="#d9263f"/>
<line x1="74.50" y1="358.80" x2="99.00" y2="358.80" stroke="#333" stroke-width="1.0" />
<text x="75.7" y="354.6" font-size="6.9" fill="#333" textLength="25.4" lengthAdjust="spacingAndGlyphs" ><tspan font-style="italic">P</tspan>&lt;0.0001</text>
<text x="80.6" y="405.0" font-size="7.8" font-style="italic" text-anchor="end" fill="#231f20" textLength="36.5" lengthAdjust="spacingAndGlyphs" transform="rotate(-35 80.6 405.0)" >Anp32b<tspan dy="-3.2" font-size="5.4">+/+</tspan></text>
<text x="96.0" y="405.0" font-size="7.8" font-style="italic" text-anchor="end" fill="#231f20" textLength="36.5" lengthAdjust="spacingAndGlyphs" transform="rotate(-35 96.0 405.0)" >Anp32b<tspan dy="-3.2" font-size="5.4">−/−</tspan></text>
<line x1="143.50" y1="343.20" x2="143.50" y2="399.00" stroke="#222222" stroke-width="1.3" />
<line x1="140.80" y1="343.70" x2="143.50" y2="343.70" stroke="#222222" stroke-width="1.1700000000000002" />
<text x="138.5" y="346.6" font-size="8.2" text-anchor="end" fill="#231f20" >0.020</text>
<line x1="140.80" y1="357.30" x2="143.50" y2="357.30" stroke="#222222" stroke-width="1.1700000000000002" />
<text x="138.5" y="360.2" font-size="8.2" text-anchor="end" fill="#231f20" >0.015</text>
<line x1="140.80" y1="371.20" x2="143.50" y2="371.20" stroke="#222222" stroke-width="1.1700000000000002" />
<text x="138.5" y="374.1" font-size="8.2" text-anchor="end" fill="#231f20" >0.010</text>
<line x1="140.80" y1="384.80" x2="143.50" y2="384.80" stroke="#222222" stroke-width="1.1700000000000002" />
<text x="138.5" y="387.7" font-size="8.2" text-anchor="end" fill="#231f20" >0.005</text>
<line x1="140.80" y1="398.50" x2="143.50" y2="398.50" stroke="#222222" stroke-width="1.1700000000000002" />
<text x="138.5" y="401.4" font-size="8.2" text-anchor="end" fill="#231f20" >0</text>
<line x1="143.00" y1="398.50" x2="175.00" y2="398.50" stroke="#222222" stroke-width="1.3" />
<line x1="151.95" y1="398.50" x2="151.95" y2="401.00" stroke="#222222" stroke-width="1.1700000000000002" />
<line x1="166.65" y1="398.50" x2="166.65" y2="401.00" stroke="#222222" stroke-width="1.1700000000000002" />
<rect x="148.10" y="362.10" width="7.70" height="36.40" fill="#e3869a" />
<line x1="151.95" y1="362.10" x2="151.95" y2="358.00" stroke="#1a1a1a" stroke-width="1.0" />
<line x1="150.15" y1="358.00" x2="153.75" y2="358.00" stroke="#1a1a1a" stroke-width="1.0" />
<circle cx="151.3" cy="350.0" r="1.1" fill="#d9263f"/>
<circle cx="151.5" cy="362.9" r="1.1" fill="#d9263f"/>
<circle cx="148.8" cy="367.7" r="1.1" fill="#d9263f"/>
<circle cx="155.3" cy="367.7" r="1.1" fill="#d9263f"/>
<circle cx="152.5" cy="364.5" r="1.1" fill="#d9263f"/>
<rect x="163.10" y="376.90" width="7.10" height="21.60" fill="#82a7c6" />
<line x1="166.65" y1="376.90" x2="166.65" y2="376.20" stroke="#1a1a1a" stroke-width="1.0" />
<line x1="164.85" y1="376.20" x2="168.45" y2="376.20" stroke="#1a1a1a" stroke-width="1.0" />
<circle cx="164.5" cy="376.5" r="1.1" fill="#d9263f"/>
<circle cx="166.6" cy="376.0" r="1.1" fill="#d9263f"/>
<circle cx="168.8" cy="376.3" r="1.1" fill="#d9263f"/>
<circle cx="166.5" cy="377.5" r="1.1" fill="#d9263f"/>
<line x1="147.10" y1="346.20" x2="171.70" y2="346.20" stroke="#333" stroke-width="1.0" />
<text x="148.5" y="342.7" font-size="6.9" fill="#333" textLength="25.5" lengthAdjust="spacingAndGlyphs" ><tspan font-style="italic">P</tspan>=0.0024</text>
<text x="155.5" y="405.0" font-size="7.8" font-style="italic" text-anchor="end" fill="#231f20" textLength="36.5" lengthAdjust="spacingAndGlyphs" transform="rotate(-35 155.5 405.0)" >Anp32b<tspan dy="-3.2" font-size="5.4">+/+</tspan></text>
<text x="170.6" y="405.0" font-size="7.8" font-style="italic" text-anchor="end" fill="#231f20" textLength="36.5" lengthAdjust="spacingAndGlyphs" transform="rotate(-35 170.6 405.0)" >Anp32b<tspan dy="-3.2" font-size="5.4">−/−</tspan></text>
<line x1="211.20" y1="343.20" x2="211.20" y2="399.00" stroke="#222222" stroke-width="1.3" />
<line x1="208.50" y1="343.70" x2="211.20" y2="343.70" stroke="#222222" stroke-width="1.1700000000000002" />
<text x="207.5" y="346.6" font-size="8.2" text-anchor="end" fill="#231f20" >0.10</text>
<line x1="208.50" y1="354.80" x2="211.20" y2="354.80" stroke="#222222" stroke-width="1.1700000000000002" />
<text x="207.5" y="357.7" font-size="8.2" text-anchor="end" fill="#231f20" >0.08</text>
<line x1="208.50" y1="365.60" x2="211.20" y2="365.60" stroke="#222222" stroke-width="1.1700000000000002" />
<text x="207.5" y="368.5" font-size="8.2" text-anchor="end" fill="#231f20" >0.06</text>
<line x1="208.50" y1="376.50" x2="211.20" y2="376.50" stroke="#222222" stroke-width="1.1700000000000002" />
<text x="207.5" y="379.4" font-size="8.2" text-anchor="end" fill="#231f20" >0.04</text>
<line x1="208.50" y1="387.50" x2="211.20" y2="387.50" stroke="#222222" stroke-width="1.1700000000000002" />
<text x="207.5" y="390.4" font-size="8.2" text-anchor="end" fill="#231f20" >0.02</text>
<line x1="208.50" y1="398.50" x2="211.20" y2="398.50" stroke="#222222" stroke-width="1.1700000000000002" />
<text x="207.5" y="401.4" font-size="8.2" text-anchor="end" fill="#231f20" >0</text>
<line x1="210.70" y1="398.50" x2="242.70" y2="398.50" stroke="#222222" stroke-width="1.3" />
<line x1="219.45" y1="398.50" x2="219.45" y2="401.00" stroke="#222222" stroke-width="1.1700000000000002" />
<line x1="234.45" y1="398.50" x2="234.45" y2="401.00" stroke="#222222" stroke-width="1.1700000000000002" />
<rect x="215.80" y="354.80" width="7.30" height="43.70" fill="#e3869a" />
<line x1="219.45" y1="354.80" x2="219.45" y2="354.00" stroke="#1a1a1a" stroke-width="1.0" />
<line x1="217.65" y1="354.00" x2="221.25" y2="354.00" stroke="#1a1a1a" stroke-width="1.0" />
<circle cx="216.8" cy="354.5" r="1.1" fill="#d9263f"/>
<circle cx="219.4" cy="353.5" r="1.1" fill="#d9263f"/>
<circle cx="222.0" cy="354.2" r="1.1" fill="#d9263f"/>
<circle cx="218.5" cy="357.0" r="1.1" fill="#d9263f"/>
<circle cx="220.5" cy="356.5" r="1.1" fill="#d9263f"/>
<rect x="230.80" y="365.40" width="7.30" height="33.10" fill="#82a7c6" />
<line x1="234.45" y1="365.40" x2="234.45" y2="364.80" stroke="#1a1a1a" stroke-width="1.0" />
<line x1="232.65" y1="364.80" x2="236.25" y2="364.80" stroke="#1a1a1a" stroke-width="1.0" />
<circle cx="231.8" cy="365.0" r="1.1" fill="#d9263f"/>
<circle cx="234.5" cy="364.5" r="1.1" fill="#d9263f"/>
<circle cx="237.3" cy="365.3" r="1.1" fill="#d9263f"/>
<circle cx="234.5" cy="366.8" r="1.1" fill="#d9263f"/>
<circle cx="237.0" cy="363.5" r="1.1" fill="#d9263f"/>
<line x1="214.80" y1="349.60" x2="239.00" y2="349.60" stroke="#808080" stroke-width="1.6" />
<text x="216.0" y="345.8" font-size="6.9" fill="#333" textLength="25.3" lengthAdjust="spacingAndGlyphs" ><tspan font-style="italic">P</tspan>&lt;0.0001</text>
<text x="224.5" y="405.0" font-size="7.8" font-style="italic" text-anchor="end" fill="#231f20" textLength="36.5" lengthAdjust="spacingAndGlyphs" transform="rotate(-35 224.5 405.0)" >Anp32b<tspan dy="-3.2" font-size="5.4">+/+</tspan></text>
<text x="240.0" y="405.0" font-size="7.8" font-style="italic" text-anchor="end" fill="#231f20" textLength="36.5" lengthAdjust="spacingAndGlyphs" transform="rotate(-35 240.0 405.0)" >Anp32b<tspan dy="-3.2" font-size="5.4">−/−</tspan></text>
<text x="0" y="0" font-size="10.4" transform="translate(44.50 370.80) rotate(-90) scale(0.755 1)" fill="#231f20" text-anchor="middle">Weight/body weight</text>
<rect x="185.20" y="441.90" width="6.70" height="3.20" fill="#e3869a" />
<rect x="185.20" y="451.00" width="6.70" height="3.20" fill="#82a7c6" />
<text x="194.8" y="445.9" font-size="8" font-style="italic" fill="#231f20" textLength="35.0" lengthAdjust="spacingAndGlyphs" >Anp32b<tspan dy="-3.2" font-size="5.2">+/+</tspan></text>
<text x="194.8" y="454.9" font-size="8" font-style="italic" fill="#231f20" textLength="35.0" lengthAdjust="spacingAndGlyphs" >Anp32b<tspan dy="-3.2" font-size="5.2">−/−</tspan></text>
<line x1="180.40" y1="467.80" x2="180.40" y2="538.60" stroke="#222222" stroke-width="1.3" />
<line x1="177.70" y1="468.30" x2="180.40" y2="468.30" stroke="#222222" stroke-width="1.1700000000000002" />
<text x="174.6" y="471.2" font-size="8" text-anchor="end" fill="#231f20" >0.25</text>
<line x1="177.70" y1="482.10" x2="180.40" y2="482.10" stroke="#222222" stroke-width="1.1700000000000002" />
<text x="174.6" y="485.0" font-size="8" text-anchor="end" fill="#231f20" >0.20</text>
<line x1="177.70" y1="496.20" x2="180.40" y2="496.20" stroke="#222222" stroke-width="1.1700000000000002" />
<text x="174.6" y="499.1" font-size="8" text-anchor="end" fill="#231f20" >0.15</text>
<line x1="177.70" y1="510.00" x2="180.40" y2="510.00" stroke="#222222" stroke-width="1.1700000000000002" />
<text x="174.6" y="512.9" font-size="8" text-anchor="end" fill="#231f20" >0.10</text>
<line x1="177.70" y1="524.00" x2="180.40" y2="524.00" stroke="#222222" stroke-width="1.1700000000000002" />
<text x="174.6" y="526.9" font-size="8" text-anchor="end" fill="#231f20" >0.05</text>
<line x1="177.70" y1="538.10" x2="180.40" y2="538.10" stroke="#222222" stroke-width="1.1700000000000002" />
<text x="174.6" y="541.0" font-size="8" text-anchor="end" fill="#231f20" >0</text>
<line x1="179.90" y1="538.10" x2="219.80" y2="538.10" stroke="#222222" stroke-width="1.3" />
<line x1="202.30" y1="538.10" x2="202.30" y2="540.60" stroke="#222222" stroke-width="1.1700000000000002" />
<rect x="187.10" y="493.30" width="10.00" height="44.80" fill="#e3869a" />
<rect x="207.30" y="520.80" width="10.00" height="17.30" fill="#82a7c6" />
<line x1="192.10" y1="493.30" x2="192.10" y2="489.50" stroke="#1a1a1a" stroke-width="1.0" />
<line x1="189.90" y1="489.50" x2="194.30" y2="489.50" stroke="#1a1a1a" stroke-width="1.0" />
<line x1="212.30" y1="520.80" x2="212.30" y2="516.50" stroke="#1a1a1a" stroke-width="1.0" />
<line x1="210.10" y1="516.50" x2="214.50" y2="516.50" stroke="#1a1a1a" stroke-width="1.0" />
<circle cx="192.0" cy="476.7" r="1.4" fill="#d9263f"/>
<circle cx="190.5" cy="495.0" r="1.4" fill="#d9263f"/>
<circle cx="197.6" cy="495.5" r="1.4" fill="#d9263f"/>
<circle cx="189.0" cy="500.4" r="1.4" fill="#d9263f"/>
<circle cx="197.6" cy="499.8" r="1.4" fill="#d9263f"/>
<circle cx="192.0" cy="491.5" r="1.4" fill="#d9263f"/>
<circle cx="212.3" cy="508.0" r="1.4" fill="#d9263f"/>
<circle cx="208.5" cy="519.5" r="1.4" fill="#d9263f"/>
<circle cx="212.0" cy="524.0" r="1.4" fill="#d9263f"/>
<circle cx="216.8" cy="525.8" r="1.4" fill="#d9263f"/>
<circle cx="208.8" cy="525.6" r="1.4" fill="#d9263f"/>
<line x1="187.10" y1="471.50" x2="217.50" y2="471.50" stroke="#333" stroke-width="1.0" />
<text x="190.4" y="467.7" font-size="6.9" fill="#333" textLength="25.6" lengthAdjust="spacingAndGlyphs" ><tspan font-style="italic">P</tspan>=0.0001</text>
<text x="0" y="0" font-size="10.4" transform="translate(154.30 503.00) rotate(-90) scale(0.691 1)" fill="#231f20" text-anchor="middle">BM cells (%)</text>
<text x="201.5" y="547.1" font-size="8.5" text-anchor="middle" fill="#231f20" >GFP<tspan dy="-3" font-size="5.2">+</tspan><tspan dy="3">LSK</tspan></text>
<rect x="280.40" y="442.30" width="6.70" height="3.10" fill="#e3869a" />
<rect x="280.40" y="451.00" width="6.70" height="3.10" fill="#82a7c6" />
<text x="290.0" y="445.9" font-size="8" font-style="italic" fill="#231f20" textLength="35.0" lengthAdjust="spacingAndGlyphs" >Anp32b<tspan dy="-3.2" font-size="5.2">+/+</tspan></text>
<text x="290.0" y="454.9" font-size="8" font-style="italic" fill="#231f20" textLength="35.0" lengthAdjust="spacingAndGlyphs" >Anp32b<tspan dy="-3.2" font-size="5.2">−/−</tspan></text>
<line x1="276.70" y1="467.20" x2="276.70" y2="538.20" stroke="#222222" stroke-width="1.3" />
<line x1="274.00" y1="467.70" x2="276.70" y2="467.70" stroke="#222222" stroke-width="1.1700000000000002" />
<text x="271.3" y="470.6" font-size="8" text-anchor="end" fill="#231f20" >0.5</text>
<line x1="274.00" y1="481.70" x2="276.70" y2="481.70" stroke="#222222" stroke-width="1.1700000000000002" />
<text x="271.3" y="484.6" font-size="8" text-anchor="end" fill="#231f20" >0.4</text>
<line x1="274.00" y1="495.80" x2="276.70" y2="495.80" stroke="#222222" stroke-width="1.1700000000000002" />
<text x="271.3" y="498.7" font-size="8" text-anchor="end" fill="#231f20" >0.3</text>
<line x1="274.00" y1="509.60" x2="276.70" y2="509.60" stroke="#222222" stroke-width="1.1700000000000002" />
<text x="271.3" y="512.5" font-size="8" text-anchor="end" fill="#231f20" >0.2</text>
<line x1="274.00" y1="523.70" x2="276.70" y2="523.70" stroke="#222222" stroke-width="1.1700000000000002" />
<text x="271.3" y="526.6" font-size="8" text-anchor="end" fill="#231f20" >0.1</text>
<line x1="274.00" y1="537.70" x2="276.70" y2="537.70" stroke="#222222" stroke-width="1.1700000000000002" />
<text x="271.3" y="540.6" font-size="8" text-anchor="end" fill="#231f20" >0</text>
<line x1="276.20" y1="537.70" x2="320.40" y2="537.70" stroke="#222222" stroke-width="1.3" />
<line x1="299.10" y1="537.70" x2="299.10" y2="540.20" stroke="#222222" stroke-width="1.1700000000000002" />
<rect x="284.20" y="494.60" width="9.60" height="43.10" fill="#e3869a" />
<rect x="304.40" y="530.40" width="9.60" height="7.30" fill="#82a7c6" />
<line x1="289.00" y1="494.60" x2="289.00" y2="488.10" stroke="#1a1a1a" stroke-width="1.0" />
<line x1="286.80" y1="488.10" x2="291.20" y2="488.10" stroke="#1a1a1a" stroke-width="1.0" />
<line x1="309.20" y1="530.40" x2="309.20" y2="528.20" stroke="#1a1a1a" stroke-width="1.0" />
<line x1="307.00" y1="528.20" x2="311.40" y2="528.20" stroke="#1a1a1a" stroke-width="1.0" />
<circle cx="288.8" cy="479.6" r="1.4" fill="#d9263f"/>
<circle cx="288.8" cy="483.6" r="1.4" fill="#d9263f"/>
<circle cx="288.8" cy="497.1" r="1.4" fill="#d9263f"/>
<circle cx="288.8" cy="503.8" r="1.4" fill="#d9263f"/>
<circle cx="288.8" cy="510.6" r="1.4" fill="#d9263f"/>
<circle cx="304.6" cy="527.0" r="1.4" fill="#d9263f"/>
<circle cx="311.0" cy="528.7" r="1.4" fill="#d9263f"/>
<circle cx="313.8" cy="527.0" r="1.4" fill="#d9263f"/>
<circle cx="307.7" cy="531.2" r="1.4" fill="#d9263f"/>
<circle cx="312.7" cy="531.2" r="1.4" fill="#d9263f"/>
<line x1="283.80" y1="474.60" x2="314.20" y2="474.60" stroke="#333" stroke-width="1.0" />
<text x="287.1" y="471.2" font-size="6.9" fill="#333" textLength="26.0" lengthAdjust="spacingAndGlyphs" ><tspan font-style="italic">P</tspan>=0.0004</text>
<text x="0" y="0" font-size="10.4" transform="translate(254.00 502.70) rotate(-90) scale(0.696 1)" fill="#231f20" text-anchor="middle">Spleen cells (%)</text>
<text x="298.8" y="547.1" font-size="8.5" text-anchor="middle" fill="#231f20" >GFP<tspan dy="-3" font-size="5.2">+</tspan><tspan dy="3">LSK</tspan></text>
<rect x="373.80" y="442.30" width="7.30" height="3.30" fill="#e3869a" />
<rect x="373.80" y="450.60" width="7.30" height="3.30" fill="#82a7c6" />
<text x="383.8" y="446.1" font-size="8" font-style="italic" fill="#231f20" textLength="35.0" lengthAdjust="spacingAndGlyphs" >Anp32b<tspan dy="-3.2" font-size="5.2">+/+</tspan></text>
<text x="383.8" y="454.9" font-size="8" font-style="italic" fill="#231f20" textLength="35.0" lengthAdjust="spacingAndGlyphs" >Anp32b<tspan dy="-3.2" font-size="5.2">−/−</tspan></text>
<line x1="370.40" y1="460.50" x2="370.40" y2="538.60" stroke="#222222" stroke-width="1.3" />
<line x1="367.70" y1="461.00" x2="370.40" y2="461.00" stroke="#222222" stroke-width="1.1700000000000002" />
<text x="363.8" y="463.9" font-size="8" text-anchor="end" fill="#231f20" >80</text>
<line x1="367.70" y1="480.20" x2="370.40" y2="480.20" stroke="#222222" stroke-width="1.1700000000000002" />
<text x="363.8" y="483.1" font-size="8" text-anchor="end" fill="#231f20" >60</text>
<line x1="367.70" y1="499.40" x2="370.40" y2="499.40" stroke="#222222" stroke-width="1.1700000000000002" />
<text x="363.8" y="502.3" font-size="8" text-anchor="end" fill="#231f20" >40</text>
<line x1="367.70" y1="518.80" x2="370.40" y2="518.80" stroke="#222222" stroke-width="1.1700000000000002" />
<text x="363.8" y="521.7" font-size="8" text-anchor="end" fill="#231f20" >20</text>
<line x1="367.70" y1="538.10" x2="370.40" y2="538.10" stroke="#222222" stroke-width="1.1700000000000002" />
<text x="363.8" y="541.0" font-size="8" text-anchor="end" fill="#231f20" >0</text>
<line x1="369.90" y1="538.10" x2="410.40" y2="538.10" stroke="#222222" stroke-width="1.3" />
<line x1="391.60" y1="538.10" x2="391.60" y2="540.60" stroke="#222222" stroke-width="1.1700000000000002" />
<rect x="378.10" y="484.20" width="10.60" height="53.90" fill="#e3869a" />
<rect x="394.60" y="513.80" width="10.40" height="24.30" fill="#82a7c6" />
<line x1="383.40" y1="484.20" x2="383.40" y2="482.30" stroke="#1a1a1a" stroke-width="1.0" />
<line x1="381.20" y1="482.30" x2="385.60" y2="482.30" stroke="#1a1a1a" stroke-width="1.0" />
<line x1="399.80" y1="513.80" x2="399.80" y2="511.80" stroke="#1a1a1a" stroke-width="1.0" />
<line x1="397.60" y1="511.80" x2="402.00" y2="511.80" stroke="#1a1a1a" stroke-width="1.0" />
<circle cx="384.0" cy="485.8" r="1.3" fill="none" stroke="#d9263f" stroke-width="1.1"/>
<circle cx="388.2" cy="481.8" r="1.3" fill="none" stroke="#d9263f" stroke-width="1.1"/>
<circle cx="383.6" cy="483.0" r="1.3" fill="none" stroke="#d9263f" stroke-width="1.1"/>
<circle cx="404.5" cy="511.2" r="1.3" fill="none" stroke="#d9263f" stroke-width="1.1"/>
<circle cx="398.5" cy="516.3" r="1.3" fill="none" stroke="#d9263f" stroke-width="1.1"/>
<circle cx="399.5" cy="513.5" r="1.3" fill="none" stroke="#d9263f" stroke-width="1.1"/>
<line x1="377.30" y1="475.00" x2="405.00" y2="475.00" stroke="#333" stroke-width="1.0" />
<text x="378.7" y="470.2" font-size="6.9" fill="#333" textLength="25.9" lengthAdjust="spacingAndGlyphs" ><tspan font-style="italic">P</tspan>=0.0001</text>
<text x="0" y="0" font-size="10.4" transform="translate(350.20 499.50) rotate(-90) scale(0.723 1)" fill="#231f20" text-anchor="middle">Colony number</text>
<text x="391.2" y="549.0" font-size="8.5" text-anchor="middle" fill="#231f20" >1<tspan dy="-3" font-size="5">st</tspan><tspan dy="3">CFU</tspan></text>
<rect x="467.10" y="442.20" width="7.50" height="3.30" fill="#e3869a" />
<rect x="467.10" y="450.60" width="7.50" height="3.30" fill="#82a7c6" />
<text x="477.6" y="446.1" font-size="8" font-style="italic" fill="#231f20" textLength="35.0" lengthAdjust="spacingAndGlyphs" >Anp32b<tspan dy="-3.2" font-size="5.2">+/+</tspan></text>
<text x="477.6" y="454.9" font-size="8" font-style="italic" fill="#231f20" textLength="35.0" lengthAdjust="spacingAndGlyphs" >Anp32b<tspan dy="-3.2" font-size="5.2">−/−</tspan></text>
<line x1="463.50" y1="460.20" x2="463.50" y2="538.60" stroke="#222222" stroke-width="1.3" />
<line x1="460.80" y1="460.70" x2="463.50" y2="460.70" stroke="#222222" stroke-width="1.1700000000000002" />
<text x="458.0" y="463.6" font-size="8" text-anchor="end" fill="#231f20" >30</text>
<line x1="460.80" y1="486.60" x2="463.50" y2="486.60" stroke="#222222" stroke-width="1.1700000000000002" />
<text x="458.0" y="489.5" font-size="8" text-anchor="end" fill="#231f20" >20</text>
<line x1="460.80" y1="512.20" x2="463.50" y2="512.20" stroke="#222222" stroke-width="1.1700000000000002" />
<text x="458.0" y="515.1" font-size="8" text-anchor="end" fill="#231f20" >10</text>
<line x1="460.80" y1="538.10" x2="463.50" y2="538.10" stroke="#222222" stroke-width="1.1700000000000002" />
<text x="458.0" y="541.0" font-size="8" text-anchor="end" fill="#231f20" >0</text>
<line x1="463.00" y1="538.10" x2="504.90" y2="538.10" stroke="#222222" stroke-width="1.3" />
<line x1="484.80" y1="538.10" x2="484.80" y2="540.60" stroke="#222222" stroke-width="1.1700000000000002" />
<rect x="471.50" y="478.10" width="10.10" height="60.00" fill="#e3869a" />
<rect x="487.70" y="533.00" width="10.50" height="5.10" fill="#82a7c6" />
<line x1="476.50" y1="478.10" x2="476.50" y2="474.80" stroke="#1a1a1a" stroke-width="1.0" />
<line x1="474.30" y1="474.80" x2="478.70" y2="474.80" stroke="#1a1a1a" stroke-width="1.0" />
<line x1="492.90" y1="533.00" x2="492.90" y2="531.30" stroke="#1a1a1a" stroke-width="1.0" />
<line x1="490.70" y1="531.30" x2="495.10" y2="531.30" stroke="#1a1a1a" stroke-width="1.0" />
<circle cx="476.5" cy="473.6" r="1.3" fill="none" stroke="#d9263f" stroke-width="1.1"/>
<circle cx="476.5" cy="484.0" r="1.3" fill="none" stroke="#d9263f" stroke-width="1.1"/>
<circle cx="475.7" cy="477.0" r="1.3" fill="none" stroke="#d9263f" stroke-width="1.1"/>
<circle cx="488.2" cy="531.9" r="1.3" fill="none" stroke="#d9263f" stroke-width="1.1"/>
<circle cx="492.9" cy="530.2" r="1.3" fill="none" stroke="#d9263f" stroke-width="1.1"/>
<circle cx="497.6" cy="532.0" r="1.3" fill="none" stroke="#d9263f" stroke-width="1.1"/>
<line x1="471.10" y1="468.80" x2="497.80" y2="468.80" stroke="#333" stroke-width="1.0" />
<text x="472.1" y="464.4" font-size="6.9" fill="#333" textLength="26.0" lengthAdjust="spacingAndGlyphs" ><tspan font-style="italic">P</tspan>&lt;0.0001</text>
<text x="0" y="0" font-size="10.4" transform="translate(443.30 499.20) rotate(-90) scale(0.732 1)" fill="#231f20" text-anchor="middle">Colony number</text>
<text x="484.7" y="549.2" font-size="8.5" text-anchor="middle" fill="#231f20" >2<tspan dy="-3" font-size="5">nd</tspan><tspan dy="3">CFU</tspan></text>
<rect x="110.00" y="630.80" width="7.10" height="3.40" fill="#e3869a" />
<rect x="110.00" y="638.80" width="7.10" height="3.40" fill="#82a7c6" />
<text x="120.4" y="634.8" font-size="8" font-style="italic" fill="#231f20" textLength="35.0" lengthAdjust="spacingAndGlyphs" >Anp32b<tspan dy="-3.2" font-size="5.2">+/+</tspan></text>
<text x="120.4" y="643.0" font-size="8" font-style="italic" fill="#231f20" textLength="35.0" lengthAdjust="spacingAndGlyphs" >Anp32b<tspan dy="-3.2" font-size="5.2">−/−</tspan></text>
<line x1="40.40" y1="638.00" x2="40.40" y2="689.00" stroke="#222222" stroke-width="1.3" />
<line x1="37.70" y1="638.50" x2="40.40" y2="638.50" stroke="#222222" stroke-width="1.1700000000000002" />
<text x="33.8" y="641.4" font-size="8" text-anchor="end" fill="#231f20" >60</text>
<line x1="37.70" y1="655.30" x2="40.40" y2="655.30" stroke="#222222" stroke-width="1.1700000000000002" />
<text x="33.8" y="658.2" font-size="8" text-anchor="end" fill="#231f20" >40</text>
<line x1="37.70" y1="671.70" x2="40.40" y2="671.70" stroke="#222222" stroke-width="1.1700000000000002" />
<text x="33.8" y="674.6" font-size="8" text-anchor="end" fill="#231f20" >20</text>
<line x1="37.70" y1="688.50" x2="40.40" y2="688.50" stroke="#222222" stroke-width="1.1700000000000002" />
<text x="33.8" y="691.4" font-size="8" text-anchor="end" fill="#231f20" >0</text>
<line x1="39.90" y1="688.50" x2="136.30" y2="688.50" stroke="#222222" stroke-width="1.3" />
<line x1="55.40" y1="688.50" x2="55.40" y2="691.00" stroke="#222222" stroke-width="1.1700000000000002" />
<line x1="87.60" y1="688.50" x2="87.60" y2="691.00" stroke="#222222" stroke-width="1.1700000000000002" />
<line x1="120.20" y1="688.50" x2="120.20" y2="691.00" stroke="#222222" stroke-width="1.1700000000000002" />
<rect x="45.30" y="658.49" width="7.50" height="30.01" fill="#e3869a" />
<line x1="49.05" y1="658.49" x2="49.05" y2="656.83" stroke="#1a1a1a" stroke-width="1.0" />
<line x1="47.25" y1="656.83" x2="50.85" y2="656.83" stroke="#1a1a1a" stroke-width="1.0" />
<circle cx="46.0" cy="657.7" r="1.3" fill="none" stroke="#d9263f" stroke-width="1.1"/>
<circle cx="49.5" cy="654.3" r="1.3" fill="none" stroke="#d9263f" stroke-width="1.1"/>
<circle cx="53.0" cy="657.2" r="1.3" fill="none" stroke="#d9263f" stroke-width="1.1"/>
<circle cx="47.5" cy="658.5" r="1.3" fill="none" stroke="#d9263f" stroke-width="1.1"/>
<rect x="57.50" y="675.16" width="7.90" height="13.34" fill="#82a7c6" />
<line x1="61.45" y1="675.16" x2="61.45" y2="673.91" stroke="#1a1a1a" stroke-width="1.0" />
<line x1="59.65" y1="673.91" x2="63.25" y2="673.91" stroke="#1a1a1a" stroke-width="1.0" />
<circle cx="58.5" cy="676.8" r="1.3" fill="none" stroke="#d9263f" stroke-width="1.1"/>
<circle cx="62.5" cy="673.5" r="1.3" fill="none" stroke="#d9263f" stroke-width="1.1"/>
<circle cx="64.8" cy="672.7" r="1.3" fill="none" stroke="#d9263f" stroke-width="1.1"/>
<circle cx="63.5" cy="676.4" r="1.3" fill="none" stroke="#d9263f" stroke-width="1.1"/>
<rect x="77.70" y="658.49" width="8.10" height="30.01" fill="#e3869a" />
<line x1="81.75" y1="658.49" x2="81.75" y2="656.41" stroke="#1a1a1a" stroke-width="1.0" />
<line x1="79.95" y1="656.41" x2="83.55" y2="656.41" stroke="#1a1a1a" stroke-width="1.0" />
<circle cx="78.0" cy="655.6" r="1.3" fill="none" stroke="#d9263f" stroke-width="1.1"/>
<circle cx="82.2" cy="654.3" r="1.3" fill="none" stroke="#d9263f" stroke-width="1.1"/>
<circle cx="79.5" cy="664.3" r="1.3" fill="none" stroke="#d9263f" stroke-width="1.1"/>
<circle cx="79.5" cy="661.0" r="1.3" fill="none" stroke="#d9263f" stroke-width="1.1"/>
<rect x="90.20" y="645.57" width="7.70" height="42.93" fill="#82a7c6" />
<line x1="94.05" y1="645.57" x2="94.05" y2="643.91" stroke="#1a1a1a" stroke-width="1.0" />
<line x1="92.25" y1="643.91" x2="95.85" y2="643.91" stroke="#1a1a1a" stroke-width="1.0" />
<circle cx="91.5" cy="645.2" r="1.3" fill="none" stroke="#d9263f" stroke-width="1.1"/>
<circle cx="95.6" cy="641.0" r="1.3" fill="none" stroke="#d9263f" stroke-width="1.1"/>
<circle cx="93.0" cy="647.7" r="1.3" fill="none" stroke="#d9263f" stroke-width="1.1"/>
<circle cx="93.0" cy="649.3" r="1.3" fill="none" stroke="#d9263f" stroke-width="1.1"/>
<rect x="110.40" y="669.75" width="7.70" height="18.75" fill="#e3869a" />
<line x1="114.25" y1="669.75" x2="114.25" y2="668.50" stroke="#1a1a1a" stroke-width="1.0" />
<line x1="112.45" y1="668.50" x2="116.05" y2="668.50" stroke="#1a1a1a" stroke-width="1.0" />
<circle cx="111.0" cy="671.4" r="1.3" fill="none" stroke="#d9263f" stroke-width="1.1"/>
<circle cx="114.2" cy="669.5" r="1.3" fill="none" stroke="#d9263f" stroke-width="1.1"/>
<circle cx="116.8" cy="668.1" r="1.3" fill="none" stroke="#d9263f" stroke-width="1.1"/>
<circle cx="112.5" cy="670.6" r="1.3" fill="none" stroke="#d9263f" stroke-width="1.1"/>
<rect x="122.50" y="662.66" width="7.50" height="25.84" fill="#82a7c6" />
<line x1="126.25" y1="662.66" x2="126.25" y2="660.99" stroke="#1a1a1a" stroke-width="1.0" />
<line x1="124.45" y1="660.99" x2="128.05" y2="660.99" stroke="#1a1a1a" stroke-width="1.0" />
<circle cx="125.0" cy="664.7" r="1.3" fill="none" stroke="#d9263f" stroke-width="1.1"/>
<circle cx="126.2" cy="659.3" r="1.3" fill="none" stroke="#d9263f" stroke-width="1.1"/>
<circle cx="129.0" cy="658.1" r="1.3" fill="none" stroke="#d9263f" stroke-width="1.1"/>
<circle cx="124.0" cy="661.0" r="1.3" fill="none" stroke="#d9263f" stroke-width="1.1"/>
<line x1="45.30" y1="651.50" x2="66.30" y2="651.50" stroke="#333" stroke-width="1.0" />
<text x="43.6" y="648.4" font-size="6.9" fill="#333" textLength="25.6" lengthAdjust="spacingAndGlyphs" ><tspan font-style="italic">P</tspan>&lt;0.0001</text>
<line x1="78.70" y1="638.80" x2="98.80" y2="638.80" stroke="#333" stroke-width="1.0" />
<text x="76.7" y="635.6" font-size="6.9" fill="#333" textLength="26.0" lengthAdjust="spacingAndGlyphs" ><tspan font-style="italic">P</tspan>=0.0059</text>
<line x1="110.00" y1="656.70" x2="130.00" y2="656.70" stroke="#333" stroke-width="1.0" />
<text x="109.4" y="653.5" font-size="6.9" fill="#333" textLength="23.1" lengthAdjust="spacingAndGlyphs" ><tspan font-style="italic">P</tspan>=0.062</text>
<text x="0" y="0" font-size="10.4" transform="translate(18.50 663.50) rotate(-90) scale(0.694 1)" fill="#231f20" text-anchor="middle">GFP<tspan dy="-3" font-size="5.2">+</tspan><tspan dy="3">LSK %</tspan></text>
<text x="55.4" y="701.2" font-size="8.8" text-anchor="middle" fill="#231f20" >G<tspan dy="2" font-size="5.5">0</tspan></text>
<text x="87.0" y="700.2" font-size="8.8" text-anchor="middle" fill="#231f20" >G<tspan dy="2" font-size="5.5">1</tspan></text>
<text x="119.6" y="700.2" font-size="8.8" text-anchor="middle" fill="#231f20" >S-G<tspan dy="2" font-size="5.5">2</tspan><tspan dy="-2">-M</tspan></text>
<rect x="288.00" y="581.20" width="7.70" height="3.60" fill="#e3869a" />
<rect x="288.00" y="590.00" width="7.70" height="3.60" fill="#82a7c6" />
<text x="298.5" y="585.8" font-size="8" font-style="italic" fill="#231f20" textLength="35.0" lengthAdjust="spacingAndGlyphs" >Anp32b<tspan dy="-3.2" font-size="5.2">+/+</tspan></text>
<text x="298.5" y="594.5" font-size="8" font-style="italic" fill="#231f20" textLength="35.0" lengthAdjust="spacingAndGlyphs" >Anp32b<tspan dy="-3.2" font-size="5.2">−/−</tspan></text>
<line x1="282.10" y1="601.00" x2="282.10" y2="689.10" stroke="#222222" stroke-width="1.3" />
<line x1="279.40" y1="601.50" x2="282.10" y2="601.50" stroke="#222222" stroke-width="1.1700000000000002" />
<text x="276.0" y="604.4" font-size="8" text-anchor="end" fill="#231f20" >80</text>
<line x1="279.40" y1="623.30" x2="282.10" y2="623.30" stroke="#222222" stroke-width="1.1700000000000002" />
<text x="276.0" y="626.2" font-size="8" text-anchor="end" fill="#231f20" >60</text>
<line x1="279.40" y1="645.20" x2="282.10" y2="645.20" stroke="#222222" stroke-width="1.1700000000000002" />
<text x="276.0" y="648.1" font-size="8" text-anchor="end" fill="#231f20" >40</text>
<line x1="279.40" y1="666.80" x2="282.10" y2="666.80" stroke="#222222" stroke-width="1.1700000000000002" />
<text x="276.0" y="669.7" font-size="8" text-anchor="end" fill="#231f20" >20</text>
<line x1="279.40" y1="688.60" x2="282.10" y2="688.60" stroke="#222222" stroke-width="1.1700000000000002" />
<text x="276.0" y="691.5" font-size="8" text-anchor="end" fill="#231f20" >0</text>
<line x1="281.60" y1="688.60" x2="345.40" y2="688.60" stroke="#222222" stroke-width="1.3" />
<line x1="297.90" y1="688.60" x2="297.90" y2="691.10" stroke="#222222" stroke-width="1.1700000000000002" />
<line x1="330.20" y1="688.60" x2="330.20" y2="691.10" stroke="#222222" stroke-width="1.1700000000000002" />
<rect x="288.00" y="635.74" width="7.70" height="52.87" fill="#e3869a" />
<line x1="291.85" y1="635.74" x2="291.85" y2="635.19" stroke="#1a1a1a" stroke-width="1.0" />
<line x1="290.05" y1="635.19" x2="293.65" y2="635.19" stroke="#1a1a1a" stroke-width="1.0" />
<circle cx="289.3" cy="635.7" r="1.3" fill="none" stroke="#d9263f" stroke-width="1.1"/>
<circle cx="292.0" cy="636.1" r="1.3" fill="none" stroke="#d9263f" stroke-width="1.1"/>
<circle cx="294.5" cy="635.6" r="1.3" fill="none" stroke="#d9263f" stroke-width="1.1"/>
<rect x="300.00" y="658.62" width="7.70" height="29.98" fill="#82a7c6" />
<line x1="303.85" y1="658.62" x2="303.85" y2="655.90" stroke="#1a1a1a" stroke-width="1.0" />
<line x1="302.05" y1="655.90" x2="305.65" y2="655.90" stroke="#1a1a1a" stroke-width="1.0" />
<circle cx="301.5" cy="658.6" r="1.3" fill="none" stroke="#d9263f" stroke-width="1.1"/>
<circle cx="306.5" cy="659.2" r="1.3" fill="none" stroke="#d9263f" stroke-width="1.1"/>
<circle cx="303.8" cy="653.7" r="1.3" fill="none" stroke="#d9263f" stroke-width="1.1"/>
<rect x="320.30" y="637.37" width="7.60" height="51.23" fill="#e3869a" />
<line x1="324.10" y1="637.37" x2="324.10" y2="636.83" stroke="#1a1a1a" stroke-width="1.0" />
<line x1="322.30" y1="636.83" x2="325.90" y2="636.83" stroke="#1a1a1a" stroke-width="1.0" />
<circle cx="321.5" cy="636.8" r="1.3" fill="none" stroke="#d9263f" stroke-width="1.1"/>
<circle cx="324.0" cy="636.5" r="1.3" fill="none" stroke="#d9263f" stroke-width="1.1"/>
<circle cx="326.5" cy="637.4" r="1.3" fill="none" stroke="#d9263f" stroke-width="1.1"/>
<rect x="332.50" y="615.57" width="7.60" height="73.03" fill="#82a7c6" />
<line x1="336.30" y1="615.57" x2="336.30" y2="614.48" stroke="#1a1a1a" stroke-width="1.0" />
<line x1="334.50" y1="614.48" x2="338.10" y2="614.48" stroke="#1a1a1a" stroke-width="1.0" />
<circle cx="333.8" cy="614.5" r="1.3" fill="none" stroke="#d9263f" stroke-width="1.1"/>
<circle cx="338.5" cy="612.3" r="1.3" fill="none" stroke="#d9263f" stroke-width="1.1"/>
<circle cx="334.0" cy="617.2" r="1.3" fill="none" stroke="#d9263f" stroke-width="1.1"/>
<line x1="287.00" y1="631.90" x2="308.80" y2="631.90" stroke="#6b6b6b" stroke-width="1.4" />
<text x="285.9" y="628.1" font-size="6.9" fill="#333" textLength="26.1" lengthAdjust="spacingAndGlyphs" ><tspan font-style="italic">P</tspan>=0.0002</text>
<line x1="319.20" y1="610.50" x2="340.10" y2="610.50" stroke="#333" stroke-width="1.1" />
<text x="318.3" y="607.4" font-size="6.9" fill="#333" textLength="25.5" lengthAdjust="spacingAndGlyphs" ><tspan font-style="italic">P</tspan>&lt;0.0001</text>
<text x="0" y="0" font-size="10.4" transform="translate(262.50 646.00) rotate(-90) scale(0.673 1)" fill="#231f20" text-anchor="middle">GFP<tspan dy="-3" font-size="5.2">+</tspan><tspan dy="3">LSK (%)</tspan></text>
<text x="297.9" y="700.8" font-size="8.8" text-anchor="middle" fill="#231f20" >G1</text>
<text x="330.1" y="700.8" font-size="8.8" text-anchor="middle" fill="#231f20" >G2</text>
<rect x="467.10" y="581.60" width="7.70" height="3.50" fill="#e3869a" />
<rect x="467.10" y="590.40" width="7.70" height="3.50" fill="#82a7c6" />
<text x="477.6" y="585.9" font-size="8" font-style="italic" fill="#231f20" textLength="35.0" lengthAdjust="spacingAndGlyphs" >Anp32b<tspan dy="-3.2" font-size="5.2">+/+</tspan></text>
<text x="477.6" y="594.6" font-size="8" font-style="italic" fill="#231f20" textLength="35.0" lengthAdjust="spacingAndGlyphs" >Anp32b<tspan dy="-3.2" font-size="5.2">−/−</tspan></text>
<line x1="462.80" y1="603.00" x2="462.80" y2="689.10" stroke="#222222" stroke-width="1.3" />
<line x1="460.10" y1="603.50" x2="462.80" y2="603.50" stroke="#222222" stroke-width="1.1700000000000002" />
<text x="457.3" y="606.4" font-size="8" text-anchor="end" fill="#231f20" >80</text>
<line x1="460.10" y1="624.90" x2="462.80" y2="624.90" stroke="#222222" stroke-width="1.1700000000000002" />
<text x="457.3" y="627.8" font-size="8" text-anchor="end" fill="#231f20" >60</text>
<line x1="460.10" y1="646.30" x2="462.80" y2="646.30" stroke="#222222" stroke-width="1.1700000000000002" />
<text x="457.3" y="649.2" font-size="8" text-anchor="end" fill="#231f20" >40</text>
<line x1="460.10" y1="667.40" x2="462.80" y2="667.40" stroke="#222222" stroke-width="1.1700000000000002" />
<text x="457.3" y="670.3" font-size="8" text-anchor="end" fill="#231f20" >20</text>
<line x1="460.10" y1="688.60" x2="462.80" y2="688.60" stroke="#222222" stroke-width="1.1700000000000002" />
<text x="457.3" y="691.5" font-size="8" text-anchor="end" fill="#231f20" >0</text>
<line x1="462.30" y1="688.60" x2="498.80" y2="688.60" stroke="#222222" stroke-width="1.3" />
<rect x="468.20" y="647.12" width="8.10" height="41.48" fill="#e3869a" />
<rect x="484.60" y="629.04" width="8.70" height="59.56" fill="#82a7c6" />
<line x1="472.20" y1="647.12" x2="472.20" y2="644.46" stroke="#1a1a1a" stroke-width="1.0" />
<line x1="470.00" y1="644.46" x2="474.40" y2="644.46" stroke="#1a1a1a" stroke-width="1.0" />
<line x1="489.00" y1="629.04" x2="489.00" y2="626.39" stroke="#1a1a1a" stroke-width="1.0" />
<line x1="486.80" y1="626.39" x2="491.20" y2="626.39" stroke="#1a1a1a" stroke-width="1.0" />
<circle cx="469.8" cy="644.0" r="1.3" fill="#d9263f"/>
<circle cx="474.2" cy="643.2" r="1.3" fill="#d9263f"/>
<circle cx="477.8" cy="641.6" r="1.3" fill="#d9263f"/>
<circle cx="472.8" cy="658.3" r="1.3" fill="#d9263f"/>
<circle cx="486.6" cy="624.5" r="1.3" fill="#d9263f"/>
<circle cx="491.0" cy="622.3" r="1.3" fill="#d9263f"/>
<circle cx="495.8" cy="625.2" r="1.3" fill="#d9263f"/>
<circle cx="489.5" cy="633.4" r="1.3" fill="#d9263f"/>
<line x1="468.90" y1="618.30" x2="494.40" y2="618.30" stroke="#333" stroke-width="1.0" />
<text x="468.9" y="615.0" font-size="6.9" fill="#333" textLength="26.2" lengthAdjust="spacingAndGlyphs" ><tspan font-style="italic">P</tspan>=0.0019</text>
<text x="0" y="0" font-size="10.4" transform="translate(442.50 643.00) rotate(-90) scale(0.675 1)" fill="#231f20" text-anchor="middle">GFP<tspan dy="-3" font-size="5.2">+</tspan><tspan dy="3">LSK (%)</tspan></text>
<text x="453.6" y="698.0" font-size="8.8" fill="#231f20" textLength="53.9" lengthAdjust="spacingAndGlyphs" >Apoptotic cells</text>
</svg>
</body></html>
